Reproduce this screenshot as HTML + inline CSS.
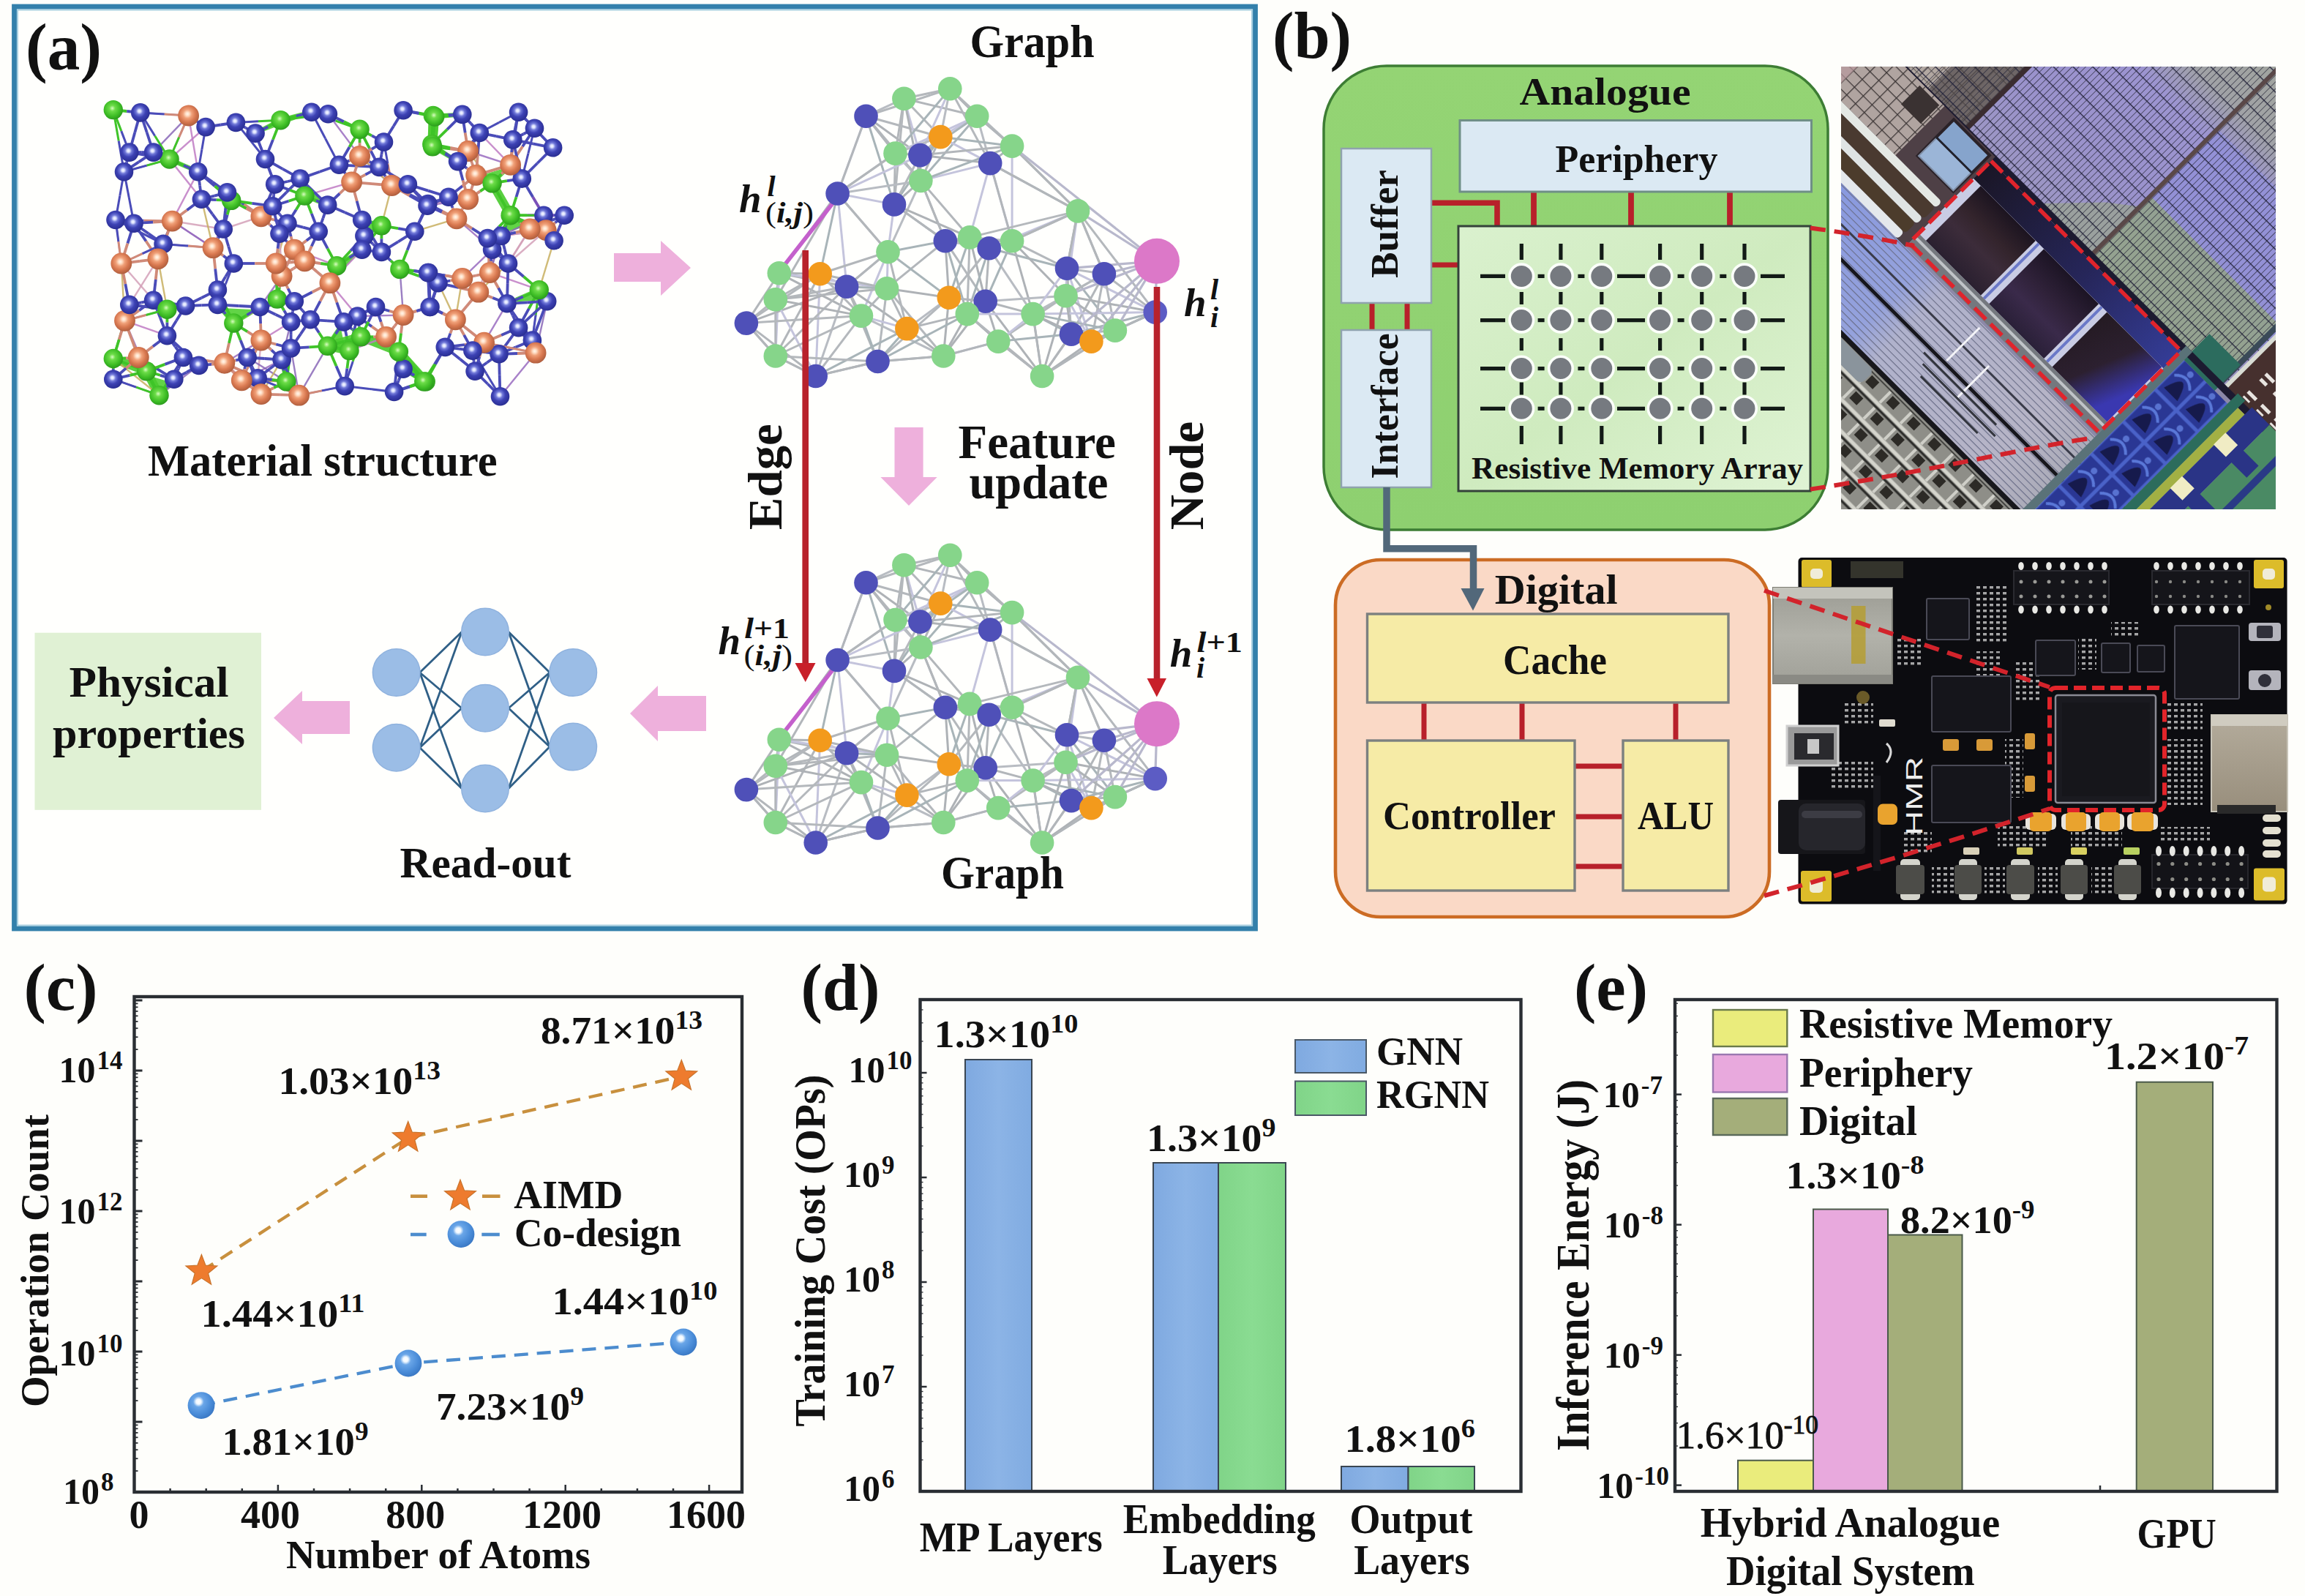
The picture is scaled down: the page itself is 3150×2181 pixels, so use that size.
<!DOCTYPE html>
<html lang="en"><head><meta charset="utf-8"><title>Figure</title>
<style>html,body{margin:0;padding:0;background:#fefefb}svg{display:block}</style>
</head><body>
<svg width="3150" height="2181" viewBox="0 0 3150 2181" font-family='"Liberation Serif", "DejaVu Serif", serif' fill="#111">
<defs>
<radialGradient id="gB" cx="45%" cy="42%" r="60%"><stop offset="0" stop-color="#f4f6ff"/><stop offset="0.12" stop-color="#dfe4ff"/><stop offset="0.3" stop-color="#7078d8"/><stop offset="0.55" stop-color="#3d42b4"/><stop offset="1" stop-color="#282c90"/></radialGradient>
<radialGradient id="gG" cx="45%" cy="42%" r="60%"><stop offset="0" stop-color="#d8fcc0"/><stop offset="0.25" stop-color="#6cdc48"/><stop offset="0.7" stop-color="#3cbc24"/><stop offset="1" stop-color="#2a981c"/></radialGradient>
<radialGradient id="gO" cx="45%" cy="42%" r="60%"><stop offset="0" stop-color="#fff6ec"/><stop offset="0.14" stop-color="#ffe0c8"/><stop offset="0.35" stop-color="#f0a078"/><stop offset="0.65" stop-color="#d87850"/><stop offset="1" stop-color="#ac5c3c"/></radialGradient>
<radialGradient id="gBall" cx="40%" cy="36%" r="66%"><stop offset="0" stop-color="#ffffff"/><stop offset="0.14" stop-color="#f0f8ff"/><stop offset="0.3" stop-color="#6aa6e8"/><stop offset="0.7" stop-color="#4a8cd8"/><stop offset="1" stop-color="#3a78c4"/></radialGradient>
<radialGradient id="gMem" cx="50%" cy="50%" r="50%"><stop offset="0" stop-color="#6a7078"/><stop offset="0.72" stop-color="#7a8088"/><stop offset="0.8" stop-color="#c8d4c4"/><stop offset="1" stop-color="#e4f2d8" stop-opacity="0.6"/></radialGradient>
<linearGradient id="gArr" x1="0" y1="0" x2="1" y2="1"><stop offset="0" stop-color="#daf1ce"/><stop offset="0.5" stop-color="#cfebbf"/><stop offset="1" stop-color="#dff3d4"/></linearGradient>
<linearGradient id="gAna" x1="0" y1="0" x2="0" y2="1"><stop offset="0" stop-color="#94d474"/><stop offset="1" stop-color="#8ed070"/></linearGradient>
<linearGradient id="gBlue" x1="0" y1="0" x2="1" y2="0"><stop offset="0" stop-color="#7fa9e0"/><stop offset="0.5" stop-color="#8cb4e6"/><stop offset="1" stop-color="#80abe1"/></linearGradient>
<linearGradient id="gGreen" x1="0" y1="0" x2="1" y2="0"><stop offset="0" stop-color="#80d488"/><stop offset="0.5" stop-color="#8adc92"/><stop offset="1" stop-color="#80d488"/></linearGradient>
</defs>
<rect x="0.0" y="0.0" width="3150.0" height="2181.0" fill="#fefefb"/>
<rect x="19.5" y="9" width="1696" height="1260" fill="#fffffd" stroke="#3380ab" stroke-width="6.8"/>
<rect x="24" y="13.5" width="1687" height="1251" fill="none" stroke="#6fb0cf" stroke-width="2" opacity="0.6"/>
<text x="35.0" y="95.4" font-size="92" font-weight="bold" textLength="104.0" lengthAdjust="spacingAndGlyphs">(a)</text>
<text x="1739.0" y="78.5" font-size="92" font-weight="bold" textLength="108.0" lengthAdjust="spacingAndGlyphs">(b)</text>
<text x="32.5" y="1380.0" font-size="92" font-weight="bold" textLength="101.0" lengthAdjust="spacingAndGlyphs">(c)</text>
<text x="1094.5" y="1380.0" font-size="92" font-weight="bold" textLength="108.0" lengthAdjust="spacingAndGlyphs">(d)</text>
<text x="2151.0" y="1380.0" font-size="92" font-weight="bold" textLength="101.0" lengthAdjust="spacingAndGlyphs">(e)</text>
<g id="mol">
<polygon points="383.5,164.2 359.4,176.7 413.1,156.5" fill="#52d034" stroke="#52d034" stroke-width="6" stroke-linejoin="round" opacity="0.9"/>
<polygon points="591.9,158.0 593.5,159.1 590.8,185.4" fill="#52d034" stroke="#52d034" stroke-width="6" stroke-linejoin="round" opacity="0.9"/>
<polygon points="231.6,217.5 216.2,210.9 259.0,229.5" fill="#52d034" stroke="#52d034" stroke-width="6" stroke-linejoin="round" opacity="0.9"/>
<polygon points="590.3,197.1 590.9,199.3 593.1,170.8" fill="#52d034" stroke="#52d034" stroke-width="6" stroke-linejoin="round" opacity="0.9"/>
<polygon points="416.4,267.6 412.0,251.2 438.3,276.4" fill="#52d034" stroke="#52d034" stroke-width="6" stroke-linejoin="round" opacity="0.9"/>
<polygon points="521.4,308.3 504.9,318.2 502.7,302.9" fill="#52d034" stroke="#52d034" stroke-width="6" stroke-linejoin="round" opacity="0.9"/>
<polygon points="460.3,363.2 453.7,379.6 484.4,347.8" fill="#52d034" stroke="#52d034" stroke-width="6" stroke-linejoin="round" opacity="0.9"/>
<polygon points="319.3,441.5 303.9,423.9 344.5,426.1" fill="#52d034" stroke="#52d034" stroke-width="6" stroke-linejoin="round" opacity="0.9"/>
<polygon points="447.7,472.8 468.6,477.2 463.1,449.8" fill="#52d034" stroke="#52d034" stroke-width="6" stroke-linejoin="round" opacity="0.9"/>
<polygon points="477.5,479.1 488.5,465.9 456.7,474.7" fill="#52d034" stroke="#52d034" stroke-width="6" stroke-linejoin="round" opacity="0.9"/>
<polygon points="544.9,480.6 549.2,497.1 532.8,466.4" fill="#52d034" stroke="#52d034" stroke-width="6" stroke-linejoin="round" opacity="0.9"/>
<polygon points="200.3,507.3 192.6,494.1 212.3,530.3" fill="#52d034" stroke="#52d034" stroke-width="6" stroke-linejoin="round" opacity="0.9"/>
<polygon points="217.5,540.2 231.7,524.8 205.4,517.1" fill="#52d034" stroke="#52d034" stroke-width="6" stroke-linejoin="round" opacity="0.9"/>
<polygon points="391.4,521.4 403.4,534.5 387.0,500.5" fill="#52d034" stroke="#52d034" stroke-width="6" stroke-linejoin="round" opacity="0.9"/>
<polygon points="579.3,521.4 581.0,521.4 559.6,509.3" fill="#52d034" stroke="#52d034" stroke-width="6" stroke-linejoin="round" opacity="0.9"/>
<polygon points="594.2,159.5 592.6,158.4 620.6,157.3" fill="#52d034" stroke="#52d034" stroke-width="6" stroke-linejoin="round" opacity="0.9"/>
<polygon points="591.1,200.3 590.5,198.1 615.2,214.5" fill="#52d034" stroke="#52d034" stroke-width="6" stroke-linejoin="round" opacity="0.9"/>
<polygon points="672.6,250.4 657.2,242.7 690.1,232.8" fill="#52d034" stroke="#52d034" stroke-width="6" stroke-linejoin="round" opacity="0.9"/>
<polygon points="697.6,294.2 688.8,314.0 716.3,307.4" fill="#52d034" stroke="#52d034" stroke-width="6" stroke-linejoin="round" opacity="0.9"/>
<polygon points="736.8,396.1 744.5,407.0 706.1,409.2" fill="#52d034" stroke="#52d034" stroke-width="6" stroke-linejoin="round" opacity="0.9"/>
<polygon points="581.7,521.4 580.0,521.4 560.3,509.3" fill="#52d034" stroke="#52d034" stroke-width="6" stroke-linejoin="round" opacity="0.9"/>
<line x1="591.9" y1="158.0" x2="590.3" y2="197.1" stroke="#4ccc30" stroke-width="12" stroke-linecap="round" opacity="0.92"/>
<line x1="591.9" y1="158.0" x2="594.2" y2="159.5" stroke="#4ccc30" stroke-width="12" stroke-linecap="round" opacity="0.92"/>
<line x1="591.9" y1="158.0" x2="591.1" y2="200.3" stroke="#4ccc30" stroke-width="12" stroke-linecap="round" opacity="0.92"/>
<line x1="590.3" y1="197.1" x2="594.2" y2="159.5" stroke="#4ccc30" stroke-width="12" stroke-linecap="round" opacity="0.92"/>
<line x1="590.3" y1="197.1" x2="591.1" y2="200.3" stroke="#4ccc30" stroke-width="12" stroke-linecap="round" opacity="0.92"/>
<line x1="447.7" y1="472.8" x2="477.5" y2="479.1" stroke="#4ccc30" stroke-width="12" stroke-linecap="round" opacity="0.92"/>
<line x1="447.7" y1="472.8" x2="493.2" y2="460.3" stroke="#4ccc30" stroke-width="12" stroke-linecap="round" opacity="0.92"/>
<line x1="477.5" y1="479.1" x2="493.2" y2="460.3" stroke="#4ccc30" stroke-width="12" stroke-linecap="round" opacity="0.92"/>
<line x1="493.2" y1="460.3" x2="544.9" y2="480.6" stroke="#4ccc30" stroke-width="12" stroke-linecap="round" opacity="0.92"/>
<line x1="154.8" y1="490.0" x2="200.3" y2="507.3" stroke="#4ccc30" stroke-width="12" stroke-linecap="round" opacity="0.92"/>
<line x1="544.9" y1="480.6" x2="579.3" y2="521.4" stroke="#4ccc30" stroke-width="12" stroke-linecap="round" opacity="0.92"/>
<line x1="544.9" y1="480.6" x2="581.7" y2="521.4" stroke="#4ccc30" stroke-width="12" stroke-linecap="round" opacity="0.92"/>
<line x1="200.3" y1="507.3" x2="217.5" y2="540.2" stroke="#4ccc30" stroke-width="12" stroke-linecap="round" opacity="0.92"/>
<line x1="579.3" y1="521.4" x2="581.7" y2="521.4" stroke="#4ccc30" stroke-width="12" stroke-linecap="round" opacity="0.92"/>
<line x1="594.2" y1="159.5" x2="591.1" y2="200.3" stroke="#4ccc30" stroke-width="12" stroke-linecap="round" opacity="0.92"/>
<line x1="672.6" y1="250.4" x2="697.6" y2="294.2" stroke="#4ccc30" stroke-width="12" stroke-linecap="round" opacity="0.92"/>
<line x1="257.6" y1="158.0" x2="191.8" y2="153.9" stroke="#8a68b8" stroke-width="2.4" opacity="0.85"/>
<line x1="257.6" y1="158.0" x2="209.6" y2="208.1" stroke="#8a68b8" stroke-width="2.4" opacity="0.85"/>
<line x1="257.6" y1="158.0" x2="270.7" y2="234.7" stroke="#c07cc4" stroke-width="2.4" opacity="0.85"/>
<line x1="231.6" y1="217.5" x2="169.5" y2="234.7" stroke="#8a68b8" stroke-width="2.4" opacity="0.85"/>
<line x1="231.6" y1="217.5" x2="257.6" y2="158.0" stroke="#c07cc4" stroke-width="2.4" opacity="0.85"/>
<line x1="231.6" y1="217.5" x2="281.1" y2="173.6" stroke="#c07cc4" stroke-width="2.4" opacity="0.85"/>
<line x1="231.6" y1="217.5" x2="275.4" y2="272.3" stroke="#c07cc4" stroke-width="2.4" opacity="0.85"/>
<line x1="491.6" y1="213.4" x2="480.6" y2="248.8" stroke="#8a68b8" stroke-width="2.4" opacity="0.85"/>
<line x1="491.6" y1="213.4" x2="524.5" y2="194.0" stroke="#c07cc4" stroke-width="2.4" opacity="0.85"/>
<line x1="491.6" y1="213.4" x2="535.5" y2="253.5" stroke="#c07cc4" stroke-width="2.4" opacity="0.85"/>
<line x1="491.6" y1="213.4" x2="448.4" y2="155.8" stroke="#9a6cc0" stroke-width="2.4" opacity="0.85"/>
<line x1="480.6" y1="248.8" x2="447.7" y2="280.1" stroke="#d4a0b8" stroke-width="2.4" opacity="0.85"/>
<line x1="480.6" y1="248.8" x2="494.7" y2="300.5" stroke="#c8b060" stroke-width="2.4" opacity="0.85"/>
<line x1="480.6" y1="248.8" x2="535.5" y2="253.5" stroke="#c07cc4" stroke-width="2.4" opacity="0.85"/>
<line x1="480.6" y1="248.8" x2="416.4" y2="267.6" stroke="#c07cc4" stroke-width="2.4" opacity="0.85"/>
<line x1="535.5" y1="253.5" x2="584.8" y2="278.6" stroke="#c8b060" stroke-width="2.4" opacity="0.85"/>
<line x1="535.5" y1="253.5" x2="584.0" y2="281.1" stroke="#c8b060" stroke-width="2.4" opacity="0.85"/>
<line x1="535.5" y1="253.5" x2="521.4" y2="308.3" stroke="#c8b060" stroke-width="2.4" opacity="0.85"/>
<line x1="535.5" y1="253.5" x2="491.6" y2="213.4" stroke="#c8b060" stroke-width="2.4" opacity="0.85"/>
<line x1="235.3" y1="302.1" x2="215.9" y2="353.8" stroke="#c07cc4" stroke-width="2.4" opacity="0.85"/>
<line x1="235.3" y1="302.1" x2="291.1" y2="338.7" stroke="#8a68b8" stroke-width="2.4" opacity="0.85"/>
<line x1="235.3" y1="302.1" x2="305.2" y2="313.0" stroke="#d4a0b8" stroke-width="2.4" opacity="0.85"/>
<line x1="235.3" y1="302.1" x2="270.7" y2="234.7" stroke="#c07cc4" stroke-width="2.4" opacity="0.85"/>
<line x1="356.9" y1="295.8" x2="316.2" y2="273.9" stroke="#d4a0b8" stroke-width="2.4" opacity="0.85"/>
<line x1="356.9" y1="295.8" x2="375.7" y2="251.9" stroke="#8a68b8" stroke-width="2.4" opacity="0.85"/>
<line x1="356.9" y1="295.8" x2="305.2" y2="313.0" stroke="#d4a0b8" stroke-width="2.4" opacity="0.85"/>
<line x1="356.9" y1="295.8" x2="310.5" y2="262.9" stroke="#9a6cc0" stroke-width="2.4" opacity="0.85"/>
<line x1="291.1" y1="338.7" x2="235.3" y2="302.1" stroke="#9a6cc0" stroke-width="2.4" opacity="0.85"/>
<line x1="291.1" y1="338.7" x2="223.1" y2="333.4" stroke="#9a6cc0" stroke-width="2.4" opacity="0.85"/>
<line x1="291.1" y1="338.7" x2="275.4" y2="272.3" stroke="#c8b060" stroke-width="2.4" opacity="0.85"/>
<line x1="291.1" y1="338.7" x2="316.2" y2="273.9" stroke="#9a6cc0" stroke-width="2.4" opacity="0.85"/>
<line x1="215.9" y1="353.8" x2="209.6" y2="410.2" stroke="#9a6cc0" stroke-width="2.4" opacity="0.85"/>
<line x1="215.9" y1="353.8" x2="183.0" y2="305.2" stroke="#8a68b8" stroke-width="2.4" opacity="0.85"/>
<line x1="215.9" y1="353.8" x2="228.4" y2="422.7" stroke="#c8b060" stroke-width="2.4" opacity="0.85"/>
<line x1="215.9" y1="353.8" x2="176.8" y2="416.4" stroke="#d4a0b8" stroke-width="2.4" opacity="0.85"/>
<line x1="165.8" y1="360.0" x2="158.0" y2="300.5" stroke="#c07cc4" stroke-width="2.4" opacity="0.85"/>
<line x1="165.8" y1="360.0" x2="223.1" y2="333.4" stroke="#c07cc4" stroke-width="2.4" opacity="0.85"/>
<line x1="165.8" y1="360.0" x2="209.6" y2="410.2" stroke="#d4a0b8" stroke-width="2.4" opacity="0.85"/>
<line x1="165.8" y1="360.0" x2="170.5" y2="438.3" stroke="#c8b060" stroke-width="2.4" opacity="0.85"/>
<line x1="377.3" y1="360.0" x2="382.0" y2="319.3" stroke="#8a68b8" stroke-width="2.4" opacity="0.85"/>
<line x1="377.3" y1="360.0" x2="378.8" y2="408.6" stroke="#d4a0b8" stroke-width="2.4" opacity="0.85"/>
<line x1="377.3" y1="360.0" x2="392.9" y2="305.2" stroke="#c8b060" stroke-width="2.4" opacity="0.85"/>
<line x1="377.3" y1="360.0" x2="402.3" y2="411.7" stroke="#d4a0b8" stroke-width="2.4" opacity="0.85"/>
<line x1="402.3" y1="341.2" x2="392.9" y2="305.2" stroke="#d4a0b8" stroke-width="2.4" opacity="0.85"/>
<line x1="402.3" y1="341.2" x2="385.1" y2="377.3" stroke="#c07cc4" stroke-width="2.4" opacity="0.85"/>
<line x1="402.3" y1="341.2" x2="435.2" y2="316.2" stroke="#9a6cc0" stroke-width="2.4" opacity="0.85"/>
<line x1="402.3" y1="341.2" x2="460.3" y2="363.2" stroke="#c07cc4" stroke-width="2.4" opacity="0.85"/>
<line x1="385.1" y1="377.3" x2="402.3" y2="411.7" stroke="#9a6cc0" stroke-width="2.4" opacity="0.85"/>
<line x1="385.1" y1="377.3" x2="402.3" y2="341.2" stroke="#c8b060" stroke-width="2.4" opacity="0.85"/>
<line x1="385.1" y1="377.3" x2="355.3" y2="419.5" stroke="#9a6cc0" stroke-width="2.4" opacity="0.85"/>
<line x1="385.1" y1="377.3" x2="382.0" y2="319.3" stroke="#d4a0b8" stroke-width="2.4" opacity="0.85"/>
<line x1="416.4" y1="356.9" x2="460.3" y2="363.2" stroke="#9a6cc0" stroke-width="2.4" opacity="0.85"/>
<line x1="416.4" y1="356.9" x2="435.2" y2="316.2" stroke="#c8b060" stroke-width="2.4" opacity="0.85"/>
<line x1="416.4" y1="356.9" x2="450.9" y2="386.7" stroke="#8a68b8" stroke-width="2.4" opacity="0.85"/>
<line x1="416.4" y1="356.9" x2="382.0" y2="319.3" stroke="#8a68b8" stroke-width="2.4" opacity="0.85"/>
<line x1="450.9" y1="386.7" x2="469.7" y2="439.9" stroke="#c8b060" stroke-width="2.4" opacity="0.85"/>
<line x1="450.9" y1="386.7" x2="424.2" y2="436.8" stroke="#d4a0b8" stroke-width="2.4" opacity="0.85"/>
<line x1="450.9" y1="386.7" x2="488.5" y2="432.1" stroke="#c07cc4" stroke-width="2.4" opacity="0.85"/>
<line x1="450.9" y1="386.7" x2="494.7" y2="341.2" stroke="#c07cc4" stroke-width="2.4" opacity="0.85"/>
<line x1="170.5" y1="438.3" x2="154.8" y2="490.0" stroke="#9a6cc0" stroke-width="2.4" opacity="0.85"/>
<line x1="170.5" y1="438.3" x2="228.4" y2="422.7" stroke="#9a6cc0" stroke-width="2.4" opacity="0.85"/>
<line x1="170.5" y1="438.3" x2="228.4" y2="458.7" stroke="#c07cc4" stroke-width="2.4" opacity="0.85"/>
<line x1="170.5" y1="438.3" x2="200.3" y2="507.3" stroke="#9a6cc0" stroke-width="2.4" opacity="0.85"/>
<line x1="551.1" y1="430.5" x2="513.5" y2="419.5" stroke="#c8b060" stroke-width="2.4" opacity="0.85"/>
<line x1="551.1" y1="430.5" x2="544.9" y2="480.6" stroke="#d4a0b8" stroke-width="2.4" opacity="0.85"/>
<line x1="551.1" y1="430.5" x2="488.5" y2="432.1" stroke="#9a6cc0" stroke-width="2.4" opacity="0.85"/>
<line x1="551.1" y1="430.5" x2="546.4" y2="367.9" stroke="#8a68b8" stroke-width="2.4" opacity="0.85"/>
<line x1="319.3" y1="441.5" x2="297.4" y2="396.1" stroke="#c07cc4" stroke-width="2.4" opacity="0.85"/>
<line x1="319.3" y1="441.5" x2="338.1" y2="488.5" stroke="#8a68b8" stroke-width="2.4" opacity="0.85"/>
<line x1="319.3" y1="441.5" x2="306.8" y2="496.3" stroke="#9a6cc0" stroke-width="2.4" opacity="0.85"/>
<line x1="319.3" y1="441.5" x2="378.8" y2="408.6" stroke="#c8b060" stroke-width="2.4" opacity="0.85"/>
<line x1="356.9" y1="465.0" x2="319.3" y2="441.5" stroke="#9a6cc0" stroke-width="2.4" opacity="0.85"/>
<line x1="356.9" y1="465.0" x2="355.3" y2="419.5" stroke="#9a6cc0" stroke-width="2.4" opacity="0.85"/>
<line x1="356.9" y1="465.0" x2="397.6" y2="439.9" stroke="#c07cc4" stroke-width="2.4" opacity="0.85"/>
<line x1="356.9" y1="465.0" x2="352.2" y2="516.7" stroke="#d4a0b8" stroke-width="2.4" opacity="0.85"/>
<line x1="527.6" y1="460.3" x2="513.5" y2="419.5" stroke="#8a68b8" stroke-width="2.4" opacity="0.85"/>
<line x1="527.6" y1="460.3" x2="488.5" y2="432.1" stroke="#c8b060" stroke-width="2.4" opacity="0.85"/>
<line x1="527.6" y1="460.3" x2="551.1" y2="504.1" stroke="#9a6cc0" stroke-width="2.4" opacity="0.85"/>
<line x1="527.6" y1="460.3" x2="477.5" y2="479.1" stroke="#c07cc4" stroke-width="2.4" opacity="0.85"/>
<line x1="189.3" y1="488.5" x2="228.4" y2="458.7" stroke="#d4a0b8" stroke-width="2.4" opacity="0.85"/>
<line x1="189.3" y1="488.5" x2="170.5" y2="438.3" stroke="#c8b060" stroke-width="2.4" opacity="0.85"/>
<line x1="189.3" y1="488.5" x2="237.8" y2="518.2" stroke="#8a68b8" stroke-width="2.4" opacity="0.85"/>
<line x1="189.3" y1="488.5" x2="217.5" y2="540.2" stroke="#8a68b8" stroke-width="2.4" opacity="0.85"/>
<line x1="306.8" y1="496.3" x2="352.2" y2="516.7" stroke="#8a68b8" stroke-width="2.4" opacity="0.85"/>
<line x1="306.8" y1="496.3" x2="319.3" y2="441.5" stroke="#9a6cc0" stroke-width="2.4" opacity="0.85"/>
<line x1="306.8" y1="496.3" x2="250.4" y2="488.5" stroke="#8a68b8" stroke-width="2.4" opacity="0.85"/>
<line x1="306.8" y1="496.3" x2="356.9" y2="465.0" stroke="#9a6cc0" stroke-width="2.4" opacity="0.85"/>
<line x1="385.1" y1="491.6" x2="352.2" y2="516.7" stroke="#c8b060" stroke-width="2.4" opacity="0.85"/>
<line x1="385.1" y1="491.6" x2="338.1" y2="488.5" stroke="#9a6cc0" stroke-width="2.4" opacity="0.85"/>
<line x1="385.1" y1="491.6" x2="397.6" y2="439.9" stroke="#8a68b8" stroke-width="2.4" opacity="0.85"/>
<line x1="385.1" y1="491.6" x2="408.6" y2="540.2" stroke="#c07cc4" stroke-width="2.4" opacity="0.85"/>
<line x1="217.5" y1="540.2" x2="250.4" y2="488.5" stroke="#8a68b8" stroke-width="2.4" opacity="0.85"/>
<line x1="217.5" y1="540.2" x2="154.8" y2="518.2" stroke="#8a68b8" stroke-width="2.4" opacity="0.85"/>
<line x1="217.5" y1="540.2" x2="271.7" y2="499.4" stroke="#8a68b8" stroke-width="2.4" opacity="0.85"/>
<line x1="217.5" y1="540.2" x2="154.8" y2="490.0" stroke="#c8b060" stroke-width="2.4" opacity="0.85"/>
<line x1="330.3" y1="519.8" x2="306.8" y2="496.3" stroke="#c07cc4" stroke-width="2.4" opacity="0.85"/>
<line x1="330.3" y1="519.8" x2="356.9" y2="465.0" stroke="#8a68b8" stroke-width="2.4" opacity="0.85"/>
<line x1="330.3" y1="519.8" x2="391.4" y2="521.4" stroke="#c07cc4" stroke-width="2.4" opacity="0.85"/>
<line x1="330.3" y1="519.8" x2="385.1" y2="491.6" stroke="#9a6cc0" stroke-width="2.4" opacity="0.85"/>
<line x1="391.4" y1="521.4" x2="352.2" y2="516.7" stroke="#c07cc4" stroke-width="2.4" opacity="0.85"/>
<line x1="391.4" y1="521.4" x2="397.6" y2="475.9" stroke="#8a68b8" stroke-width="2.4" opacity="0.85"/>
<line x1="391.4" y1="521.4" x2="330.3" y2="519.8" stroke="#c8b060" stroke-width="2.4" opacity="0.85"/>
<line x1="391.4" y1="521.4" x2="338.1" y2="488.5" stroke="#8a68b8" stroke-width="2.4" opacity="0.85"/>
<line x1="356.9" y1="538.6" x2="408.6" y2="540.2" stroke="#c07cc4" stroke-width="2.4" opacity="0.85"/>
<line x1="356.9" y1="538.6" x2="338.1" y2="488.5" stroke="#c07cc4" stroke-width="2.4" opacity="0.85"/>
<line x1="356.9" y1="538.6" x2="385.1" y2="491.6" stroke="#c8b060" stroke-width="2.4" opacity="0.85"/>
<line x1="356.9" y1="538.6" x2="306.8" y2="496.3" stroke="#d4a0b8" stroke-width="2.4" opacity="0.85"/>
<line x1="408.6" y1="540.2" x2="352.2" y2="516.7" stroke="#8a68b8" stroke-width="2.4" opacity="0.85"/>
<line x1="408.6" y1="540.2" x2="471.2" y2="527.6" stroke="#8a68b8" stroke-width="2.4" opacity="0.85"/>
<line x1="408.6" y1="540.2" x2="397.6" y2="475.9" stroke="#8a68b8" stroke-width="2.4" opacity="0.85"/>
<line x1="408.6" y1="540.2" x2="447.7" y2="472.8" stroke="#8a68b8" stroke-width="2.4" opacity="0.85"/>
<line x1="639.7" y1="206.5" x2="591.1" y2="200.3" stroke="#9a6cc0" stroke-width="2.4" opacity="0.85"/>
<line x1="639.7" y1="206.5" x2="590.3" y2="197.1" stroke="#c8b060" stroke-width="2.4" opacity="0.85"/>
<line x1="639.7" y1="206.5" x2="631.8" y2="156.4" stroke="#9a6cc0" stroke-width="2.4" opacity="0.85"/>
<line x1="639.7" y1="206.5" x2="672.6" y2="250.4" stroke="#c8b060" stroke-width="2.4" opacity="0.85"/>
<line x1="697.6" y1="225.3" x2="650.6" y2="239.4" stroke="#c8b060" stroke-width="2.4" opacity="0.85"/>
<line x1="697.6" y1="225.3" x2="730.5" y2="175.2" stroke="#d4a0b8" stroke-width="2.4" opacity="0.85"/>
<line x1="697.6" y1="225.3" x2="655.3" y2="181.5" stroke="#c07cc4" stroke-width="2.4" opacity="0.85"/>
<line x1="697.6" y1="225.3" x2="639.7" y2="206.5" stroke="#9a6cc0" stroke-width="2.4" opacity="0.85"/>
<line x1="650.6" y1="239.4" x2="639.7" y2="272.3" stroke="#9a6cc0" stroke-width="2.4" opacity="0.85"/>
<line x1="650.6" y1="239.4" x2="613.0" y2="269.2" stroke="#d4a0b8" stroke-width="2.4" opacity="0.85"/>
<line x1="650.6" y1="239.4" x2="697.6" y2="225.3" stroke="#c07cc4" stroke-width="2.4" opacity="0.85"/>
<line x1="650.6" y1="239.4" x2="655.3" y2="181.5" stroke="#9a6cc0" stroke-width="2.4" opacity="0.85"/>
<line x1="639.7" y1="272.3" x2="672.6" y2="250.4" stroke="#d4a0b8" stroke-width="2.4" opacity="0.85"/>
<line x1="639.7" y1="272.3" x2="625.6" y2="220.6" stroke="#9a6cc0" stroke-width="2.4" opacity="0.85"/>
<line x1="639.7" y1="272.3" x2="584.8" y2="278.6" stroke="#d4a0b8" stroke-width="2.4" opacity="0.85"/>
<line x1="639.7" y1="272.3" x2="584.0" y2="281.1" stroke="#9a6cc0" stroke-width="2.4" opacity="0.85"/>
<line x1="624.0" y1="298.9" x2="584.8" y2="278.6" stroke="#c07cc4" stroke-width="2.4" opacity="0.85"/>
<line x1="624.0" y1="298.9" x2="666.3" y2="325.6" stroke="#c8b060" stroke-width="2.4" opacity="0.85"/>
<line x1="624.0" y1="298.9" x2="566.8" y2="316.2" stroke="#c8b060" stroke-width="2.4" opacity="0.85"/>
<line x1="624.0" y1="298.9" x2="672.6" y2="341.2" stroke="#9a6cc0" stroke-width="2.4" opacity="0.85"/>
<line x1="743.0" y1="294.2" x2="757.1" y2="328.7" stroke="#9a6cc0" stroke-width="2.4" opacity="0.85"/>
<line x1="743.0" y1="294.2" x2="697.6" y2="294.2" stroke="#9a6cc0" stroke-width="2.4" opacity="0.85"/>
<line x1="743.0" y1="294.2" x2="713.3" y2="244.1" stroke="#c8b060" stroke-width="2.4" opacity="0.85"/>
<line x1="743.0" y1="294.2" x2="685.1" y2="322.4" stroke="#8a68b8" stroke-width="2.4" opacity="0.85"/>
<line x1="724.2" y1="313.0" x2="757.1" y2="328.7" stroke="#c8b060" stroke-width="2.4" opacity="0.85"/>
<line x1="724.2" y1="313.0" x2="685.1" y2="322.4" stroke="#9a6cc0" stroke-width="2.4" opacity="0.85"/>
<line x1="724.2" y1="313.0" x2="771.2" y2="294.2" stroke="#d4a0b8" stroke-width="2.4" opacity="0.85"/>
<line x1="724.2" y1="313.0" x2="694.5" y2="360.0" stroke="#d4a0b8" stroke-width="2.4" opacity="0.85"/>
<line x1="746.2" y1="314.6" x2="771.2" y2="294.2" stroke="#c07cc4" stroke-width="2.4" opacity="0.85"/>
<line x1="746.2" y1="314.6" x2="697.6" y2="294.2" stroke="#d4a0b8" stroke-width="2.4" opacity="0.85"/>
<line x1="746.2" y1="314.6" x2="685.1" y2="322.4" stroke="#c07cc4" stroke-width="2.4" opacity="0.85"/>
<line x1="746.2" y1="314.6" x2="694.5" y2="360.0" stroke="#d4a0b8" stroke-width="2.4" opacity="0.85"/>
<line x1="685.1" y1="322.4" x2="694.5" y2="360.0" stroke="#d4a0b8" stroke-width="2.4" opacity="0.85"/>
<line x1="685.1" y1="322.4" x2="724.2" y2="313.0" stroke="#8a68b8" stroke-width="2.4" opacity="0.85"/>
<line x1="685.1" y1="322.4" x2="669.4" y2="372.6" stroke="#8a68b8" stroke-width="2.4" opacity="0.85"/>
<line x1="685.1" y1="322.4" x2="746.2" y2="314.6" stroke="#d4a0b8" stroke-width="2.4" opacity="0.85"/>
<line x1="694.5" y1="360.0" x2="666.3" y2="325.6" stroke="#9a6cc0" stroke-width="2.4" opacity="0.85"/>
<line x1="694.5" y1="360.0" x2="692.9" y2="414.8" stroke="#c07cc4" stroke-width="2.4" opacity="0.85"/>
<line x1="694.5" y1="360.0" x2="736.8" y2="396.1" stroke="#c07cc4" stroke-width="2.4" opacity="0.85"/>
<line x1="694.5" y1="360.0" x2="724.2" y2="313.0" stroke="#d4a0b8" stroke-width="2.4" opacity="0.85"/>
<line x1="631.8" y1="380.4" x2="585.6" y2="372.6" stroke="#9a6cc0" stroke-width="2.4" opacity="0.85"/>
<line x1="631.8" y1="380.4" x2="584.8" y2="372.6" stroke="#d4a0b8" stroke-width="2.4" opacity="0.85"/>
<line x1="631.8" y1="380.4" x2="672.6" y2="341.2" stroke="#9a6cc0" stroke-width="2.4" opacity="0.85"/>
<line x1="631.8" y1="380.4" x2="622.4" y2="436.8" stroke="#c8b060" stroke-width="2.4" opacity="0.85"/>
<line x1="669.4" y1="372.6" x2="631.8" y2="380.4" stroke="#d4a0b8" stroke-width="2.4" opacity="0.85"/>
<line x1="669.4" y1="372.6" x2="666.3" y2="325.6" stroke="#c8b060" stroke-width="2.4" opacity="0.85"/>
<line x1="669.4" y1="372.6" x2="692.9" y2="414.8" stroke="#9a6cc0" stroke-width="2.4" opacity="0.85"/>
<line x1="669.4" y1="372.6" x2="685.1" y2="322.4" stroke="#8a68b8" stroke-width="2.4" opacity="0.85"/>
<line x1="653.8" y1="399.2" x2="622.4" y2="436.8" stroke="#8a68b8" stroke-width="2.4" opacity="0.85"/>
<line x1="653.8" y1="399.2" x2="598.9" y2="386.7" stroke="#8a68b8" stroke-width="2.4" opacity="0.85"/>
<line x1="653.8" y1="399.2" x2="694.5" y2="360.0" stroke="#c8b060" stroke-width="2.4" opacity="0.85"/>
<line x1="653.8" y1="399.2" x2="672.6" y2="341.2" stroke="#d4a0b8" stroke-width="2.4" opacity="0.85"/>
<line x1="736.8" y1="396.1" x2="708.6" y2="447.7" stroke="#c07cc4" stroke-width="2.4" opacity="0.85"/>
<line x1="736.8" y1="396.1" x2="727.4" y2="465.0" stroke="#9a6cc0" stroke-width="2.4" opacity="0.85"/>
<line x1="736.8" y1="396.1" x2="757.1" y2="328.7" stroke="#c8b060" stroke-width="2.4" opacity="0.85"/>
<line x1="736.8" y1="396.1" x2="669.4" y2="372.6" stroke="#c07cc4" stroke-width="2.4" opacity="0.85"/>
<line x1="692.9" y1="414.8" x2="669.4" y2="372.6" stroke="#c07cc4" stroke-width="2.4" opacity="0.85"/>
<line x1="692.9" y1="414.8" x2="694.5" y2="360.0" stroke="#d4a0b8" stroke-width="2.4" opacity="0.85"/>
<line x1="692.9" y1="414.8" x2="747.7" y2="411.7" stroke="#c07cc4" stroke-width="2.4" opacity="0.85"/>
<line x1="692.9" y1="414.8" x2="727.4" y2="465.0" stroke="#8a68b8" stroke-width="2.4" opacity="0.85"/>
<line x1="622.4" y1="436.8" x2="645.9" y2="479.1" stroke="#c07cc4" stroke-width="2.4" opacity="0.85"/>
<line x1="622.4" y1="436.8" x2="653.8" y2="399.2" stroke="#d4a0b8" stroke-width="2.4" opacity="0.85"/>
<line x1="622.4" y1="436.8" x2="661.6" y2="468.1" stroke="#c07cc4" stroke-width="2.4" opacity="0.85"/>
<line x1="622.4" y1="436.8" x2="598.9" y2="386.7" stroke="#c8b060" stroke-width="2.4" opacity="0.85"/>
<line x1="708.6" y1="447.7" x2="682.0" y2="483.8" stroke="#8a68b8" stroke-width="2.4" opacity="0.85"/>
<line x1="708.6" y1="447.7" x2="661.6" y2="468.1" stroke="#c8b060" stroke-width="2.4" opacity="0.85"/>
<line x1="708.6" y1="447.7" x2="747.7" y2="411.7" stroke="#d4a0b8" stroke-width="2.4" opacity="0.85"/>
<line x1="708.6" y1="447.7" x2="736.8" y2="396.1" stroke="#8a68b8" stroke-width="2.4" opacity="0.85"/>
<line x1="661.6" y1="468.1" x2="622.4" y2="436.8" stroke="#8a68b8" stroke-width="2.4" opacity="0.85"/>
<line x1="661.6" y1="468.1" x2="708.6" y2="447.7" stroke="#9a6cc0" stroke-width="2.4" opacity="0.85"/>
<line x1="661.6" y1="468.1" x2="608.3" y2="474.4" stroke="#c07cc4" stroke-width="2.4" opacity="0.85"/>
<line x1="661.6" y1="468.1" x2="692.9" y2="414.8" stroke="#9a6cc0" stroke-width="2.4" opacity="0.85"/>
<line x1="732.1" y1="482.2" x2="661.6" y2="468.1" stroke="#d4a0b8" stroke-width="2.4" opacity="0.85"/>
<line x1="732.1" y1="482.2" x2="747.7" y2="411.7" stroke="#8a68b8" stroke-width="2.4" opacity="0.85"/>
<line x1="732.1" y1="482.2" x2="683.5" y2="541.7" stroke="#9a6cc0" stroke-width="2.4" opacity="0.85"/>
<line x1="732.1" y1="482.2" x2="692.9" y2="414.8" stroke="#d4a0b8" stroke-width="2.4" opacity="0.85"/>
<line x1="154.8" y1="150.1" x2="173.3" y2="152.0" stroke="#3fc428" stroke-width="3.8"/>
<line x1="173.3" y1="152.0" x2="191.8" y2="153.9" stroke="#4a4cb8" stroke-width="3.8"/>
<line x1="154.8" y1="150.1" x2="165.8" y2="179.1" stroke="#3fc428" stroke-width="3.0"/>
<line x1="165.8" y1="179.1" x2="176.8" y2="208.1" stroke="#4a4cb8" stroke-width="3.0"/>
<line x1="154.8" y1="150.1" x2="162.2" y2="192.4" stroke="#3fc428" stroke-width="3.0"/>
<line x1="162.2" y1="192.4" x2="169.5" y2="234.7" stroke="#4a4cb8" stroke-width="3.0"/>
<line x1="191.8" y1="153.9" x2="224.7" y2="155.9" stroke="#4a4cb8" stroke-width="3.0"/>
<line x1="224.7" y1="155.9" x2="257.6" y2="158.0" stroke="#d08a78" stroke-width="3.0"/>
<line x1="191.8" y1="153.9" x2="184.3" y2="181.0" stroke="#4a4cb8" stroke-width="3.8"/>
<line x1="184.3" y1="181.0" x2="176.8" y2="208.1" stroke="#4a4cb8" stroke-width="3.8"/>
<line x1="191.8" y1="153.9" x2="200.7" y2="181.0" stroke="#4a4cb8" stroke-width="3.8"/>
<line x1="200.7" y1="181.0" x2="209.6" y2="208.1" stroke="#4a4cb8" stroke-width="3.8"/>
<line x1="191.8" y1="153.9" x2="211.7" y2="185.7" stroke="#4a4cb8" stroke-width="3.0"/>
<line x1="211.7" y1="185.7" x2="231.6" y2="217.5" stroke="#3fc428" stroke-width="3.0"/>
<line x1="257.6" y1="158.0" x2="269.3" y2="165.8" stroke="#d08a78" stroke-width="3.8"/>
<line x1="269.3" y1="165.8" x2="281.1" y2="173.6" stroke="#4a4cb8" stroke-width="3.8"/>
<line x1="257.6" y1="158.0" x2="244.6" y2="187.7" stroke="#d08a78" stroke-width="3.0"/>
<line x1="244.6" y1="187.7" x2="231.6" y2="217.5" stroke="#3fc428" stroke-width="3.0"/>
<line x1="281.1" y1="173.6" x2="301.8" y2="170.5" stroke="#4a4cb8" stroke-width="3.8"/>
<line x1="301.8" y1="170.5" x2="322.4" y2="167.4" stroke="#4a4cb8" stroke-width="3.8"/>
<line x1="281.1" y1="173.6" x2="275.9" y2="204.2" stroke="#4a4cb8" stroke-width="3.0"/>
<line x1="275.9" y1="204.2" x2="270.7" y2="234.7" stroke="#4a4cb8" stroke-width="3.0"/>
<line x1="322.4" y1="167.4" x2="335.7" y2="174.7" stroke="#4a4cb8" stroke-width="3.8"/>
<line x1="335.7" y1="174.7" x2="349.1" y2="182.1" stroke="#4a4cb8" stroke-width="3.8"/>
<line x1="322.4" y1="167.4" x2="353.0" y2="165.8" stroke="#4a4cb8" stroke-width="3.0"/>
<line x1="353.0" y1="165.8" x2="383.5" y2="164.2" stroke="#3fc428" stroke-width="3.0"/>
<line x1="322.4" y1="167.4" x2="342.5" y2="192.4" stroke="#4a4cb8" stroke-width="3.0"/>
<line x1="342.5" y1="192.4" x2="362.5" y2="217.5" stroke="#4a4cb8" stroke-width="3.0"/>
<line x1="349.1" y1="182.1" x2="366.3" y2="173.2" stroke="#4a4cb8" stroke-width="3.8"/>
<line x1="366.3" y1="173.2" x2="383.5" y2="164.2" stroke="#3fc428" stroke-width="3.8"/>
<line x1="349.1" y1="182.1" x2="355.8" y2="199.8" stroke="#4a4cb8" stroke-width="3.8"/>
<line x1="355.8" y1="199.8" x2="362.5" y2="217.5" stroke="#4a4cb8" stroke-width="3.8"/>
<line x1="349.1" y1="182.1" x2="362.4" y2="217.0" stroke="#4a4cb8" stroke-width="3.0"/>
<line x1="362.4" y1="217.0" x2="375.7" y2="251.9" stroke="#4a4cb8" stroke-width="3.0"/>
<line x1="383.5" y1="164.2" x2="404.7" y2="158.7" stroke="#3fc428" stroke-width="3.8"/>
<line x1="404.7" y1="158.7" x2="425.8" y2="153.3" stroke="#4a4cb8" stroke-width="3.8"/>
<line x1="383.5" y1="164.2" x2="415.9" y2="160.0" stroke="#3fc428" stroke-width="3.0"/>
<line x1="415.9" y1="160.0" x2="448.4" y2="155.8" stroke="#4a4cb8" stroke-width="3.0"/>
<line x1="383.5" y1="164.2" x2="373.0" y2="190.9" stroke="#3fc428" stroke-width="3.8"/>
<line x1="373.0" y1="190.9" x2="362.5" y2="217.5" stroke="#4a4cb8" stroke-width="3.8"/>
<line x1="425.8" y1="153.3" x2="437.1" y2="154.5" stroke="#4a4cb8" stroke-width="3.8"/>
<line x1="437.1" y1="154.5" x2="448.4" y2="155.8" stroke="#4a4cb8" stroke-width="3.8"/>
<line x1="425.8" y1="153.3" x2="458.7" y2="165.0" stroke="#4a4cb8" stroke-width="3.0"/>
<line x1="458.7" y1="165.0" x2="491.6" y2="176.8" stroke="#3fc428" stroke-width="3.0"/>
<line x1="425.8" y1="153.3" x2="444.6" y2="189.3" stroke="#4a4cb8" stroke-width="3.0"/>
<line x1="444.6" y1="189.3" x2="463.4" y2="225.3" stroke="#4a4cb8" stroke-width="3.0"/>
<line x1="448.4" y1="155.8" x2="470.0" y2="166.3" stroke="#4a4cb8" stroke-width="3.8"/>
<line x1="470.0" y1="166.3" x2="491.6" y2="176.8" stroke="#3fc428" stroke-width="3.8"/>
<line x1="491.6" y1="176.8" x2="477.5" y2="201.0" stroke="#3fc428" stroke-width="3.8"/>
<line x1="477.5" y1="201.0" x2="463.4" y2="225.3" stroke="#4a4cb8" stroke-width="3.8"/>
<line x1="491.6" y1="176.8" x2="491.6" y2="195.1" stroke="#3fc428" stroke-width="3.8"/>
<line x1="491.6" y1="195.1" x2="491.6" y2="213.4" stroke="#d08a78" stroke-width="3.8"/>
<line x1="491.6" y1="176.8" x2="508.1" y2="185.4" stroke="#3fc428" stroke-width="3.8"/>
<line x1="508.1" y1="185.4" x2="524.5" y2="194.0" stroke="#4a4cb8" stroke-width="3.8"/>
<line x1="491.6" y1="176.8" x2="504.9" y2="202.6" stroke="#3fc428" stroke-width="3.8"/>
<line x1="504.9" y1="202.6" x2="518.2" y2="228.4" stroke="#4a4cb8" stroke-width="3.8"/>
<line x1="551.1" y1="150.8" x2="571.5" y2="154.4" stroke="#4a4cb8" stroke-width="3.8"/>
<line x1="571.5" y1="154.4" x2="591.9" y2="158.0" stroke="#3fc428" stroke-width="3.8"/>
<line x1="551.1" y1="150.8" x2="537.8" y2="172.4" stroke="#4a4cb8" stroke-width="3.8"/>
<line x1="537.8" y1="172.4" x2="524.5" y2="194.0" stroke="#4a4cb8" stroke-width="3.8"/>
<line x1="551.1" y1="150.8" x2="572.7" y2="155.1" stroke="#4a4cb8" stroke-width="3.8"/>
<line x1="572.7" y1="155.1" x2="594.2" y2="159.5" stroke="#3fc428" stroke-width="3.8"/>
<line x1="591.9" y1="158.0" x2="591.1" y2="177.5" stroke="#3fc428" stroke-width="3.8"/>
<line x1="591.1" y1="177.5" x2="590.3" y2="197.1" stroke="#3fc428" stroke-width="3.8"/>
<line x1="591.9" y1="158.0" x2="593.0" y2="158.7" stroke="#3fc428" stroke-width="3.8"/>
<line x1="593.0" y1="158.7" x2="594.2" y2="159.5" stroke="#3fc428" stroke-width="3.8"/>
<line x1="591.9" y1="158.0" x2="611.8" y2="157.2" stroke="#3fc428" stroke-width="3.8"/>
<line x1="611.8" y1="157.2" x2="631.8" y2="156.4" stroke="#4a4cb8" stroke-width="3.8"/>
<line x1="591.9" y1="158.0" x2="591.5" y2="179.1" stroke="#3fc428" stroke-width="3.8"/>
<line x1="591.5" y1="179.1" x2="591.1" y2="200.3" stroke="#3fc428" stroke-width="3.8"/>
<line x1="176.8" y1="208.1" x2="173.2" y2="221.4" stroke="#4a4cb8" stroke-width="3.8"/>
<line x1="173.2" y1="221.4" x2="169.5" y2="234.7" stroke="#4a4cb8" stroke-width="3.8"/>
<line x1="176.8" y1="208.1" x2="193.2" y2="208.1" stroke="#4a4cb8" stroke-width="3.8"/>
<line x1="193.2" y1="208.1" x2="209.6" y2="208.1" stroke="#4a4cb8" stroke-width="3.8"/>
<line x1="176.8" y1="208.1" x2="204.2" y2="212.8" stroke="#4a4cb8" stroke-width="3.8"/>
<line x1="204.2" y1="212.8" x2="231.6" y2="217.5" stroke="#3fc428" stroke-width="3.8"/>
<line x1="169.5" y1="234.7" x2="189.6" y2="221.4" stroke="#4a4cb8" stroke-width="3.8"/>
<line x1="189.6" y1="221.4" x2="209.6" y2="208.1" stroke="#4a4cb8" stroke-width="3.8"/>
<line x1="169.5" y1="234.7" x2="200.6" y2="226.1" stroke="#4a4cb8" stroke-width="3.0"/>
<line x1="200.6" y1="226.1" x2="231.6" y2="217.5" stroke="#3fc428" stroke-width="3.0"/>
<line x1="169.5" y1="234.7" x2="163.8" y2="267.6" stroke="#4a4cb8" stroke-width="3.0"/>
<line x1="163.8" y1="267.6" x2="158.0" y2="300.5" stroke="#4a4cb8" stroke-width="3.0"/>
<line x1="169.5" y1="234.7" x2="176.3" y2="270.0" stroke="#4a4cb8" stroke-width="3.0"/>
<line x1="176.3" y1="270.0" x2="183.0" y2="305.2" stroke="#4a4cb8" stroke-width="3.0"/>
<line x1="209.6" y1="208.1" x2="220.6" y2="212.8" stroke="#4a4cb8" stroke-width="3.8"/>
<line x1="220.6" y1="212.8" x2="231.6" y2="217.5" stroke="#3fc428" stroke-width="3.8"/>
<line x1="209.6" y1="208.1" x2="240.2" y2="221.4" stroke="#4a4cb8" stroke-width="3.0"/>
<line x1="240.2" y1="221.4" x2="270.7" y2="234.7" stroke="#4a4cb8" stroke-width="3.0"/>
<line x1="231.6" y1="217.5" x2="251.2" y2="226.1" stroke="#3fc428" stroke-width="3.8"/>
<line x1="251.2" y1="226.1" x2="270.7" y2="234.7" stroke="#4a4cb8" stroke-width="3.8"/>
<line x1="270.7" y1="234.7" x2="273.1" y2="253.5" stroke="#4a4cb8" stroke-width="3.8"/>
<line x1="273.1" y1="253.5" x2="275.4" y2="272.3" stroke="#4a4cb8" stroke-width="3.8"/>
<line x1="270.7" y1="234.7" x2="290.6" y2="248.8" stroke="#4a4cb8" stroke-width="3.8"/>
<line x1="290.6" y1="248.8" x2="310.5" y2="262.9" stroke="#4a4cb8" stroke-width="3.8"/>
<line x1="270.7" y1="234.7" x2="293.5" y2="254.3" stroke="#4a4cb8" stroke-width="3.8"/>
<line x1="293.5" y1="254.3" x2="316.2" y2="273.9" stroke="#3fc428" stroke-width="3.8"/>
<line x1="362.5" y1="217.5" x2="386.3" y2="230.8" stroke="#4a4cb8" stroke-width="3.8"/>
<line x1="386.3" y1="230.8" x2="410.2" y2="244.1" stroke="#4a4cb8" stroke-width="3.8"/>
<line x1="362.5" y1="217.5" x2="369.1" y2="234.7" stroke="#4a4cb8" stroke-width="3.8"/>
<line x1="369.1" y1="234.7" x2="375.7" y2="251.9" stroke="#4a4cb8" stroke-width="3.8"/>
<line x1="463.4" y1="225.3" x2="477.5" y2="219.4" stroke="#4a4cb8" stroke-width="3.8"/>
<line x1="477.5" y1="219.4" x2="491.6" y2="213.4" stroke="#d08a78" stroke-width="3.8"/>
<line x1="463.4" y1="225.3" x2="436.8" y2="234.7" stroke="#4a4cb8" stroke-width="3.8"/>
<line x1="436.8" y1="234.7" x2="410.2" y2="244.1" stroke="#4a4cb8" stroke-width="3.8"/>
<line x1="463.4" y1="225.3" x2="472.0" y2="237.1" stroke="#4a4cb8" stroke-width="3.8"/>
<line x1="472.0" y1="237.1" x2="480.6" y2="248.8" stroke="#d08a78" stroke-width="3.8"/>
<line x1="463.4" y1="225.3" x2="490.8" y2="226.9" stroke="#4a4cb8" stroke-width="3.8"/>
<line x1="490.8" y1="226.9" x2="518.2" y2="228.4" stroke="#4a4cb8" stroke-width="3.8"/>
<line x1="491.6" y1="213.4" x2="508.1" y2="203.7" stroke="#d08a78" stroke-width="3.8"/>
<line x1="508.1" y1="203.7" x2="524.5" y2="194.0" stroke="#4a4cb8" stroke-width="3.8"/>
<line x1="491.6" y1="213.4" x2="486.1" y2="231.1" stroke="#d08a78" stroke-width="3.8"/>
<line x1="486.1" y1="231.1" x2="480.6" y2="248.8" stroke="#d08a78" stroke-width="3.8"/>
<line x1="491.6" y1="213.4" x2="504.9" y2="220.9" stroke="#d08a78" stroke-width="3.8"/>
<line x1="504.9" y1="220.9" x2="518.2" y2="228.4" stroke="#4a4cb8" stroke-width="3.8"/>
<line x1="524.5" y1="194.0" x2="530.0" y2="223.7" stroke="#4a4cb8" stroke-width="3.0"/>
<line x1="530.0" y1="223.7" x2="535.5" y2="253.5" stroke="#d08a78" stroke-width="3.0"/>
<line x1="524.5" y1="194.0" x2="521.4" y2="211.2" stroke="#4a4cb8" stroke-width="3.8"/>
<line x1="521.4" y1="211.2" x2="518.2" y2="228.4" stroke="#4a4cb8" stroke-width="3.8"/>
<line x1="590.3" y1="197.1" x2="592.3" y2="178.3" stroke="#3fc428" stroke-width="3.8"/>
<line x1="592.3" y1="178.3" x2="594.2" y2="159.5" stroke="#3fc428" stroke-width="3.8"/>
<line x1="590.3" y1="197.1" x2="611.1" y2="176.8" stroke="#3fc428" stroke-width="3.8"/>
<line x1="611.1" y1="176.8" x2="631.8" y2="156.4" stroke="#4a4cb8" stroke-width="3.8"/>
<line x1="590.3" y1="197.1" x2="590.7" y2="198.7" stroke="#3fc428" stroke-width="3.8"/>
<line x1="590.7" y1="198.7" x2="591.1" y2="200.3" stroke="#3fc428" stroke-width="3.8"/>
<line x1="590.3" y1="197.1" x2="615.0" y2="201.8" stroke="#3fc428" stroke-width="3.8"/>
<line x1="615.0" y1="201.8" x2="639.7" y2="206.5" stroke="#d08a78" stroke-width="3.8"/>
<line x1="590.3" y1="197.1" x2="607.9" y2="208.9" stroke="#3fc428" stroke-width="3.8"/>
<line x1="607.9" y1="208.9" x2="625.6" y2="220.6" stroke="#4a4cb8" stroke-width="3.8"/>
<line x1="410.2" y1="244.1" x2="392.9" y2="248.0" stroke="#4a4cb8" stroke-width="3.8"/>
<line x1="392.9" y1="248.0" x2="375.7" y2="251.9" stroke="#4a4cb8" stroke-width="3.8"/>
<line x1="410.2" y1="244.1" x2="413.3" y2="255.9" stroke="#4a4cb8" stroke-width="3.8"/>
<line x1="413.3" y1="255.9" x2="416.4" y2="267.6" stroke="#3fc428" stroke-width="3.8"/>
<line x1="410.2" y1="244.1" x2="391.4" y2="262.9" stroke="#4a4cb8" stroke-width="3.8"/>
<line x1="391.4" y1="262.9" x2="372.6" y2="281.7" stroke="#4a4cb8" stroke-width="3.8"/>
<line x1="410.2" y1="244.1" x2="428.9" y2="262.1" stroke="#4a4cb8" stroke-width="3.8"/>
<line x1="428.9" y1="262.1" x2="447.7" y2="280.1" stroke="#4a4cb8" stroke-width="3.8"/>
<line x1="375.7" y1="251.9" x2="396.1" y2="259.8" stroke="#4a4cb8" stroke-width="3.8"/>
<line x1="396.1" y1="259.8" x2="416.4" y2="267.6" stroke="#3fc428" stroke-width="3.8"/>
<line x1="375.7" y1="251.9" x2="374.1" y2="266.8" stroke="#4a4cb8" stroke-width="3.8"/>
<line x1="374.1" y1="266.8" x2="372.6" y2="281.7" stroke="#4a4cb8" stroke-width="3.8"/>
<line x1="375.7" y1="251.9" x2="366.3" y2="273.9" stroke="#4a4cb8" stroke-width="3.8"/>
<line x1="366.3" y1="273.9" x2="356.9" y2="295.8" stroke="#d08a78" stroke-width="3.8"/>
<line x1="480.6" y1="248.8" x2="508.1" y2="251.2" stroke="#d08a78" stroke-width="3.8"/>
<line x1="508.1" y1="251.2" x2="535.5" y2="253.5" stroke="#d08a78" stroke-width="3.8"/>
<line x1="480.6" y1="248.8" x2="499.4" y2="238.6" stroke="#d08a78" stroke-width="3.8"/>
<line x1="499.4" y1="238.6" x2="518.2" y2="228.4" stroke="#4a4cb8" stroke-width="3.8"/>
<line x1="480.6" y1="248.8" x2="464.2" y2="264.5" stroke="#d08a78" stroke-width="3.8"/>
<line x1="464.2" y1="264.5" x2="447.7" y2="280.1" stroke="#4a4cb8" stroke-width="3.8"/>
<line x1="480.6" y1="248.8" x2="487.7" y2="274.7" stroke="#d08a78" stroke-width="3.8"/>
<line x1="487.7" y1="274.7" x2="494.7" y2="300.5" stroke="#4a4cb8" stroke-width="3.8"/>
<line x1="535.5" y1="253.5" x2="526.8" y2="241.0" stroke="#d08a78" stroke-width="3.8"/>
<line x1="526.8" y1="241.0" x2="518.2" y2="228.4" stroke="#4a4cb8" stroke-width="3.8"/>
<line x1="535.5" y1="253.5" x2="546.4" y2="252.7" stroke="#d08a78" stroke-width="3.8"/>
<line x1="546.4" y1="252.7" x2="557.4" y2="251.9" stroke="#4a4cb8" stroke-width="3.8"/>
<line x1="535.5" y1="253.5" x2="559.7" y2="267.3" stroke="#d08a78" stroke-width="3.8"/>
<line x1="559.7" y1="267.3" x2="584.0" y2="281.1" stroke="#4a4cb8" stroke-width="3.8"/>
<line x1="535.5" y1="253.5" x2="560.2" y2="266.0" stroke="#d08a78" stroke-width="3.8"/>
<line x1="560.2" y1="266.0" x2="584.8" y2="278.6" stroke="#4a4cb8" stroke-width="3.8"/>
<line x1="518.2" y1="228.4" x2="537.8" y2="240.2" stroke="#4a4cb8" stroke-width="3.8"/>
<line x1="537.8" y1="240.2" x2="557.4" y2="251.9" stroke="#4a4cb8" stroke-width="3.8"/>
<line x1="557.4" y1="251.9" x2="570.7" y2="266.5" stroke="#4a4cb8" stroke-width="3.8"/>
<line x1="570.7" y1="266.5" x2="584.0" y2="281.1" stroke="#4a4cb8" stroke-width="3.8"/>
<line x1="557.4" y1="251.9" x2="571.1" y2="265.3" stroke="#4a4cb8" stroke-width="3.8"/>
<line x1="571.1" y1="265.3" x2="584.8" y2="278.6" stroke="#4a4cb8" stroke-width="3.8"/>
<line x1="557.4" y1="251.9" x2="585.2" y2="260.6" stroke="#4a4cb8" stroke-width="3.8"/>
<line x1="585.2" y1="260.6" x2="613.0" y2="269.2" stroke="#4a4cb8" stroke-width="3.8"/>
<line x1="275.4" y1="272.3" x2="293.0" y2="267.6" stroke="#4a4cb8" stroke-width="3.8"/>
<line x1="293.0" y1="267.6" x2="310.5" y2="262.9" stroke="#4a4cb8" stroke-width="3.8"/>
<line x1="275.4" y1="272.3" x2="295.8" y2="273.1" stroke="#4a4cb8" stroke-width="3.8"/>
<line x1="295.8" y1="273.1" x2="316.2" y2="273.9" stroke="#3fc428" stroke-width="3.8"/>
<line x1="275.4" y1="272.3" x2="255.4" y2="287.2" stroke="#4a4cb8" stroke-width="3.8"/>
<line x1="255.4" y1="287.2" x2="235.3" y2="302.1" stroke="#d08a78" stroke-width="3.8"/>
<line x1="275.4" y1="272.3" x2="290.3" y2="292.7" stroke="#4a4cb8" stroke-width="3.8"/>
<line x1="290.3" y1="292.7" x2="305.2" y2="313.0" stroke="#4a4cb8" stroke-width="3.8"/>
<line x1="310.5" y1="262.9" x2="313.3" y2="268.4" stroke="#4a4cb8" stroke-width="3.8"/>
<line x1="313.3" y1="268.4" x2="316.2" y2="273.9" stroke="#3fc428" stroke-width="3.8"/>
<line x1="310.5" y1="262.9" x2="307.9" y2="288.0" stroke="#4a4cb8" stroke-width="3.8"/>
<line x1="307.9" y1="288.0" x2="305.2" y2="313.0" stroke="#4a4cb8" stroke-width="3.8"/>
<line x1="310.5" y1="262.9" x2="333.7" y2="279.4" stroke="#4a4cb8" stroke-width="3.8"/>
<line x1="333.7" y1="279.4" x2="356.9" y2="295.8" stroke="#d08a78" stroke-width="3.8"/>
<line x1="316.2" y1="273.9" x2="344.4" y2="277.8" stroke="#3fc428" stroke-width="3.8"/>
<line x1="344.4" y1="277.8" x2="372.6" y2="281.7" stroke="#4a4cb8" stroke-width="3.8"/>
<line x1="316.2" y1="273.9" x2="310.7" y2="293.5" stroke="#3fc428" stroke-width="3.8"/>
<line x1="310.7" y1="293.5" x2="305.2" y2="313.0" stroke="#4a4cb8" stroke-width="3.8"/>
<line x1="316.2" y1="273.9" x2="336.5" y2="284.8" stroke="#3fc428" stroke-width="3.8"/>
<line x1="336.5" y1="284.8" x2="356.9" y2="295.8" stroke="#d08a78" stroke-width="3.8"/>
<line x1="416.4" y1="267.6" x2="394.5" y2="274.7" stroke="#3fc428" stroke-width="3.8"/>
<line x1="394.5" y1="274.7" x2="372.6" y2="281.7" stroke="#4a4cb8" stroke-width="3.8"/>
<line x1="416.4" y1="267.6" x2="432.1" y2="273.9" stroke="#3fc428" stroke-width="3.8"/>
<line x1="432.1" y1="273.9" x2="447.7" y2="280.1" stroke="#4a4cb8" stroke-width="3.8"/>
<line x1="416.4" y1="267.6" x2="404.7" y2="286.4" stroke="#3fc428" stroke-width="3.8"/>
<line x1="404.7" y1="286.4" x2="392.9" y2="305.2" stroke="#4a4cb8" stroke-width="3.8"/>
<line x1="416.4" y1="267.6" x2="425.8" y2="291.9" stroke="#3fc428" stroke-width="3.8"/>
<line x1="425.8" y1="291.9" x2="435.2" y2="316.2" stroke="#4a4cb8" stroke-width="3.8"/>
<line x1="372.6" y1="281.7" x2="364.7" y2="288.8" stroke="#4a4cb8" stroke-width="3.8"/>
<line x1="364.7" y1="288.8" x2="356.9" y2="295.8" stroke="#d08a78" stroke-width="3.8"/>
<line x1="372.6" y1="281.7" x2="382.7" y2="293.5" stroke="#4a4cb8" stroke-width="3.8"/>
<line x1="382.7" y1="293.5" x2="392.9" y2="305.2" stroke="#4a4cb8" stroke-width="3.8"/>
<line x1="372.6" y1="281.7" x2="377.3" y2="300.5" stroke="#4a4cb8" stroke-width="3.8"/>
<line x1="377.3" y1="300.5" x2="382.0" y2="319.3" stroke="#4a4cb8" stroke-width="3.8"/>
<line x1="447.7" y1="280.1" x2="441.5" y2="298.2" stroke="#4a4cb8" stroke-width="3.8"/>
<line x1="441.5" y1="298.2" x2="435.2" y2="316.2" stroke="#4a4cb8" stroke-width="3.8"/>
<line x1="447.7" y1="280.1" x2="471.2" y2="290.3" stroke="#4a4cb8" stroke-width="3.8"/>
<line x1="471.2" y1="290.3" x2="494.7" y2="300.5" stroke="#4a4cb8" stroke-width="3.8"/>
<line x1="584.0" y1="281.1" x2="575.4" y2="298.6" stroke="#4a4cb8" stroke-width="3.8"/>
<line x1="575.4" y1="298.6" x2="566.8" y2="316.2" stroke="#4a4cb8" stroke-width="3.8"/>
<line x1="584.0" y1="281.1" x2="584.4" y2="279.8" stroke="#4a4cb8" stroke-width="3.8"/>
<line x1="584.4" y1="279.8" x2="584.8" y2="278.6" stroke="#4a4cb8" stroke-width="3.8"/>
<line x1="584.0" y1="281.1" x2="598.5" y2="275.1" stroke="#4a4cb8" stroke-width="3.8"/>
<line x1="598.5" y1="275.1" x2="613.0" y2="269.2" stroke="#4a4cb8" stroke-width="3.8"/>
<line x1="584.0" y1="281.1" x2="604.0" y2="290.0" stroke="#4a4cb8" stroke-width="3.8"/>
<line x1="604.0" y1="290.0" x2="624.0" y2="298.9" stroke="#d08a78" stroke-width="3.8"/>
<line x1="158.0" y1="300.5" x2="170.5" y2="302.9" stroke="#4a4cb8" stroke-width="3.8"/>
<line x1="170.5" y1="302.9" x2="183.0" y2="305.2" stroke="#4a4cb8" stroke-width="3.8"/>
<line x1="158.0" y1="300.5" x2="196.6" y2="301.3" stroke="#4a4cb8" stroke-width="3.0"/>
<line x1="196.6" y1="301.3" x2="235.3" y2="302.1" stroke="#d08a78" stroke-width="3.0"/>
<line x1="158.0" y1="300.5" x2="190.5" y2="316.9" stroke="#4a4cb8" stroke-width="3.0"/>
<line x1="190.5" y1="316.9" x2="223.1" y2="333.4" stroke="#4a4cb8" stroke-width="3.0"/>
<line x1="158.0" y1="300.5" x2="161.9" y2="330.3" stroke="#4a4cb8" stroke-width="3.0"/>
<line x1="161.9" y1="330.3" x2="165.8" y2="360.0" stroke="#d08a78" stroke-width="3.0"/>
<line x1="183.0" y1="305.2" x2="209.2" y2="303.6" stroke="#4a4cb8" stroke-width="3.8"/>
<line x1="209.2" y1="303.6" x2="235.3" y2="302.1" stroke="#d08a78" stroke-width="3.8"/>
<line x1="183.0" y1="305.2" x2="203.1" y2="319.3" stroke="#4a4cb8" stroke-width="3.8"/>
<line x1="203.1" y1="319.3" x2="223.1" y2="333.4" stroke="#4a4cb8" stroke-width="3.8"/>
<line x1="183.0" y1="305.2" x2="199.5" y2="329.5" stroke="#4a4cb8" stroke-width="3.8"/>
<line x1="199.5" y1="329.5" x2="215.9" y2="353.8" stroke="#d08a78" stroke-width="3.8"/>
<line x1="183.0" y1="305.2" x2="174.4" y2="332.6" stroke="#4a4cb8" stroke-width="3.8"/>
<line x1="174.4" y1="332.6" x2="165.8" y2="360.0" stroke="#d08a78" stroke-width="3.8"/>
<line x1="235.3" y1="302.1" x2="229.2" y2="317.7" stroke="#d08a78" stroke-width="3.8"/>
<line x1="229.2" y1="317.7" x2="223.1" y2="333.4" stroke="#4a4cb8" stroke-width="3.8"/>
<line x1="235.3" y1="302.1" x2="225.6" y2="327.9" stroke="#d08a78" stroke-width="3.8"/>
<line x1="225.6" y1="327.9" x2="215.9" y2="353.8" stroke="#d08a78" stroke-width="3.8"/>
<line x1="305.2" y1="313.0" x2="298.2" y2="325.9" stroke="#4a4cb8" stroke-width="3.8"/>
<line x1="298.2" y1="325.9" x2="291.1" y2="338.7" stroke="#d08a78" stroke-width="3.8"/>
<line x1="305.2" y1="313.0" x2="312.2" y2="336.5" stroke="#4a4cb8" stroke-width="3.8"/>
<line x1="312.2" y1="336.5" x2="319.3" y2="360.0" stroke="#4a4cb8" stroke-width="3.8"/>
<line x1="356.9" y1="295.8" x2="374.9" y2="300.5" stroke="#d08a78" stroke-width="3.8"/>
<line x1="374.9" y1="300.5" x2="392.9" y2="305.2" stroke="#4a4cb8" stroke-width="3.8"/>
<line x1="356.9" y1="295.8" x2="369.4" y2="307.6" stroke="#d08a78" stroke-width="3.8"/>
<line x1="369.4" y1="307.6" x2="382.0" y2="319.3" stroke="#4a4cb8" stroke-width="3.8"/>
<line x1="392.9" y1="305.2" x2="414.1" y2="310.7" stroke="#4a4cb8" stroke-width="3.8"/>
<line x1="414.1" y1="310.7" x2="435.2" y2="316.2" stroke="#4a4cb8" stroke-width="3.8"/>
<line x1="392.9" y1="305.2" x2="387.4" y2="312.2" stroke="#4a4cb8" stroke-width="3.8"/>
<line x1="387.4" y1="312.2" x2="382.0" y2="319.3" stroke="#4a4cb8" stroke-width="3.8"/>
<line x1="392.9" y1="305.2" x2="397.6" y2="323.2" stroke="#4a4cb8" stroke-width="3.8"/>
<line x1="397.6" y1="323.2" x2="402.3" y2="341.2" stroke="#d08a78" stroke-width="3.8"/>
<line x1="435.2" y1="316.2" x2="418.8" y2="328.7" stroke="#4a4cb8" stroke-width="3.8"/>
<line x1="418.8" y1="328.7" x2="402.3" y2="341.2" stroke="#d08a78" stroke-width="3.8"/>
<line x1="435.2" y1="316.2" x2="425.8" y2="336.5" stroke="#4a4cb8" stroke-width="3.8"/>
<line x1="425.8" y1="336.5" x2="416.4" y2="356.9" stroke="#d08a78" stroke-width="3.8"/>
<line x1="435.2" y1="316.2" x2="447.7" y2="339.7" stroke="#4a4cb8" stroke-width="3.8"/>
<line x1="447.7" y1="339.7" x2="460.3" y2="363.2" stroke="#3fc428" stroke-width="3.8"/>
<line x1="494.7" y1="300.5" x2="496.3" y2="311.5" stroke="#4a4cb8" stroke-width="3.8"/>
<line x1="496.3" y1="311.5" x2="497.9" y2="322.4" stroke="#4a4cb8" stroke-width="3.8"/>
<line x1="494.7" y1="300.5" x2="508.1" y2="304.4" stroke="#4a4cb8" stroke-width="3.8"/>
<line x1="508.1" y1="304.4" x2="521.4" y2="308.3" stroke="#3fc428" stroke-width="3.8"/>
<line x1="494.7" y1="300.5" x2="508.1" y2="322.4" stroke="#4a4cb8" stroke-width="3.8"/>
<line x1="508.1" y1="322.4" x2="521.4" y2="344.4" stroke="#4a4cb8" stroke-width="3.8"/>
<line x1="494.7" y1="300.5" x2="494.7" y2="320.9" stroke="#4a4cb8" stroke-width="3.8"/>
<line x1="494.7" y1="320.9" x2="494.7" y2="341.2" stroke="#4a4cb8" stroke-width="3.8"/>
<line x1="497.9" y1="322.4" x2="509.6" y2="315.4" stroke="#4a4cb8" stroke-width="3.8"/>
<line x1="509.6" y1="315.4" x2="521.4" y2="308.3" stroke="#3fc428" stroke-width="3.8"/>
<line x1="497.9" y1="322.4" x2="479.1" y2="342.8" stroke="#4a4cb8" stroke-width="3.8"/>
<line x1="479.1" y1="342.8" x2="460.3" y2="363.2" stroke="#3fc428" stroke-width="3.8"/>
<line x1="497.9" y1="322.4" x2="509.6" y2="333.4" stroke="#4a4cb8" stroke-width="3.8"/>
<line x1="509.6" y1="333.4" x2="521.4" y2="344.4" stroke="#4a4cb8" stroke-width="3.8"/>
<line x1="497.9" y1="322.4" x2="496.3" y2="331.8" stroke="#4a4cb8" stroke-width="3.8"/>
<line x1="496.3" y1="331.8" x2="494.7" y2="341.2" stroke="#4a4cb8" stroke-width="3.8"/>
<line x1="566.8" y1="316.2" x2="544.1" y2="312.2" stroke="#4a4cb8" stroke-width="3.8"/>
<line x1="544.1" y1="312.2" x2="521.4" y2="308.3" stroke="#3fc428" stroke-width="3.8"/>
<line x1="566.8" y1="316.2" x2="544.1" y2="330.3" stroke="#4a4cb8" stroke-width="3.8"/>
<line x1="544.1" y1="330.3" x2="521.4" y2="344.4" stroke="#4a4cb8" stroke-width="3.8"/>
<line x1="566.8" y1="316.2" x2="556.6" y2="342.0" stroke="#4a4cb8" stroke-width="3.8"/>
<line x1="556.6" y1="342.0" x2="546.4" y2="367.9" stroke="#3fc428" stroke-width="3.8"/>
<line x1="566.8" y1="316.2" x2="575.8" y2="297.4" stroke="#4a4cb8" stroke-width="3.8"/>
<line x1="575.8" y1="297.4" x2="584.8" y2="278.6" stroke="#4a4cb8" stroke-width="3.8"/>
<line x1="382.0" y1="319.3" x2="379.6" y2="339.7" stroke="#4a4cb8" stroke-width="3.8"/>
<line x1="379.6" y1="339.7" x2="377.3" y2="360.0" stroke="#d08a78" stroke-width="3.8"/>
<line x1="382.0" y1="319.3" x2="392.1" y2="330.3" stroke="#4a4cb8" stroke-width="3.8"/>
<line x1="392.1" y1="330.3" x2="402.3" y2="341.2" stroke="#d08a78" stroke-width="3.8"/>
<line x1="521.4" y1="308.3" x2="521.4" y2="326.3" stroke="#3fc428" stroke-width="3.8"/>
<line x1="521.4" y1="326.3" x2="521.4" y2="344.4" stroke="#4a4cb8" stroke-width="3.8"/>
<line x1="521.4" y1="308.3" x2="508.1" y2="324.8" stroke="#3fc428" stroke-width="3.8"/>
<line x1="508.1" y1="324.8" x2="494.7" y2="341.2" stroke="#4a4cb8" stroke-width="3.8"/>
<line x1="223.1" y1="333.4" x2="257.1" y2="336.1" stroke="#4a4cb8" stroke-width="3.0"/>
<line x1="257.1" y1="336.1" x2="291.1" y2="338.7" stroke="#d08a78" stroke-width="3.0"/>
<line x1="223.1" y1="333.4" x2="219.5" y2="343.6" stroke="#4a4cb8" stroke-width="3.8"/>
<line x1="219.5" y1="343.6" x2="215.9" y2="353.8" stroke="#d08a78" stroke-width="3.8"/>
<line x1="223.1" y1="333.4" x2="194.5" y2="346.7" stroke="#4a4cb8" stroke-width="3.0"/>
<line x1="194.5" y1="346.7" x2="165.8" y2="360.0" stroke="#d08a78" stroke-width="3.0"/>
<line x1="291.1" y1="338.7" x2="305.2" y2="349.4" stroke="#d08a78" stroke-width="3.8"/>
<line x1="305.2" y1="349.4" x2="319.3" y2="360.0" stroke="#4a4cb8" stroke-width="3.8"/>
<line x1="291.1" y1="338.7" x2="294.2" y2="367.4" stroke="#d08a78" stroke-width="3.8"/>
<line x1="294.2" y1="367.4" x2="297.4" y2="396.1" stroke="#4a4cb8" stroke-width="3.8"/>
<line x1="215.9" y1="353.8" x2="190.9" y2="356.9" stroke="#d08a78" stroke-width="3.8"/>
<line x1="190.9" y1="356.9" x2="165.8" y2="360.0" stroke="#d08a78" stroke-width="3.8"/>
<line x1="215.9" y1="353.8" x2="212.8" y2="382.0" stroke="#d08a78" stroke-width="3.8"/>
<line x1="212.8" y1="382.0" x2="209.6" y2="410.2" stroke="#4a4cb8" stroke-width="3.8"/>
<line x1="165.8" y1="360.0" x2="171.3" y2="388.2" stroke="#d08a78" stroke-width="3.8"/>
<line x1="171.3" y1="388.2" x2="176.8" y2="416.4" stroke="#4a4cb8" stroke-width="3.8"/>
<line x1="319.3" y1="360.0" x2="348.3" y2="360.0" stroke="#4a4cb8" stroke-width="3.8"/>
<line x1="348.3" y1="360.0" x2="377.3" y2="360.0" stroke="#d08a78" stroke-width="3.8"/>
<line x1="319.3" y1="360.0" x2="308.3" y2="378.0" stroke="#4a4cb8" stroke-width="3.8"/>
<line x1="308.3" y1="378.0" x2="297.4" y2="396.1" stroke="#4a4cb8" stroke-width="3.8"/>
<line x1="319.3" y1="360.0" x2="308.3" y2="388.2" stroke="#4a4cb8" stroke-width="3.0"/>
<line x1="308.3" y1="388.2" x2="297.4" y2="416.4" stroke="#4a4cb8" stroke-width="3.0"/>
<line x1="377.3" y1="360.0" x2="389.8" y2="350.6" stroke="#d08a78" stroke-width="3.8"/>
<line x1="389.8" y1="350.6" x2="402.3" y2="341.2" stroke="#d08a78" stroke-width="3.8"/>
<line x1="377.3" y1="360.0" x2="381.2" y2="368.6" stroke="#d08a78" stroke-width="3.8"/>
<line x1="381.2" y1="368.6" x2="385.1" y2="377.3" stroke="#d08a78" stroke-width="3.8"/>
<line x1="377.3" y1="360.0" x2="396.8" y2="358.5" stroke="#d08a78" stroke-width="3.8"/>
<line x1="396.8" y1="358.5" x2="416.4" y2="356.9" stroke="#d08a78" stroke-width="3.8"/>
<line x1="377.3" y1="360.0" x2="378.0" y2="384.3" stroke="#d08a78" stroke-width="3.8"/>
<line x1="378.0" y1="384.3" x2="378.8" y2="408.6" stroke="#3fc428" stroke-width="3.8"/>
<line x1="402.3" y1="341.2" x2="393.7" y2="359.2" stroke="#d08a78" stroke-width="3.8"/>
<line x1="393.7" y1="359.2" x2="385.1" y2="377.3" stroke="#d08a78" stroke-width="3.8"/>
<line x1="402.3" y1="341.2" x2="409.4" y2="349.1" stroke="#d08a78" stroke-width="3.8"/>
<line x1="409.4" y1="349.1" x2="416.4" y2="356.9" stroke="#d08a78" stroke-width="3.8"/>
<line x1="385.1" y1="377.3" x2="400.8" y2="367.1" stroke="#d08a78" stroke-width="3.8"/>
<line x1="400.8" y1="367.1" x2="416.4" y2="356.9" stroke="#d08a78" stroke-width="3.8"/>
<line x1="385.1" y1="377.3" x2="382.0" y2="392.9" stroke="#d08a78" stroke-width="3.8"/>
<line x1="382.0" y1="392.9" x2="378.8" y2="408.6" stroke="#3fc428" stroke-width="3.8"/>
<line x1="385.1" y1="377.3" x2="393.7" y2="394.5" stroke="#d08a78" stroke-width="3.8"/>
<line x1="393.7" y1="394.5" x2="402.3" y2="411.7" stroke="#4a4cb8" stroke-width="3.8"/>
<line x1="416.4" y1="356.9" x2="438.3" y2="360.0" stroke="#d08a78" stroke-width="3.8"/>
<line x1="438.3" y1="360.0" x2="460.3" y2="363.2" stroke="#3fc428" stroke-width="3.8"/>
<line x1="416.4" y1="356.9" x2="433.6" y2="371.8" stroke="#d08a78" stroke-width="3.8"/>
<line x1="433.6" y1="371.8" x2="450.9" y2="386.7" stroke="#d08a78" stroke-width="3.8"/>
<line x1="460.3" y1="363.2" x2="455.6" y2="374.9" stroke="#3fc428" stroke-width="3.8"/>
<line x1="455.6" y1="374.9" x2="450.9" y2="386.7" stroke="#d08a78" stroke-width="3.8"/>
<line x1="460.3" y1="363.2" x2="477.5" y2="352.2" stroke="#3fc428" stroke-width="3.8"/>
<line x1="477.5" y1="352.2" x2="494.7" y2="341.2" stroke="#4a4cb8" stroke-width="3.8"/>
<line x1="450.9" y1="386.7" x2="426.6" y2="399.2" stroke="#d08a78" stroke-width="3.8"/>
<line x1="426.6" y1="399.2" x2="402.3" y2="411.7" stroke="#4a4cb8" stroke-width="3.8"/>
<line x1="450.9" y1="386.7" x2="437.6" y2="411.7" stroke="#d08a78" stroke-width="3.8"/>
<line x1="437.6" y1="411.7" x2="424.2" y2="436.8" stroke="#4a4cb8" stroke-width="3.8"/>
<line x1="450.9" y1="386.7" x2="460.3" y2="413.3" stroke="#d08a78" stroke-width="3.8"/>
<line x1="460.3" y1="413.3" x2="469.7" y2="439.9" stroke="#4a4cb8" stroke-width="3.8"/>
<line x1="521.4" y1="344.4" x2="508.1" y2="342.8" stroke="#4a4cb8" stroke-width="3.8"/>
<line x1="508.1" y1="342.8" x2="494.7" y2="341.2" stroke="#4a4cb8" stroke-width="3.8"/>
<line x1="521.4" y1="344.4" x2="533.9" y2="356.1" stroke="#4a4cb8" stroke-width="3.8"/>
<line x1="533.9" y1="356.1" x2="546.4" y2="367.9" stroke="#3fc428" stroke-width="3.8"/>
<line x1="546.4" y1="367.9" x2="566.0" y2="370.2" stroke="#3fc428" stroke-width="3.8"/>
<line x1="566.0" y1="370.2" x2="585.6" y2="372.6" stroke="#4a4cb8" stroke-width="3.8"/>
<line x1="546.4" y1="367.9" x2="565.6" y2="370.2" stroke="#3fc428" stroke-width="3.8"/>
<line x1="565.6" y1="370.2" x2="584.8" y2="372.6" stroke="#4a4cb8" stroke-width="3.8"/>
<line x1="546.4" y1="367.9" x2="572.7" y2="377.3" stroke="#3fc428" stroke-width="3.8"/>
<line x1="572.7" y1="377.3" x2="598.9" y2="386.7" stroke="#4a4cb8" stroke-width="3.8"/>
<line x1="585.6" y1="372.6" x2="586.4" y2="396.1" stroke="#4a4cb8" stroke-width="3.8"/>
<line x1="586.4" y1="396.1" x2="587.2" y2="419.5" stroke="#4a4cb8" stroke-width="3.8"/>
<line x1="585.6" y1="372.6" x2="585.2" y2="372.6" stroke="#4a4cb8" stroke-width="3.8"/>
<line x1="585.2" y1="372.6" x2="584.8" y2="372.6" stroke="#4a4cb8" stroke-width="3.8"/>
<line x1="585.6" y1="372.6" x2="592.3" y2="379.6" stroke="#4a4cb8" stroke-width="3.8"/>
<line x1="592.3" y1="379.6" x2="598.9" y2="386.7" stroke="#4a4cb8" stroke-width="3.8"/>
<line x1="585.6" y1="372.6" x2="608.7" y2="376.5" stroke="#4a4cb8" stroke-width="3.8"/>
<line x1="608.7" y1="376.5" x2="631.8" y2="380.4" stroke="#d08a78" stroke-width="3.8"/>
<line x1="585.6" y1="372.6" x2="586.8" y2="396.1" stroke="#4a4cb8" stroke-width="3.8"/>
<line x1="586.8" y1="396.1" x2="588.0" y2="419.5" stroke="#4a4cb8" stroke-width="3.8"/>
<line x1="176.8" y1="416.4" x2="193.2" y2="413.3" stroke="#4a4cb8" stroke-width="3.8"/>
<line x1="193.2" y1="413.3" x2="209.6" y2="410.2" stroke="#4a4cb8" stroke-width="3.8"/>
<line x1="176.8" y1="416.4" x2="202.6" y2="419.5" stroke="#4a4cb8" stroke-width="3.8"/>
<line x1="202.6" y1="419.5" x2="228.4" y2="422.7" stroke="#3fc428" stroke-width="3.8"/>
<line x1="176.8" y1="416.4" x2="173.6" y2="427.4" stroke="#4a4cb8" stroke-width="3.8"/>
<line x1="173.6" y1="427.4" x2="170.5" y2="438.3" stroke="#d08a78" stroke-width="3.8"/>
<line x1="176.8" y1="416.4" x2="165.8" y2="453.2" stroke="#4a4cb8" stroke-width="3.0"/>
<line x1="165.8" y1="453.2" x2="154.8" y2="490.0" stroke="#3fc428" stroke-width="3.0"/>
<line x1="209.6" y1="410.2" x2="219.0" y2="416.4" stroke="#4a4cb8" stroke-width="3.8"/>
<line x1="219.0" y1="416.4" x2="228.4" y2="422.7" stroke="#3fc428" stroke-width="3.8"/>
<line x1="209.6" y1="410.2" x2="231.6" y2="414.1" stroke="#4a4cb8" stroke-width="3.8"/>
<line x1="231.6" y1="414.1" x2="253.5" y2="418.0" stroke="#4a4cb8" stroke-width="3.8"/>
<line x1="209.6" y1="410.2" x2="190.1" y2="424.2" stroke="#4a4cb8" stroke-width="3.8"/>
<line x1="190.1" y1="424.2" x2="170.5" y2="438.3" stroke="#d08a78" stroke-width="3.8"/>
<line x1="209.6" y1="410.2" x2="219.0" y2="434.4" stroke="#4a4cb8" stroke-width="3.8"/>
<line x1="219.0" y1="434.4" x2="228.4" y2="458.7" stroke="#4a4cb8" stroke-width="3.8"/>
<line x1="228.4" y1="422.7" x2="241.0" y2="420.3" stroke="#3fc428" stroke-width="3.8"/>
<line x1="241.0" y1="420.3" x2="253.5" y2="418.0" stroke="#4a4cb8" stroke-width="3.8"/>
<line x1="228.4" y1="422.7" x2="199.5" y2="430.5" stroke="#3fc428" stroke-width="3.0"/>
<line x1="199.5" y1="430.5" x2="170.5" y2="438.3" stroke="#d08a78" stroke-width="3.0"/>
<line x1="228.4" y1="422.7" x2="228.4" y2="440.7" stroke="#3fc428" stroke-width="3.8"/>
<line x1="228.4" y1="440.7" x2="228.4" y2="458.7" stroke="#4a4cb8" stroke-width="3.8"/>
<line x1="253.5" y1="418.0" x2="275.4" y2="407.0" stroke="#4a4cb8" stroke-width="3.8"/>
<line x1="275.4" y1="407.0" x2="297.4" y2="396.1" stroke="#4a4cb8" stroke-width="3.8"/>
<line x1="253.5" y1="418.0" x2="275.4" y2="417.2" stroke="#4a4cb8" stroke-width="3.8"/>
<line x1="275.4" y1="417.2" x2="297.4" y2="416.4" stroke="#4a4cb8" stroke-width="3.8"/>
<line x1="253.5" y1="418.0" x2="241.0" y2="438.3" stroke="#4a4cb8" stroke-width="3.8"/>
<line x1="241.0" y1="438.3" x2="228.4" y2="458.7" stroke="#4a4cb8" stroke-width="3.8"/>
<line x1="297.4" y1="396.1" x2="297.4" y2="406.2" stroke="#4a4cb8" stroke-width="3.8"/>
<line x1="297.4" y1="406.2" x2="297.4" y2="416.4" stroke="#4a4cb8" stroke-width="3.8"/>
<line x1="297.4" y1="396.1" x2="308.3" y2="418.8" stroke="#4a4cb8" stroke-width="3.8"/>
<line x1="308.3" y1="418.8" x2="319.3" y2="441.5" stroke="#3fc428" stroke-width="3.8"/>
<line x1="297.4" y1="416.4" x2="326.3" y2="418.0" stroke="#4a4cb8" stroke-width="3.8"/>
<line x1="326.3" y1="418.0" x2="355.3" y2="419.5" stroke="#4a4cb8" stroke-width="3.8"/>
<line x1="297.4" y1="416.4" x2="308.3" y2="428.9" stroke="#4a4cb8" stroke-width="3.8"/>
<line x1="308.3" y1="428.9" x2="319.3" y2="441.5" stroke="#3fc428" stroke-width="3.8"/>
<line x1="355.3" y1="419.5" x2="367.1" y2="414.1" stroke="#4a4cb8" stroke-width="3.8"/>
<line x1="367.1" y1="414.1" x2="378.8" y2="408.6" stroke="#3fc428" stroke-width="3.8"/>
<line x1="355.3" y1="419.5" x2="378.8" y2="415.6" stroke="#4a4cb8" stroke-width="3.8"/>
<line x1="378.8" y1="415.6" x2="402.3" y2="411.7" stroke="#4a4cb8" stroke-width="3.8"/>
<line x1="355.3" y1="419.5" x2="376.5" y2="429.7" stroke="#4a4cb8" stroke-width="3.8"/>
<line x1="376.5" y1="429.7" x2="397.6" y2="439.9" stroke="#4a4cb8" stroke-width="3.8"/>
<line x1="355.3" y1="419.5" x2="337.3" y2="430.5" stroke="#4a4cb8" stroke-width="3.8"/>
<line x1="337.3" y1="430.5" x2="319.3" y2="441.5" stroke="#3fc428" stroke-width="3.8"/>
<line x1="355.3" y1="419.5" x2="356.1" y2="442.3" stroke="#4a4cb8" stroke-width="3.8"/>
<line x1="356.1" y1="442.3" x2="356.9" y2="465.0" stroke="#d08a78" stroke-width="3.8"/>
<line x1="378.8" y1="408.6" x2="390.6" y2="410.2" stroke="#3fc428" stroke-width="3.8"/>
<line x1="390.6" y1="410.2" x2="402.3" y2="411.7" stroke="#4a4cb8" stroke-width="3.8"/>
<line x1="378.8" y1="408.6" x2="388.2" y2="424.2" stroke="#3fc428" stroke-width="3.8"/>
<line x1="388.2" y1="424.2" x2="397.6" y2="439.9" stroke="#4a4cb8" stroke-width="3.8"/>
<line x1="402.3" y1="411.7" x2="400.0" y2="425.8" stroke="#4a4cb8" stroke-width="3.8"/>
<line x1="400.0" y1="425.8" x2="397.6" y2="439.9" stroke="#4a4cb8" stroke-width="3.8"/>
<line x1="402.3" y1="411.7" x2="413.3" y2="424.2" stroke="#4a4cb8" stroke-width="3.8"/>
<line x1="413.3" y1="424.2" x2="424.2" y2="436.8" stroke="#4a4cb8" stroke-width="3.8"/>
<line x1="170.5" y1="438.3" x2="162.7" y2="464.2" stroke="#d08a78" stroke-width="3.8"/>
<line x1="162.7" y1="464.2" x2="154.8" y2="490.0" stroke="#3fc428" stroke-width="3.8"/>
<line x1="170.5" y1="438.3" x2="179.9" y2="463.4" stroke="#d08a78" stroke-width="3.8"/>
<line x1="179.9" y1="463.4" x2="189.3" y2="488.5" stroke="#d08a78" stroke-width="3.8"/>
<line x1="397.6" y1="439.9" x2="410.9" y2="438.3" stroke="#4a4cb8" stroke-width="3.8"/>
<line x1="410.9" y1="438.3" x2="424.2" y2="436.8" stroke="#4a4cb8" stroke-width="3.8"/>
<line x1="397.6" y1="439.9" x2="397.6" y2="457.9" stroke="#4a4cb8" stroke-width="3.8"/>
<line x1="397.6" y1="457.9" x2="397.6" y2="475.9" stroke="#4a4cb8" stroke-width="3.8"/>
<line x1="424.2" y1="436.8" x2="447.0" y2="438.3" stroke="#4a4cb8" stroke-width="3.8"/>
<line x1="447.0" y1="438.3" x2="469.7" y2="439.9" stroke="#4a4cb8" stroke-width="3.8"/>
<line x1="424.2" y1="436.8" x2="410.9" y2="456.4" stroke="#4a4cb8" stroke-width="3.8"/>
<line x1="410.9" y1="456.4" x2="397.6" y2="475.9" stroke="#4a4cb8" stroke-width="3.8"/>
<line x1="424.2" y1="436.8" x2="436.0" y2="454.8" stroke="#4a4cb8" stroke-width="3.8"/>
<line x1="436.0" y1="454.8" x2="447.7" y2="472.8" stroke="#3fc428" stroke-width="3.8"/>
<line x1="469.7" y1="439.9" x2="479.1" y2="436.0" stroke="#4a4cb8" stroke-width="3.8"/>
<line x1="479.1" y1="436.0" x2="488.5" y2="432.1" stroke="#4a4cb8" stroke-width="3.8"/>
<line x1="469.7" y1="439.9" x2="491.6" y2="429.7" stroke="#4a4cb8" stroke-width="3.8"/>
<line x1="491.6" y1="429.7" x2="513.5" y2="419.5" stroke="#4a4cb8" stroke-width="3.8"/>
<line x1="469.7" y1="439.9" x2="458.7" y2="456.4" stroke="#4a4cb8" stroke-width="3.8"/>
<line x1="458.7" y1="456.4" x2="447.7" y2="472.8" stroke="#3fc428" stroke-width="3.8"/>
<line x1="469.7" y1="439.9" x2="473.6" y2="459.5" stroke="#4a4cb8" stroke-width="3.8"/>
<line x1="473.6" y1="459.5" x2="477.5" y2="479.1" stroke="#3fc428" stroke-width="3.8"/>
<line x1="469.7" y1="439.9" x2="481.4" y2="450.1" stroke="#4a4cb8" stroke-width="3.8"/>
<line x1="481.4" y1="450.1" x2="493.2" y2="460.3" stroke="#3fc428" stroke-width="3.8"/>
<line x1="488.5" y1="432.1" x2="501.0" y2="425.8" stroke="#4a4cb8" stroke-width="3.8"/>
<line x1="501.0" y1="425.8" x2="513.5" y2="419.5" stroke="#4a4cb8" stroke-width="3.8"/>
<line x1="488.5" y1="432.1" x2="483.0" y2="455.6" stroke="#4a4cb8" stroke-width="3.8"/>
<line x1="483.0" y1="455.6" x2="477.5" y2="479.1" stroke="#3fc428" stroke-width="3.8"/>
<line x1="488.5" y1="432.1" x2="490.8" y2="446.2" stroke="#4a4cb8" stroke-width="3.8"/>
<line x1="490.8" y1="446.2" x2="493.2" y2="460.3" stroke="#3fc428" stroke-width="3.8"/>
<line x1="488.5" y1="432.1" x2="508.1" y2="446.2" stroke="#4a4cb8" stroke-width="3.8"/>
<line x1="508.1" y1="446.2" x2="527.6" y2="460.3" stroke="#d08a78" stroke-width="3.8"/>
<line x1="513.5" y1="419.5" x2="532.3" y2="425.0" stroke="#4a4cb8" stroke-width="3.8"/>
<line x1="532.3" y1="425.0" x2="551.1" y2="430.5" stroke="#d08a78" stroke-width="3.8"/>
<line x1="513.5" y1="419.5" x2="503.4" y2="439.9" stroke="#4a4cb8" stroke-width="3.8"/>
<line x1="503.4" y1="439.9" x2="493.2" y2="460.3" stroke="#3fc428" stroke-width="3.8"/>
<line x1="513.5" y1="419.5" x2="520.6" y2="439.9" stroke="#4a4cb8" stroke-width="3.8"/>
<line x1="520.6" y1="439.9" x2="527.6" y2="460.3" stroke="#d08a78" stroke-width="3.8"/>
<line x1="551.1" y1="430.5" x2="569.1" y2="425.0" stroke="#d08a78" stroke-width="3.8"/>
<line x1="569.1" y1="425.0" x2="587.2" y2="419.5" stroke="#4a4cb8" stroke-width="3.8"/>
<line x1="551.1" y1="430.5" x2="539.4" y2="445.4" stroke="#d08a78" stroke-width="3.8"/>
<line x1="539.4" y1="445.4" x2="527.6" y2="460.3" stroke="#d08a78" stroke-width="3.8"/>
<line x1="551.1" y1="430.5" x2="548.0" y2="455.6" stroke="#d08a78" stroke-width="3.8"/>
<line x1="548.0" y1="455.6" x2="544.9" y2="480.6" stroke="#3fc428" stroke-width="3.8"/>
<line x1="551.1" y1="430.5" x2="569.5" y2="425.0" stroke="#d08a78" stroke-width="3.8"/>
<line x1="569.5" y1="425.0" x2="588.0" y2="419.5" stroke="#4a4cb8" stroke-width="3.8"/>
<line x1="587.2" y1="419.5" x2="586.0" y2="396.1" stroke="#4a4cb8" stroke-width="3.8"/>
<line x1="586.0" y1="396.1" x2="584.8" y2="372.6" stroke="#4a4cb8" stroke-width="3.8"/>
<line x1="587.2" y1="419.5" x2="593.0" y2="403.1" stroke="#4a4cb8" stroke-width="3.8"/>
<line x1="593.0" y1="403.1" x2="598.9" y2="386.7" stroke="#4a4cb8" stroke-width="3.8"/>
<line x1="587.2" y1="419.5" x2="587.6" y2="419.5" stroke="#4a4cb8" stroke-width="3.8"/>
<line x1="587.6" y1="419.5" x2="588.0" y2="419.5" stroke="#4a4cb8" stroke-width="3.8"/>
<line x1="587.2" y1="419.5" x2="604.8" y2="428.2" stroke="#4a4cb8" stroke-width="3.8"/>
<line x1="604.8" y1="428.2" x2="622.4" y2="436.8" stroke="#d08a78" stroke-width="3.8"/>
<line x1="319.3" y1="441.5" x2="338.1" y2="453.2" stroke="#3fc428" stroke-width="3.8"/>
<line x1="338.1" y1="453.2" x2="356.9" y2="465.0" stroke="#d08a78" stroke-width="3.8"/>
<line x1="319.3" y1="441.5" x2="313.0" y2="468.9" stroke="#3fc428" stroke-width="3.8"/>
<line x1="313.0" y1="468.9" x2="306.8" y2="496.3" stroke="#d08a78" stroke-width="3.8"/>
<line x1="319.3" y1="441.5" x2="328.7" y2="465.0" stroke="#3fc428" stroke-width="3.8"/>
<line x1="328.7" y1="465.0" x2="338.1" y2="488.5" stroke="#4a4cb8" stroke-width="3.8"/>
<line x1="228.4" y1="458.7" x2="208.9" y2="473.6" stroke="#4a4cb8" stroke-width="3.8"/>
<line x1="208.9" y1="473.6" x2="189.3" y2="488.5" stroke="#d08a78" stroke-width="3.8"/>
<line x1="228.4" y1="458.7" x2="239.4" y2="473.6" stroke="#4a4cb8" stroke-width="3.8"/>
<line x1="239.4" y1="473.6" x2="250.4" y2="488.5" stroke="#4a4cb8" stroke-width="3.8"/>
<line x1="228.4" y1="458.7" x2="250.1" y2="479.1" stroke="#4a4cb8" stroke-width="3.8"/>
<line x1="250.1" y1="479.1" x2="271.7" y2="499.4" stroke="#4a4cb8" stroke-width="3.8"/>
<line x1="356.9" y1="465.0" x2="377.3" y2="470.5" stroke="#d08a78" stroke-width="3.8"/>
<line x1="377.3" y1="470.5" x2="397.6" y2="475.9" stroke="#4a4cb8" stroke-width="3.8"/>
<line x1="356.9" y1="465.0" x2="347.5" y2="476.7" stroke="#d08a78" stroke-width="3.8"/>
<line x1="347.5" y1="476.7" x2="338.1" y2="488.5" stroke="#4a4cb8" stroke-width="3.8"/>
<line x1="356.9" y1="465.0" x2="371.0" y2="478.3" stroke="#d08a78" stroke-width="3.8"/>
<line x1="371.0" y1="478.3" x2="385.1" y2="491.6" stroke="#4a4cb8" stroke-width="3.8"/>
<line x1="356.9" y1="465.0" x2="343.6" y2="492.4" stroke="#d08a78" stroke-width="3.0"/>
<line x1="343.6" y1="492.4" x2="330.3" y2="519.8" stroke="#d08a78" stroke-width="3.0"/>
<line x1="397.6" y1="475.9" x2="422.7" y2="474.4" stroke="#4a4cb8" stroke-width="3.8"/>
<line x1="422.7" y1="474.4" x2="447.7" y2="472.8" stroke="#3fc428" stroke-width="3.8"/>
<line x1="397.6" y1="475.9" x2="391.4" y2="483.8" stroke="#4a4cb8" stroke-width="3.8"/>
<line x1="391.4" y1="483.8" x2="385.1" y2="491.6" stroke="#4a4cb8" stroke-width="3.8"/>
<line x1="397.6" y1="475.9" x2="394.5" y2="498.7" stroke="#4a4cb8" stroke-width="3.8"/>
<line x1="394.5" y1="498.7" x2="391.4" y2="521.4" stroke="#3fc428" stroke-width="3.8"/>
<line x1="447.7" y1="472.8" x2="462.6" y2="475.9" stroke="#3fc428" stroke-width="3.8"/>
<line x1="462.6" y1="475.9" x2="477.5" y2="479.1" stroke="#3fc428" stroke-width="3.8"/>
<line x1="447.7" y1="472.8" x2="470.5" y2="466.5" stroke="#3fc428" stroke-width="3.8"/>
<line x1="470.5" y1="466.5" x2="493.2" y2="460.3" stroke="#3fc428" stroke-width="3.8"/>
<line x1="447.7" y1="472.8" x2="459.5" y2="500.2" stroke="#3fc428" stroke-width="3.8"/>
<line x1="459.5" y1="500.2" x2="471.2" y2="527.6" stroke="#4a4cb8" stroke-width="3.8"/>
<line x1="477.5" y1="479.1" x2="485.3" y2="469.7" stroke="#3fc428" stroke-width="3.8"/>
<line x1="485.3" y1="469.7" x2="493.2" y2="460.3" stroke="#3fc428" stroke-width="3.8"/>
<line x1="477.5" y1="479.1" x2="474.4" y2="503.4" stroke="#3fc428" stroke-width="3.8"/>
<line x1="474.4" y1="503.4" x2="471.2" y2="527.6" stroke="#4a4cb8" stroke-width="3.8"/>
<line x1="493.2" y1="460.3" x2="510.4" y2="460.3" stroke="#3fc428" stroke-width="3.8"/>
<line x1="510.4" y1="460.3" x2="527.6" y2="460.3" stroke="#d08a78" stroke-width="3.8"/>
<line x1="493.2" y1="460.3" x2="482.2" y2="494.0" stroke="#3fc428" stroke-width="3.0"/>
<line x1="482.2" y1="494.0" x2="471.2" y2="527.6" stroke="#4a4cb8" stroke-width="3.0"/>
<line x1="527.6" y1="460.3" x2="536.2" y2="470.5" stroke="#d08a78" stroke-width="3.8"/>
<line x1="536.2" y1="470.5" x2="544.9" y2="480.6" stroke="#3fc428" stroke-width="3.8"/>
<line x1="527.6" y1="460.3" x2="539.4" y2="482.2" stroke="#d08a78" stroke-width="3.8"/>
<line x1="539.4" y1="482.2" x2="551.1" y2="504.1" stroke="#4a4cb8" stroke-width="3.8"/>
<line x1="154.8" y1="490.0" x2="172.1" y2="489.3" stroke="#3fc428" stroke-width="3.8"/>
<line x1="172.1" y1="489.3" x2="189.3" y2="488.5" stroke="#d08a78" stroke-width="3.8"/>
<line x1="154.8" y1="490.0" x2="154.8" y2="504.1" stroke="#3fc428" stroke-width="3.8"/>
<line x1="154.8" y1="504.1" x2="154.8" y2="518.2" stroke="#4a4cb8" stroke-width="3.8"/>
<line x1="154.8" y1="490.0" x2="177.5" y2="498.7" stroke="#3fc428" stroke-width="3.8"/>
<line x1="177.5" y1="498.7" x2="200.3" y2="507.3" stroke="#3fc428" stroke-width="3.8"/>
<line x1="189.3" y1="488.5" x2="172.1" y2="503.4" stroke="#d08a78" stroke-width="3.8"/>
<line x1="172.1" y1="503.4" x2="154.8" y2="518.2" stroke="#4a4cb8" stroke-width="3.8"/>
<line x1="189.3" y1="488.5" x2="194.8" y2="497.9" stroke="#d08a78" stroke-width="3.8"/>
<line x1="194.8" y1="497.9" x2="200.3" y2="507.3" stroke="#3fc428" stroke-width="3.8"/>
<line x1="189.3" y1="488.5" x2="213.6" y2="503.4" stroke="#d08a78" stroke-width="3.8"/>
<line x1="213.6" y1="503.4" x2="237.8" y2="518.2" stroke="#4a4cb8" stroke-width="3.8"/>
<line x1="189.3" y1="488.5" x2="203.4" y2="514.3" stroke="#d08a78" stroke-width="3.8"/>
<line x1="203.4" y1="514.3" x2="217.5" y2="540.2" stroke="#3fc428" stroke-width="3.8"/>
<line x1="250.4" y1="488.5" x2="261.0" y2="494.0" stroke="#4a4cb8" stroke-width="3.8"/>
<line x1="261.0" y1="494.0" x2="271.7" y2="499.4" stroke="#4a4cb8" stroke-width="3.8"/>
<line x1="250.4" y1="488.5" x2="278.6" y2="492.4" stroke="#4a4cb8" stroke-width="3.8"/>
<line x1="278.6" y1="492.4" x2="306.8" y2="496.3" stroke="#d08a78" stroke-width="3.8"/>
<line x1="250.4" y1="488.5" x2="225.3" y2="497.9" stroke="#4a4cb8" stroke-width="3.8"/>
<line x1="225.3" y1="497.9" x2="200.3" y2="507.3" stroke="#3fc428" stroke-width="3.8"/>
<line x1="250.4" y1="488.5" x2="244.1" y2="503.4" stroke="#4a4cb8" stroke-width="3.8"/>
<line x1="244.1" y1="503.4" x2="237.8" y2="518.2" stroke="#4a4cb8" stroke-width="3.8"/>
<line x1="250.4" y1="488.5" x2="233.9" y2="514.3" stroke="#4a4cb8" stroke-width="3.0"/>
<line x1="233.9" y1="514.3" x2="217.5" y2="540.2" stroke="#3fc428" stroke-width="3.0"/>
<line x1="271.7" y1="499.4" x2="289.2" y2="497.9" stroke="#4a4cb8" stroke-width="3.8"/>
<line x1="289.2" y1="497.9" x2="306.8" y2="496.3" stroke="#d08a78" stroke-width="3.8"/>
<line x1="271.7" y1="499.4" x2="254.8" y2="508.8" stroke="#4a4cb8" stroke-width="3.8"/>
<line x1="254.8" y1="508.8" x2="237.8" y2="518.2" stroke="#4a4cb8" stroke-width="3.8"/>
<line x1="306.8" y1="496.3" x2="322.4" y2="492.4" stroke="#d08a78" stroke-width="3.8"/>
<line x1="322.4" y1="492.4" x2="338.1" y2="488.5" stroke="#4a4cb8" stroke-width="3.8"/>
<line x1="306.8" y1="496.3" x2="318.5" y2="508.1" stroke="#d08a78" stroke-width="3.8"/>
<line x1="318.5" y1="508.1" x2="330.3" y2="519.8" stroke="#d08a78" stroke-width="3.8"/>
<line x1="306.8" y1="496.3" x2="329.5" y2="506.5" stroke="#d08a78" stroke-width="3.8"/>
<line x1="329.5" y1="506.5" x2="352.2" y2="516.7" stroke="#4a4cb8" stroke-width="3.8"/>
<line x1="338.1" y1="488.5" x2="361.6" y2="490.0" stroke="#4a4cb8" stroke-width="3.8"/>
<line x1="361.6" y1="490.0" x2="385.1" y2="491.6" stroke="#4a4cb8" stroke-width="3.8"/>
<line x1="338.1" y1="488.5" x2="334.2" y2="504.1" stroke="#4a4cb8" stroke-width="3.8"/>
<line x1="334.2" y1="504.1" x2="330.3" y2="519.8" stroke="#d08a78" stroke-width="3.8"/>
<line x1="338.1" y1="488.5" x2="345.1" y2="502.6" stroke="#4a4cb8" stroke-width="3.8"/>
<line x1="345.1" y1="502.6" x2="352.2" y2="516.7" stroke="#4a4cb8" stroke-width="3.8"/>
<line x1="338.1" y1="488.5" x2="347.5" y2="513.5" stroke="#4a4cb8" stroke-width="3.8"/>
<line x1="347.5" y1="513.5" x2="356.9" y2="538.6" stroke="#d08a78" stroke-width="3.8"/>
<line x1="385.1" y1="491.6" x2="368.6" y2="504.1" stroke="#4a4cb8" stroke-width="3.8"/>
<line x1="368.6" y1="504.1" x2="352.2" y2="516.7" stroke="#4a4cb8" stroke-width="3.8"/>
<line x1="385.1" y1="491.6" x2="388.2" y2="506.5" stroke="#4a4cb8" stroke-width="3.8"/>
<line x1="388.2" y1="506.5" x2="391.4" y2="521.4" stroke="#3fc428" stroke-width="3.8"/>
<line x1="385.1" y1="491.6" x2="396.8" y2="515.9" stroke="#4a4cb8" stroke-width="3.8"/>
<line x1="396.8" y1="515.9" x2="408.6" y2="540.2" stroke="#d08a78" stroke-width="3.8"/>
<line x1="544.9" y1="480.6" x2="548.0" y2="492.4" stroke="#3fc428" stroke-width="3.8"/>
<line x1="548.0" y1="492.4" x2="551.1" y2="504.1" stroke="#4a4cb8" stroke-width="3.8"/>
<line x1="544.9" y1="480.6" x2="541.7" y2="508.1" stroke="#3fc428" stroke-width="3.8"/>
<line x1="541.7" y1="508.1" x2="538.6" y2="535.5" stroke="#4a4cb8" stroke-width="3.8"/>
<line x1="544.9" y1="480.6" x2="562.1" y2="501.0" stroke="#3fc428" stroke-width="3.8"/>
<line x1="562.1" y1="501.0" x2="579.3" y2="521.4" stroke="#3fc428" stroke-width="3.8"/>
<line x1="544.9" y1="480.6" x2="563.3" y2="501.0" stroke="#3fc428" stroke-width="3.8"/>
<line x1="563.3" y1="501.0" x2="581.7" y2="521.4" stroke="#3fc428" stroke-width="3.8"/>
<line x1="551.1" y1="504.1" x2="544.9" y2="519.8" stroke="#4a4cb8" stroke-width="3.8"/>
<line x1="544.9" y1="519.8" x2="538.6" y2="535.5" stroke="#4a4cb8" stroke-width="3.8"/>
<line x1="551.1" y1="504.1" x2="565.2" y2="512.8" stroke="#4a4cb8" stroke-width="3.8"/>
<line x1="565.2" y1="512.8" x2="579.3" y2="521.4" stroke="#3fc428" stroke-width="3.8"/>
<line x1="551.1" y1="504.1" x2="566.4" y2="512.8" stroke="#4a4cb8" stroke-width="3.8"/>
<line x1="566.4" y1="512.8" x2="581.7" y2="521.4" stroke="#3fc428" stroke-width="3.8"/>
<line x1="154.8" y1="518.2" x2="177.5" y2="512.8" stroke="#4a4cb8" stroke-width="3.8"/>
<line x1="177.5" y1="512.8" x2="200.3" y2="507.3" stroke="#3fc428" stroke-width="3.8"/>
<line x1="154.8" y1="518.2" x2="186.2" y2="529.2" stroke="#4a4cb8" stroke-width="3.0"/>
<line x1="186.2" y1="529.2" x2="217.5" y2="540.2" stroke="#3fc428" stroke-width="3.0"/>
<line x1="200.3" y1="507.3" x2="219.0" y2="512.8" stroke="#3fc428" stroke-width="3.8"/>
<line x1="219.0" y1="512.8" x2="237.8" y2="518.2" stroke="#4a4cb8" stroke-width="3.8"/>
<line x1="200.3" y1="507.3" x2="208.9" y2="523.7" stroke="#3fc428" stroke-width="3.8"/>
<line x1="208.9" y1="523.7" x2="217.5" y2="540.2" stroke="#3fc428" stroke-width="3.8"/>
<line x1="237.8" y1="518.2" x2="227.7" y2="529.2" stroke="#4a4cb8" stroke-width="3.8"/>
<line x1="227.7" y1="529.2" x2="217.5" y2="540.2" stroke="#3fc428" stroke-width="3.8"/>
<line x1="330.3" y1="519.8" x2="341.2" y2="518.2" stroke="#d08a78" stroke-width="3.8"/>
<line x1="341.2" y1="518.2" x2="352.2" y2="516.7" stroke="#4a4cb8" stroke-width="3.8"/>
<line x1="330.3" y1="519.8" x2="343.6" y2="529.2" stroke="#d08a78" stroke-width="3.8"/>
<line x1="343.6" y1="529.2" x2="356.9" y2="538.6" stroke="#d08a78" stroke-width="3.8"/>
<line x1="352.2" y1="516.7" x2="371.8" y2="519.0" stroke="#4a4cb8" stroke-width="3.8"/>
<line x1="371.8" y1="519.0" x2="391.4" y2="521.4" stroke="#3fc428" stroke-width="3.8"/>
<line x1="352.2" y1="516.7" x2="354.5" y2="527.6" stroke="#4a4cb8" stroke-width="3.8"/>
<line x1="354.5" y1="527.6" x2="356.9" y2="538.6" stroke="#d08a78" stroke-width="3.8"/>
<line x1="352.2" y1="516.7" x2="380.4" y2="528.4" stroke="#4a4cb8" stroke-width="3.0"/>
<line x1="380.4" y1="528.4" x2="408.6" y2="540.2" stroke="#d08a78" stroke-width="3.0"/>
<line x1="391.4" y1="521.4" x2="374.1" y2="530.0" stroke="#3fc428" stroke-width="3.8"/>
<line x1="374.1" y1="530.0" x2="356.9" y2="538.6" stroke="#d08a78" stroke-width="3.8"/>
<line x1="391.4" y1="521.4" x2="400.0" y2="530.8" stroke="#3fc428" stroke-width="3.8"/>
<line x1="400.0" y1="530.8" x2="408.6" y2="540.2" stroke="#d08a78" stroke-width="3.8"/>
<line x1="356.9" y1="538.6" x2="382.7" y2="539.4" stroke="#d08a78" stroke-width="3.8"/>
<line x1="382.7" y1="539.4" x2="408.6" y2="540.2" stroke="#d08a78" stroke-width="3.8"/>
<line x1="408.6" y1="540.2" x2="439.9" y2="533.9" stroke="#d08a78" stroke-width="3.0"/>
<line x1="439.9" y1="533.9" x2="471.2" y2="527.6" stroke="#4a4cb8" stroke-width="3.0"/>
<line x1="471.2" y1="527.6" x2="504.9" y2="531.5" stroke="#4a4cb8" stroke-width="3.0"/>
<line x1="504.9" y1="531.5" x2="538.6" y2="535.5" stroke="#4a4cb8" stroke-width="3.0"/>
<line x1="538.6" y1="535.5" x2="559.0" y2="528.4" stroke="#4a4cb8" stroke-width="3.8"/>
<line x1="559.0" y1="528.4" x2="579.3" y2="521.4" stroke="#3fc428" stroke-width="3.8"/>
<line x1="538.6" y1="535.5" x2="560.2" y2="528.4" stroke="#4a4cb8" stroke-width="3.8"/>
<line x1="560.2" y1="528.4" x2="581.7" y2="521.4" stroke="#3fc428" stroke-width="3.8"/>
<line x1="579.3" y1="521.4" x2="593.8" y2="497.9" stroke="#3fc428" stroke-width="3.8"/>
<line x1="593.8" y1="497.9" x2="608.3" y2="474.4" stroke="#4a4cb8" stroke-width="3.8"/>
<line x1="579.3" y1="521.4" x2="580.5" y2="521.4" stroke="#3fc428" stroke-width="3.8"/>
<line x1="580.5" y1="521.4" x2="581.7" y2="521.4" stroke="#3fc428" stroke-width="3.8"/>
<line x1="594.2" y1="159.5" x2="613.0" y2="158.0" stroke="#3fc428" stroke-width="3.8"/>
<line x1="613.0" y1="158.0" x2="631.8" y2="156.4" stroke="#4a4cb8" stroke-width="3.8"/>
<line x1="594.2" y1="159.5" x2="592.7" y2="179.9" stroke="#3fc428" stroke-width="3.8"/>
<line x1="592.7" y1="179.9" x2="591.1" y2="200.3" stroke="#3fc428" stroke-width="3.8"/>
<line x1="631.8" y1="156.4" x2="643.6" y2="168.9" stroke="#4a4cb8" stroke-width="3.8"/>
<line x1="643.6" y1="168.9" x2="655.3" y2="181.5" stroke="#4a4cb8" stroke-width="3.8"/>
<line x1="631.8" y1="156.4" x2="635.7" y2="181.5" stroke="#4a4cb8" stroke-width="3.8"/>
<line x1="635.7" y1="181.5" x2="639.7" y2="206.5" stroke="#d08a78" stroke-width="3.8"/>
<line x1="708.6" y1="153.3" x2="719.5" y2="164.2" stroke="#4a4cb8" stroke-width="3.8"/>
<line x1="719.5" y1="164.2" x2="730.5" y2="175.2" stroke="#4a4cb8" stroke-width="3.8"/>
<line x1="708.6" y1="153.3" x2="682.0" y2="167.4" stroke="#4a4cb8" stroke-width="3.0"/>
<line x1="682.0" y1="167.4" x2="655.3" y2="181.5" stroke="#4a4cb8" stroke-width="3.0"/>
<line x1="708.6" y1="153.3" x2="704.7" y2="172.1" stroke="#4a4cb8" stroke-width="3.8"/>
<line x1="704.7" y1="172.1" x2="700.8" y2="190.9" stroke="#4a4cb8" stroke-width="3.8"/>
<line x1="708.6" y1="153.3" x2="732.1" y2="177.5" stroke="#4a4cb8" stroke-width="3.0"/>
<line x1="732.1" y1="177.5" x2="755.6" y2="201.8" stroke="#4a4cb8" stroke-width="3.0"/>
<line x1="708.6" y1="153.3" x2="703.1" y2="189.3" stroke="#4a4cb8" stroke-width="3.0"/>
<line x1="703.1" y1="189.3" x2="697.6" y2="225.3" stroke="#d08a78" stroke-width="3.0"/>
<line x1="730.5" y1="175.2" x2="715.6" y2="183.0" stroke="#4a4cb8" stroke-width="3.8"/>
<line x1="715.6" y1="183.0" x2="700.8" y2="190.9" stroke="#4a4cb8" stroke-width="3.8"/>
<line x1="730.5" y1="175.2" x2="743.0" y2="188.5" stroke="#4a4cb8" stroke-width="3.8"/>
<line x1="743.0" y1="188.5" x2="755.6" y2="201.8" stroke="#4a4cb8" stroke-width="3.8"/>
<line x1="730.5" y1="175.2" x2="714.1" y2="200.3" stroke="#4a4cb8" stroke-width="3.8"/>
<line x1="714.1" y1="200.3" x2="697.6" y2="225.3" stroke="#d08a78" stroke-width="3.8"/>
<line x1="730.5" y1="175.2" x2="721.9" y2="209.6" stroke="#4a4cb8" stroke-width="3.0"/>
<line x1="721.9" y1="209.6" x2="713.3" y2="244.1" stroke="#4a4cb8" stroke-width="3.0"/>
<line x1="655.3" y1="181.5" x2="678.0" y2="186.2" stroke="#4a4cb8" stroke-width="3.8"/>
<line x1="678.0" y1="186.2" x2="700.8" y2="190.9" stroke="#4a4cb8" stroke-width="3.8"/>
<line x1="655.3" y1="181.5" x2="647.5" y2="194.0" stroke="#4a4cb8" stroke-width="3.8"/>
<line x1="647.5" y1="194.0" x2="639.7" y2="206.5" stroke="#d08a78" stroke-width="3.8"/>
<line x1="655.3" y1="181.5" x2="640.4" y2="201.0" stroke="#4a4cb8" stroke-width="3.8"/>
<line x1="640.4" y1="201.0" x2="625.6" y2="220.6" stroke="#4a4cb8" stroke-width="3.8"/>
<line x1="655.3" y1="181.5" x2="653.0" y2="210.4" stroke="#4a4cb8" stroke-width="3.8"/>
<line x1="653.0" y1="210.4" x2="650.6" y2="239.4" stroke="#d08a78" stroke-width="3.8"/>
<line x1="700.8" y1="190.9" x2="728.2" y2="196.3" stroke="#4a4cb8" stroke-width="3.8"/>
<line x1="728.2" y1="196.3" x2="755.6" y2="201.8" stroke="#4a4cb8" stroke-width="3.8"/>
<line x1="700.8" y1="190.9" x2="699.2" y2="208.1" stroke="#4a4cb8" stroke-width="3.8"/>
<line x1="699.2" y1="208.1" x2="697.6" y2="225.3" stroke="#d08a78" stroke-width="3.8"/>
<line x1="700.8" y1="190.9" x2="707.0" y2="217.5" stroke="#4a4cb8" stroke-width="3.8"/>
<line x1="707.0" y1="217.5" x2="713.3" y2="244.1" stroke="#4a4cb8" stroke-width="3.8"/>
<line x1="755.6" y1="201.8" x2="734.4" y2="223.0" stroke="#4a4cb8" stroke-width="3.8"/>
<line x1="734.4" y1="223.0" x2="713.3" y2="244.1" stroke="#4a4cb8" stroke-width="3.8"/>
<line x1="591.1" y1="200.3" x2="615.4" y2="203.4" stroke="#3fc428" stroke-width="3.8"/>
<line x1="615.4" y1="203.4" x2="639.7" y2="206.5" stroke="#d08a78" stroke-width="3.8"/>
<line x1="591.1" y1="200.3" x2="608.3" y2="210.4" stroke="#3fc428" stroke-width="3.8"/>
<line x1="608.3" y1="210.4" x2="625.6" y2="220.6" stroke="#4a4cb8" stroke-width="3.8"/>
<line x1="639.7" y1="206.5" x2="632.6" y2="213.6" stroke="#d08a78" stroke-width="3.8"/>
<line x1="632.6" y1="213.6" x2="625.6" y2="220.6" stroke="#4a4cb8" stroke-width="3.8"/>
<line x1="639.7" y1="206.5" x2="645.1" y2="223.0" stroke="#d08a78" stroke-width="3.8"/>
<line x1="645.1" y1="223.0" x2="650.6" y2="239.4" stroke="#d08a78" stroke-width="3.8"/>
<line x1="625.6" y1="220.6" x2="638.1" y2="230.0" stroke="#4a4cb8" stroke-width="3.8"/>
<line x1="638.1" y1="230.0" x2="650.6" y2="239.4" stroke="#d08a78" stroke-width="3.8"/>
<line x1="625.6" y1="220.6" x2="632.6" y2="246.5" stroke="#4a4cb8" stroke-width="3.8"/>
<line x1="632.6" y1="246.5" x2="639.7" y2="272.3" stroke="#d08a78" stroke-width="3.8"/>
<line x1="697.6" y1="225.3" x2="705.5" y2="234.7" stroke="#d08a78" stroke-width="3.8"/>
<line x1="705.5" y1="234.7" x2="713.3" y2="244.1" stroke="#4a4cb8" stroke-width="3.8"/>
<line x1="697.6" y1="225.3" x2="674.1" y2="232.4" stroke="#d08a78" stroke-width="3.8"/>
<line x1="674.1" y1="232.4" x2="650.6" y2="239.4" stroke="#d08a78" stroke-width="3.8"/>
<line x1="697.6" y1="225.3" x2="685.1" y2="237.8" stroke="#d08a78" stroke-width="3.8"/>
<line x1="685.1" y1="237.8" x2="672.6" y2="250.4" stroke="#3fc428" stroke-width="3.8"/>
<line x1="713.3" y1="244.1" x2="692.9" y2="247.2" stroke="#4a4cb8" stroke-width="3.8"/>
<line x1="692.9" y1="247.2" x2="672.6" y2="250.4" stroke="#3fc428" stroke-width="3.8"/>
<line x1="713.3" y1="244.1" x2="705.5" y2="269.2" stroke="#4a4cb8" stroke-width="3.8"/>
<line x1="705.5" y1="269.2" x2="697.6" y2="294.2" stroke="#3fc428" stroke-width="3.8"/>
<line x1="713.3" y1="244.1" x2="728.2" y2="269.2" stroke="#4a4cb8" stroke-width="3.8"/>
<line x1="728.2" y1="269.2" x2="743.0" y2="294.2" stroke="#7a50b8" stroke-width="3.8"/>
<line x1="650.6" y1="239.4" x2="661.6" y2="244.9" stroke="#d08a78" stroke-width="3.8"/>
<line x1="661.6" y1="244.9" x2="672.6" y2="250.4" stroke="#3fc428" stroke-width="3.8"/>
<line x1="650.6" y1="239.4" x2="645.1" y2="255.9" stroke="#d08a78" stroke-width="3.8"/>
<line x1="645.1" y1="255.9" x2="639.7" y2="272.3" stroke="#d08a78" stroke-width="3.8"/>
<line x1="650.6" y1="239.4" x2="631.8" y2="254.3" stroke="#d08a78" stroke-width="3.8"/>
<line x1="631.8" y1="254.3" x2="613.0" y2="269.2" stroke="#4a4cb8" stroke-width="3.8"/>
<line x1="672.6" y1="250.4" x2="656.1" y2="261.3" stroke="#3fc428" stroke-width="3.8"/>
<line x1="656.1" y1="261.3" x2="639.7" y2="272.3" stroke="#d08a78" stroke-width="3.8"/>
<line x1="672.6" y1="250.4" x2="685.1" y2="272.3" stroke="#3fc428" stroke-width="3.8"/>
<line x1="685.1" y1="272.3" x2="697.6" y2="294.2" stroke="#3fc428" stroke-width="3.8"/>
<line x1="639.7" y1="272.3" x2="626.3" y2="270.7" stroke="#d08a78" stroke-width="3.8"/>
<line x1="626.3" y1="270.7" x2="613.0" y2="269.2" stroke="#4a4cb8" stroke-width="3.8"/>
<line x1="639.7" y1="272.3" x2="631.8" y2="285.6" stroke="#d08a78" stroke-width="3.8"/>
<line x1="631.8" y1="285.6" x2="624.0" y2="298.9" stroke="#d08a78" stroke-width="3.8"/>
<line x1="584.8" y1="278.6" x2="598.9" y2="273.9" stroke="#4a4cb8" stroke-width="3.8"/>
<line x1="598.9" y1="273.9" x2="613.0" y2="269.2" stroke="#4a4cb8" stroke-width="3.8"/>
<line x1="584.8" y1="278.6" x2="604.4" y2="288.8" stroke="#4a4cb8" stroke-width="3.8"/>
<line x1="604.4" y1="288.8" x2="624.0" y2="298.9" stroke="#d08a78" stroke-width="3.8"/>
<line x1="613.0" y1="269.2" x2="618.5" y2="284.1" stroke="#4a4cb8" stroke-width="3.8"/>
<line x1="618.5" y1="284.1" x2="624.0" y2="298.9" stroke="#d08a78" stroke-width="3.8"/>
<line x1="624.0" y1="298.9" x2="645.1" y2="312.2" stroke="#d08a78" stroke-width="3.8"/>
<line x1="645.1" y1="312.2" x2="666.3" y2="325.6" stroke="#4a4cb8" stroke-width="3.8"/>
<line x1="697.6" y1="294.2" x2="720.3" y2="294.2" stroke="#3fc428" stroke-width="3.8"/>
<line x1="720.3" y1="294.2" x2="743.0" y2="294.2" stroke="#7a50b8" stroke-width="3.8"/>
<line x1="697.6" y1="294.2" x2="734.4" y2="294.2" stroke="#3fc428" stroke-width="3.0"/>
<line x1="734.4" y1="294.2" x2="771.2" y2="294.2" stroke="#4a4cb8" stroke-width="3.0"/>
<line x1="697.6" y1="294.2" x2="710.9" y2="303.6" stroke="#3fc428" stroke-width="3.8"/>
<line x1="710.9" y1="303.6" x2="724.2" y2="313.0" stroke="#d08a78" stroke-width="3.8"/>
<line x1="697.6" y1="294.2" x2="721.9" y2="304.4" stroke="#3fc428" stroke-width="3.8"/>
<line x1="721.9" y1="304.4" x2="746.2" y2="314.6" stroke="#d08a78" stroke-width="3.8"/>
<line x1="697.6" y1="294.2" x2="727.4" y2="311.5" stroke="#3fc428" stroke-width="3.0"/>
<line x1="727.4" y1="311.5" x2="757.1" y2="328.7" stroke="#4a4cb8" stroke-width="3.0"/>
<line x1="697.6" y1="294.2" x2="682.0" y2="309.9" stroke="#3fc428" stroke-width="3.8"/>
<line x1="682.0" y1="309.9" x2="666.3" y2="325.6" stroke="#4a4cb8" stroke-width="3.8"/>
<line x1="697.6" y1="294.2" x2="691.4" y2="308.3" stroke="#3fc428" stroke-width="3.8"/>
<line x1="691.4" y1="308.3" x2="685.1" y2="322.4" stroke="#4a4cb8" stroke-width="3.8"/>
<line x1="697.6" y1="294.2" x2="685.1" y2="317.7" stroke="#3fc428" stroke-width="3.8"/>
<line x1="685.1" y1="317.7" x2="672.6" y2="341.2" stroke="#4a4cb8" stroke-width="3.8"/>
<line x1="743.0" y1="294.2" x2="757.1" y2="294.2" stroke="#7a50b8" stroke-width="3.8"/>
<line x1="757.1" y1="294.2" x2="771.2" y2="294.2" stroke="#4a4cb8" stroke-width="3.8"/>
<line x1="743.0" y1="294.2" x2="733.6" y2="303.6" stroke="#7a50b8" stroke-width="3.8"/>
<line x1="733.6" y1="303.6" x2="724.2" y2="313.0" stroke="#d08a78" stroke-width="3.8"/>
<line x1="743.0" y1="294.2" x2="744.6" y2="304.4" stroke="#7a50b8" stroke-width="3.8"/>
<line x1="744.6" y1="304.4" x2="746.2" y2="314.6" stroke="#d08a78" stroke-width="3.8"/>
<line x1="743.0" y1="294.2" x2="750.1" y2="311.5" stroke="#7a50b8" stroke-width="3.8"/>
<line x1="750.1" y1="311.5" x2="757.1" y2="328.7" stroke="#4a4cb8" stroke-width="3.8"/>
<line x1="771.2" y1="294.2" x2="747.7" y2="303.6" stroke="#4a4cb8" stroke-width="3.8"/>
<line x1="747.7" y1="303.6" x2="724.2" y2="313.0" stroke="#d08a78" stroke-width="3.8"/>
<line x1="771.2" y1="294.2" x2="758.7" y2="304.4" stroke="#4a4cb8" stroke-width="3.8"/>
<line x1="758.7" y1="304.4" x2="746.2" y2="314.6" stroke="#d08a78" stroke-width="3.8"/>
<line x1="771.2" y1="294.2" x2="764.2" y2="311.5" stroke="#4a4cb8" stroke-width="3.8"/>
<line x1="764.2" y1="311.5" x2="757.1" y2="328.7" stroke="#4a4cb8" stroke-width="3.8"/>
<line x1="724.2" y1="313.0" x2="735.2" y2="313.8" stroke="#d08a78" stroke-width="3.8"/>
<line x1="735.2" y1="313.8" x2="746.2" y2="314.6" stroke="#d08a78" stroke-width="3.8"/>
<line x1="724.2" y1="313.0" x2="740.7" y2="320.9" stroke="#d08a78" stroke-width="3.8"/>
<line x1="740.7" y1="320.9" x2="757.1" y2="328.7" stroke="#4a4cb8" stroke-width="3.8"/>
<line x1="724.2" y1="313.0" x2="704.7" y2="317.7" stroke="#d08a78" stroke-width="3.8"/>
<line x1="704.7" y1="317.7" x2="685.1" y2="322.4" stroke="#4a4cb8" stroke-width="3.8"/>
<line x1="746.2" y1="314.6" x2="751.7" y2="321.6" stroke="#d08a78" stroke-width="3.8"/>
<line x1="751.7" y1="321.6" x2="757.1" y2="328.7" stroke="#4a4cb8" stroke-width="3.8"/>
<line x1="666.3" y1="325.6" x2="675.7" y2="324.0" stroke="#4a4cb8" stroke-width="3.8"/>
<line x1="675.7" y1="324.0" x2="685.1" y2="322.4" stroke="#4a4cb8" stroke-width="3.8"/>
<line x1="666.3" y1="325.6" x2="669.4" y2="333.4" stroke="#4a4cb8" stroke-width="3.8"/>
<line x1="669.4" y1="333.4" x2="672.6" y2="341.2" stroke="#4a4cb8" stroke-width="3.8"/>
<line x1="666.3" y1="325.6" x2="680.4" y2="342.8" stroke="#4a4cb8" stroke-width="3.8"/>
<line x1="680.4" y1="342.8" x2="694.5" y2="360.0" stroke="#4a4cb8" stroke-width="3.8"/>
<line x1="666.3" y1="325.6" x2="667.9" y2="349.1" stroke="#4a4cb8" stroke-width="3.8"/>
<line x1="667.9" y1="349.1" x2="669.4" y2="372.6" stroke="#d08a78" stroke-width="3.8"/>
<line x1="685.1" y1="322.4" x2="678.8" y2="331.8" stroke="#4a4cb8" stroke-width="3.8"/>
<line x1="678.8" y1="331.8" x2="672.6" y2="341.2" stroke="#4a4cb8" stroke-width="3.8"/>
<line x1="685.1" y1="322.4" x2="689.8" y2="341.2" stroke="#4a4cb8" stroke-width="3.8"/>
<line x1="689.8" y1="341.2" x2="694.5" y2="360.0" stroke="#4a4cb8" stroke-width="3.8"/>
<line x1="672.6" y1="341.2" x2="683.5" y2="350.6" stroke="#4a4cb8" stroke-width="3.8"/>
<line x1="683.5" y1="350.6" x2="694.5" y2="360.0" stroke="#4a4cb8" stroke-width="3.8"/>
<line x1="672.6" y1="341.2" x2="671.0" y2="356.9" stroke="#4a4cb8" stroke-width="3.8"/>
<line x1="671.0" y1="356.9" x2="669.4" y2="372.6" stroke="#d08a78" stroke-width="3.8"/>
<line x1="694.5" y1="360.0" x2="682.0" y2="366.3" stroke="#4a4cb8" stroke-width="3.8"/>
<line x1="682.0" y1="366.3" x2="669.4" y2="372.6" stroke="#d08a78" stroke-width="3.8"/>
<line x1="694.5" y1="360.0" x2="715.6" y2="378.0" stroke="#4a4cb8" stroke-width="3.8"/>
<line x1="715.6" y1="378.0" x2="736.8" y2="396.1" stroke="#3fc428" stroke-width="3.8"/>
<line x1="694.5" y1="360.0" x2="693.7" y2="387.4" stroke="#4a4cb8" stroke-width="3.8"/>
<line x1="693.7" y1="387.4" x2="692.9" y2="414.8" stroke="#4a4cb8" stroke-width="3.8"/>
<line x1="584.8" y1="372.6" x2="591.9" y2="379.6" stroke="#4a4cb8" stroke-width="3.8"/>
<line x1="591.9" y1="379.6" x2="598.9" y2="386.7" stroke="#4a4cb8" stroke-width="3.8"/>
<line x1="584.8" y1="372.6" x2="608.3" y2="376.5" stroke="#4a4cb8" stroke-width="3.8"/>
<line x1="608.3" y1="376.5" x2="631.8" y2="380.4" stroke="#d08a78" stroke-width="3.8"/>
<line x1="584.8" y1="372.6" x2="586.4" y2="396.1" stroke="#4a4cb8" stroke-width="3.8"/>
<line x1="586.4" y1="396.1" x2="588.0" y2="419.5" stroke="#4a4cb8" stroke-width="3.8"/>
<line x1="598.9" y1="386.7" x2="615.4" y2="383.5" stroke="#4a4cb8" stroke-width="3.8"/>
<line x1="615.4" y1="383.5" x2="631.8" y2="380.4" stroke="#d08a78" stroke-width="3.8"/>
<line x1="598.9" y1="386.7" x2="626.3" y2="392.9" stroke="#4a4cb8" stroke-width="3.8"/>
<line x1="626.3" y1="392.9" x2="653.8" y2="399.2" stroke="#d08a78" stroke-width="3.8"/>
<line x1="598.9" y1="386.7" x2="593.5" y2="403.1" stroke="#4a4cb8" stroke-width="3.8"/>
<line x1="593.5" y1="403.1" x2="588.0" y2="419.5" stroke="#4a4cb8" stroke-width="3.8"/>
<line x1="631.8" y1="380.4" x2="650.6" y2="376.5" stroke="#d08a78" stroke-width="3.8"/>
<line x1="650.6" y1="376.5" x2="669.4" y2="372.6" stroke="#d08a78" stroke-width="3.8"/>
<line x1="631.8" y1="380.4" x2="642.8" y2="389.8" stroke="#d08a78" stroke-width="3.8"/>
<line x1="642.8" y1="389.8" x2="653.8" y2="399.2" stroke="#d08a78" stroke-width="3.8"/>
<line x1="669.4" y1="372.6" x2="661.6" y2="385.9" stroke="#d08a78" stroke-width="3.8"/>
<line x1="661.6" y1="385.9" x2="653.8" y2="399.2" stroke="#d08a78" stroke-width="3.8"/>
<line x1="669.4" y1="372.6" x2="681.2" y2="393.7" stroke="#d08a78" stroke-width="3.8"/>
<line x1="681.2" y1="393.7" x2="692.9" y2="414.8" stroke="#4a4cb8" stroke-width="3.8"/>
<line x1="653.8" y1="399.2" x2="673.3" y2="407.0" stroke="#d08a78" stroke-width="3.8"/>
<line x1="673.3" y1="407.0" x2="692.9" y2="414.8" stroke="#4a4cb8" stroke-width="3.8"/>
<line x1="653.8" y1="399.2" x2="638.1" y2="418.0" stroke="#d08a78" stroke-width="3.8"/>
<line x1="638.1" y1="418.0" x2="622.4" y2="436.8" stroke="#d08a78" stroke-width="3.8"/>
<line x1="736.8" y1="396.1" x2="742.3" y2="403.9" stroke="#3fc428" stroke-width="3.8"/>
<line x1="742.3" y1="403.9" x2="747.7" y2="411.7" stroke="#4a4cb8" stroke-width="3.8"/>
<line x1="736.8" y1="396.1" x2="714.8" y2="405.5" stroke="#3fc428" stroke-width="3.8"/>
<line x1="714.8" y1="405.5" x2="692.9" y2="414.8" stroke="#4a4cb8" stroke-width="3.8"/>
<line x1="736.8" y1="396.1" x2="722.7" y2="421.9" stroke="#3fc428" stroke-width="3.8"/>
<line x1="722.7" y1="421.9" x2="708.6" y2="447.7" stroke="#4a4cb8" stroke-width="3.8"/>
<line x1="736.8" y1="396.1" x2="732.1" y2="430.5" stroke="#3fc428" stroke-width="3.0"/>
<line x1="732.1" y1="430.5" x2="727.4" y2="465.0" stroke="#4a4cb8" stroke-width="3.0"/>
<line x1="747.7" y1="411.7" x2="720.3" y2="413.3" stroke="#4a4cb8" stroke-width="3.8"/>
<line x1="720.3" y1="413.3" x2="692.9" y2="414.8" stroke="#4a4cb8" stroke-width="3.8"/>
<line x1="747.7" y1="411.7" x2="728.2" y2="429.7" stroke="#4a4cb8" stroke-width="3.8"/>
<line x1="728.2" y1="429.7" x2="708.6" y2="447.7" stroke="#4a4cb8" stroke-width="3.8"/>
<line x1="747.7" y1="411.7" x2="737.6" y2="438.3" stroke="#4a4cb8" stroke-width="3.8"/>
<line x1="737.6" y1="438.3" x2="727.4" y2="465.0" stroke="#4a4cb8" stroke-width="3.8"/>
<line x1="692.9" y1="414.8" x2="700.8" y2="431.3" stroke="#4a4cb8" stroke-width="3.8"/>
<line x1="700.8" y1="431.3" x2="708.6" y2="447.7" stroke="#4a4cb8" stroke-width="3.8"/>
<line x1="692.9" y1="414.8" x2="710.2" y2="439.9" stroke="#4a4cb8" stroke-width="3.0"/>
<line x1="710.2" y1="439.9" x2="727.4" y2="465.0" stroke="#4a4cb8" stroke-width="3.0"/>
<line x1="588.0" y1="419.5" x2="605.2" y2="428.2" stroke="#4a4cb8" stroke-width="3.8"/>
<line x1="605.2" y1="428.2" x2="622.4" y2="436.8" stroke="#d08a78" stroke-width="3.8"/>
<line x1="622.4" y1="436.8" x2="642.0" y2="452.4" stroke="#d08a78" stroke-width="3.8"/>
<line x1="642.0" y1="452.4" x2="661.6" y2="468.1" stroke="#d08a78" stroke-width="3.8"/>
<line x1="622.4" y1="436.8" x2="615.4" y2="455.6" stroke="#d08a78" stroke-width="3.8"/>
<line x1="615.4" y1="455.6" x2="608.3" y2="474.4" stroke="#4a4cb8" stroke-width="3.8"/>
<line x1="622.4" y1="436.8" x2="634.2" y2="457.9" stroke="#d08a78" stroke-width="3.8"/>
<line x1="634.2" y1="457.9" x2="645.9" y2="479.1" stroke="#4a4cb8" stroke-width="3.8"/>
<line x1="708.6" y1="447.7" x2="718.0" y2="456.4" stroke="#4a4cb8" stroke-width="3.8"/>
<line x1="718.0" y1="456.4" x2="727.4" y2="465.0" stroke="#4a4cb8" stroke-width="3.8"/>
<line x1="708.6" y1="447.7" x2="685.1" y2="457.9" stroke="#4a4cb8" stroke-width="3.8"/>
<line x1="685.1" y1="457.9" x2="661.6" y2="468.1" stroke="#d08a78" stroke-width="3.8"/>
<line x1="708.6" y1="447.7" x2="695.3" y2="465.8" stroke="#4a4cb8" stroke-width="3.8"/>
<line x1="695.3" y1="465.8" x2="682.0" y2="483.8" stroke="#4a4cb8" stroke-width="3.8"/>
<line x1="708.6" y1="447.7" x2="720.3" y2="465.0" stroke="#4a4cb8" stroke-width="3.8"/>
<line x1="720.3" y1="465.0" x2="732.1" y2="482.2" stroke="#d08a78" stroke-width="3.8"/>
<line x1="727.4" y1="465.0" x2="704.7" y2="474.4" stroke="#4a4cb8" stroke-width="3.8"/>
<line x1="704.7" y1="474.4" x2="682.0" y2="483.8" stroke="#4a4cb8" stroke-width="3.8"/>
<line x1="727.4" y1="465.0" x2="729.7" y2="473.6" stroke="#4a4cb8" stroke-width="3.8"/>
<line x1="729.7" y1="473.6" x2="732.1" y2="482.2" stroke="#d08a78" stroke-width="3.8"/>
<line x1="661.6" y1="468.1" x2="635.0" y2="471.2" stroke="#d08a78" stroke-width="3.8"/>
<line x1="635.0" y1="471.2" x2="608.3" y2="474.4" stroke="#4a4cb8" stroke-width="3.8"/>
<line x1="661.6" y1="468.1" x2="653.8" y2="473.6" stroke="#d08a78" stroke-width="3.8"/>
<line x1="653.8" y1="473.6" x2="645.9" y2="479.1" stroke="#4a4cb8" stroke-width="3.8"/>
<line x1="661.6" y1="468.1" x2="671.8" y2="475.9" stroke="#d08a78" stroke-width="3.8"/>
<line x1="671.8" y1="475.9" x2="682.0" y2="483.8" stroke="#4a4cb8" stroke-width="3.8"/>
<line x1="661.6" y1="468.1" x2="696.8" y2="475.2" stroke="#d08a78" stroke-width="3.0"/>
<line x1="696.8" y1="475.2" x2="732.1" y2="482.2" stroke="#d08a78" stroke-width="3.0"/>
<line x1="661.6" y1="468.1" x2="655.3" y2="487.7" stroke="#d08a78" stroke-width="3.8"/>
<line x1="655.3" y1="487.7" x2="649.1" y2="507.3" stroke="#4a4cb8" stroke-width="3.8"/>
<line x1="608.3" y1="474.4" x2="627.1" y2="476.7" stroke="#4a4cb8" stroke-width="3.8"/>
<line x1="627.1" y1="476.7" x2="645.9" y2="479.1" stroke="#4a4cb8" stroke-width="3.8"/>
<line x1="608.3" y1="474.4" x2="628.7" y2="490.8" stroke="#4a4cb8" stroke-width="3.8"/>
<line x1="628.7" y1="490.8" x2="649.1" y2="507.3" stroke="#4a4cb8" stroke-width="3.8"/>
<line x1="608.3" y1="474.4" x2="595.0" y2="497.9" stroke="#4a4cb8" stroke-width="3.8"/>
<line x1="595.0" y1="497.9" x2="581.7" y2="521.4" stroke="#3fc428" stroke-width="3.8"/>
<line x1="645.9" y1="479.1" x2="663.9" y2="481.4" stroke="#4a4cb8" stroke-width="3.8"/>
<line x1="663.9" y1="481.4" x2="682.0" y2="483.8" stroke="#4a4cb8" stroke-width="3.8"/>
<line x1="645.9" y1="479.1" x2="647.5" y2="493.2" stroke="#4a4cb8" stroke-width="3.8"/>
<line x1="647.5" y1="493.2" x2="649.1" y2="507.3" stroke="#4a4cb8" stroke-width="3.8"/>
<line x1="645.9" y1="479.1" x2="664.7" y2="510.4" stroke="#4a4cb8" stroke-width="3.0"/>
<line x1="664.7" y1="510.4" x2="683.5" y2="541.7" stroke="#4a4cb8" stroke-width="3.0"/>
<line x1="682.0" y1="483.8" x2="707.0" y2="483.0" stroke="#4a4cb8" stroke-width="3.8"/>
<line x1="707.0" y1="483.0" x2="732.1" y2="482.2" stroke="#d08a78" stroke-width="3.8"/>
<line x1="682.0" y1="483.8" x2="665.5" y2="495.5" stroke="#4a4cb8" stroke-width="3.8"/>
<line x1="665.5" y1="495.5" x2="649.1" y2="507.3" stroke="#4a4cb8" stroke-width="3.8"/>
<line x1="682.0" y1="483.8" x2="682.7" y2="512.8" stroke="#4a4cb8" stroke-width="3.8"/>
<line x1="682.7" y1="512.8" x2="683.5" y2="541.7" stroke="#4a4cb8" stroke-width="3.8"/>
<line x1="649.1" y1="507.3" x2="666.3" y2="524.5" stroke="#4a4cb8" stroke-width="3.8"/>
<line x1="666.3" y1="524.5" x2="683.5" y2="541.7" stroke="#4a4cb8" stroke-width="3.8"/>
<circle cx="410.2" cy="244.1" r="12.8" fill="url(#gB)"/>
<circle cx="518.2" cy="228.4" r="12.8" fill="url(#gB)"/>
<circle cx="223.1" cy="333.4" r="12.8" fill="url(#gB)"/>
<circle cx="708.6" cy="447.7" r="12.8" fill="url(#gB)"/>
<circle cx="176.8" cy="208.1" r="12.8" fill="url(#gB)"/>
<circle cx="355.3" cy="419.5" r="12.8" fill="url(#gB)"/>
<circle cx="297.4" cy="396.1" r="12.8" fill="url(#gB)"/>
<circle cx="497.9" cy="322.4" r="12.8" fill="url(#gB)"/>
<circle cx="743.0" cy="294.2" r="12.8" fill="url(#gB)"/>
<circle cx="631.8" cy="380.4" r="14.4" fill="url(#gO)"/>
<circle cx="297.4" cy="416.4" r="12.8" fill="url(#gB)"/>
<circle cx="385.1" cy="491.6" r="12.8" fill="url(#gB)"/>
<circle cx="391.4" cy="521.4" r="13.2" fill="url(#gG)"/>
<circle cx="253.5" cy="418.0" r="12.8" fill="url(#gB)"/>
<circle cx="488.5" cy="432.1" r="12.8" fill="url(#gB)"/>
<circle cx="356.9" cy="465.0" r="14.4" fill="url(#gO)"/>
<circle cx="494.7" cy="341.2" r="12.8" fill="url(#gB)"/>
<circle cx="270.7" cy="234.7" r="12.8" fill="url(#gB)"/>
<circle cx="672.6" cy="341.2" r="12.8" fill="url(#gB)"/>
<circle cx="352.2" cy="516.7" r="12.8" fill="url(#gB)"/>
<circle cx="319.3" cy="441.5" r="13.2" fill="url(#gG)"/>
<circle cx="447.7" cy="472.8" r="13.2" fill="url(#gG)"/>
<circle cx="231.6" cy="217.5" r="13.2" fill="url(#gG)"/>
<circle cx="713.3" cy="244.1" r="12.8" fill="url(#gB)"/>
<circle cx="590.3" cy="197.1" r="13.2" fill="url(#gG)"/>
<circle cx="316.2" cy="273.9" r="13.2" fill="url(#gG)"/>
<circle cx="585.6" cy="372.6" r="12.8" fill="url(#gB)"/>
<circle cx="598.9" cy="386.7" r="12.8" fill="url(#gB)"/>
<circle cx="727.4" cy="465.0" r="12.8" fill="url(#gB)"/>
<circle cx="170.5" cy="438.3" r="14.4" fill="url(#gO)"/>
<circle cx="362.5" cy="217.5" r="12.8" fill="url(#gB)"/>
<circle cx="275.4" cy="272.3" r="12.8" fill="url(#gB)"/>
<circle cx="480.6" cy="248.8" r="14.4" fill="url(#gO)"/>
<circle cx="383.5" cy="164.2" r="13.2" fill="url(#gG)"/>
<circle cx="250.4" cy="488.5" r="12.8" fill="url(#gB)"/>
<circle cx="402.3" cy="341.2" r="14.4" fill="url(#gO)"/>
<circle cx="385.1" cy="377.3" r="14.4" fill="url(#gO)"/>
<circle cx="460.3" cy="363.2" r="13.2" fill="url(#gG)"/>
<circle cx="397.6" cy="439.9" r="12.8" fill="url(#gB)"/>
<circle cx="209.6" cy="208.1" r="12.8" fill="url(#gB)"/>
<circle cx="639.7" cy="206.5" r="14.4" fill="url(#gO)"/>
<circle cx="191.8" cy="153.9" r="12.8" fill="url(#gB)"/>
<circle cx="588.0" cy="419.5" r="12.8" fill="url(#gB)"/>
<circle cx="527.6" cy="460.3" r="14.4" fill="url(#gO)"/>
<circle cx="747.7" cy="411.7" r="12.8" fill="url(#gB)"/>
<circle cx="448.4" cy="155.8" r="12.8" fill="url(#gB)"/>
<circle cx="424.2" cy="436.8" r="12.8" fill="url(#gB)"/>
<circle cx="566.8" cy="316.2" r="12.8" fill="url(#gB)"/>
<circle cx="471.2" cy="527.6" r="12.8" fill="url(#gB)"/>
<circle cx="306.8" cy="496.3" r="14.4" fill="url(#gO)"/>
<circle cx="392.9" cy="305.2" r="12.8" fill="url(#gB)"/>
<circle cx="639.7" cy="272.3" r="14.4" fill="url(#gO)"/>
<circle cx="271.7" cy="499.4" r="12.8" fill="url(#gB)"/>
<circle cx="377.3" cy="360.0" r="14.4" fill="url(#gO)"/>
<circle cx="154.8" cy="518.2" r="12.8" fill="url(#gB)"/>
<circle cx="477.5" cy="479.1" r="13.2" fill="url(#gG)"/>
<circle cx="209.6" cy="410.2" r="12.8" fill="url(#gB)"/>
<circle cx="338.1" cy="488.5" r="12.8" fill="url(#gB)"/>
<circle cx="622.4" cy="436.8" r="14.4" fill="url(#gO)"/>
<circle cx="469.7" cy="439.9" r="12.8" fill="url(#gB)"/>
<circle cx="608.3" cy="474.4" r="12.8" fill="url(#gB)"/>
<circle cx="624.0" cy="298.9" r="14.4" fill="url(#gO)"/>
<circle cx="237.8" cy="518.2" r="12.8" fill="url(#gB)"/>
<circle cx="551.1" cy="504.1" r="12.8" fill="url(#gB)"/>
<circle cx="215.9" cy="353.8" r="14.4" fill="url(#gO)"/>
<circle cx="491.6" cy="213.4" r="14.4" fill="url(#gO)"/>
<circle cx="584.8" cy="278.6" r="12.8" fill="url(#gB)"/>
<circle cx="310.5" cy="262.9" r="12.8" fill="url(#gB)"/>
<circle cx="378.8" cy="408.6" r="13.2" fill="url(#gG)"/>
<circle cx="305.2" cy="313.0" r="12.8" fill="url(#gB)"/>
<circle cx="257.6" cy="158.0" r="14.4" fill="url(#gO)"/>
<circle cx="685.1" cy="322.4" r="12.8" fill="url(#gB)"/>
<circle cx="538.6" cy="535.5" r="12.8" fill="url(#gB)"/>
<circle cx="319.3" cy="360.0" r="12.8" fill="url(#gB)"/>
<circle cx="463.4" cy="225.3" r="12.8" fill="url(#gB)"/>
<circle cx="551.1" cy="430.5" r="14.4" fill="url(#gO)"/>
<circle cx="217.5" cy="540.2" r="13.2" fill="url(#gG)"/>
<circle cx="591.9" cy="158.0" r="13.2" fill="url(#gG)"/>
<circle cx="594.2" cy="159.5" r="13.2" fill="url(#gG)"/>
<circle cx="397.6" cy="475.9" r="12.8" fill="url(#gB)"/>
<circle cx="613.0" cy="269.2" r="12.8" fill="url(#gB)"/>
<circle cx="535.5" cy="253.5" r="14.4" fill="url(#gO)"/>
<circle cx="700.8" cy="190.9" r="12.8" fill="url(#gB)"/>
<circle cx="666.3" cy="325.6" r="12.8" fill="url(#gB)"/>
<circle cx="546.4" cy="367.9" r="13.2" fill="url(#gG)"/>
<circle cx="697.6" cy="225.3" r="14.4" fill="url(#gO)"/>
<circle cx="591.1" cy="200.3" r="13.2" fill="url(#gG)"/>
<circle cx="200.3" cy="507.3" r="13.2" fill="url(#gG)"/>
<circle cx="653.8" cy="399.2" r="14.4" fill="url(#gO)"/>
<circle cx="408.6" cy="540.2" r="14.4" fill="url(#gO)"/>
<circle cx="382.0" cy="319.3" r="12.8" fill="url(#gB)"/>
<circle cx="692.9" cy="414.8" r="12.8" fill="url(#gB)"/>
<circle cx="356.9" cy="295.8" r="14.4" fill="url(#gO)"/>
<circle cx="682.0" cy="483.8" r="12.8" fill="url(#gB)"/>
<circle cx="631.8" cy="156.4" r="12.8" fill="url(#gB)"/>
<circle cx="435.2" cy="316.2" r="12.8" fill="url(#gB)"/>
<circle cx="402.3" cy="411.7" r="12.8" fill="url(#gB)"/>
<circle cx="494.7" cy="300.5" r="12.8" fill="url(#gB)"/>
<circle cx="521.4" cy="308.3" r="13.2" fill="url(#gG)"/>
<circle cx="771.2" cy="294.2" r="12.8" fill="url(#gB)"/>
<circle cx="154.8" cy="150.1" r="13.2" fill="url(#gG)"/>
<circle cx="450.9" cy="386.7" r="14.4" fill="url(#gO)"/>
<circle cx="584.0" cy="281.1" r="12.8" fill="url(#gB)"/>
<circle cx="650.6" cy="239.4" r="14.4" fill="url(#gO)"/>
<circle cx="375.7" cy="251.9" r="12.8" fill="url(#gB)"/>
<circle cx="694.5" cy="360.0" r="12.8" fill="url(#gB)"/>
<circle cx="349.1" cy="182.1" r="12.8" fill="url(#gB)"/>
<circle cx="235.3" cy="302.1" r="14.4" fill="url(#gO)"/>
<circle cx="746.2" cy="314.6" r="14.4" fill="url(#gO)"/>
<circle cx="416.4" cy="267.6" r="13.2" fill="url(#gG)"/>
<circle cx="513.5" cy="419.5" r="12.8" fill="url(#gB)"/>
<circle cx="183.0" cy="305.2" r="12.8" fill="url(#gB)"/>
<circle cx="625.6" cy="220.6" r="12.8" fill="url(#gB)"/>
<circle cx="581.7" cy="521.4" r="13.2" fill="url(#gG)"/>
<circle cx="730.5" cy="175.2" r="12.8" fill="url(#gB)"/>
<circle cx="661.6" cy="468.1" r="14.4" fill="url(#gO)"/>
<circle cx="579.3" cy="521.4" r="13.2" fill="url(#gG)"/>
<circle cx="493.2" cy="460.3" r="13.2" fill="url(#gG)"/>
<circle cx="551.1" cy="150.8" r="12.8" fill="url(#gB)"/>
<circle cx="425.8" cy="153.3" r="12.8" fill="url(#gB)"/>
<circle cx="524.5" cy="194.0" r="12.8" fill="url(#gB)"/>
<circle cx="584.8" cy="372.6" r="12.8" fill="url(#gB)"/>
<circle cx="372.6" cy="281.7" r="12.8" fill="url(#gB)"/>
<circle cx="655.3" cy="181.5" r="12.8" fill="url(#gB)"/>
<circle cx="544.9" cy="480.6" r="13.2" fill="url(#gG)"/>
<circle cx="228.4" cy="458.7" r="12.8" fill="url(#gB)"/>
<circle cx="649.1" cy="507.3" r="12.8" fill="url(#gB)"/>
<circle cx="732.1" cy="482.2" r="14.4" fill="url(#gO)"/>
<circle cx="447.7" cy="280.1" r="12.8" fill="url(#gB)"/>
<circle cx="169.5" cy="234.7" r="12.8" fill="url(#gB)"/>
<circle cx="189.3" cy="488.5" r="14.4" fill="url(#gO)"/>
<circle cx="356.9" cy="538.6" r="14.4" fill="url(#gO)"/>
<circle cx="158.0" cy="300.5" r="12.8" fill="url(#gB)"/>
<circle cx="165.8" cy="360.0" r="14.4" fill="url(#gO)"/>
<circle cx="154.8" cy="490.0" r="13.2" fill="url(#gG)"/>
<circle cx="521.4" cy="344.4" r="12.8" fill="url(#gB)"/>
<circle cx="416.4" cy="356.9" r="14.4" fill="url(#gO)"/>
<circle cx="587.2" cy="419.5" r="12.8" fill="url(#gB)"/>
<circle cx="645.9" cy="479.1" r="12.8" fill="url(#gB)"/>
<circle cx="330.3" cy="519.8" r="14.4" fill="url(#gO)"/>
<circle cx="669.4" cy="372.6" r="14.4" fill="url(#gO)"/>
<circle cx="697.6" cy="294.2" r="13.2" fill="url(#gG)"/>
<circle cx="708.6" cy="153.3" r="12.8" fill="url(#gB)"/>
<circle cx="557.4" cy="251.9" r="12.8" fill="url(#gB)"/>
<circle cx="755.6" cy="201.8" r="12.8" fill="url(#gB)"/>
<circle cx="176.8" cy="416.4" r="12.8" fill="url(#gB)"/>
<circle cx="672.6" cy="250.4" r="13.2" fill="url(#gG)"/>
<circle cx="757.1" cy="328.7" r="12.8" fill="url(#gB)"/>
<circle cx="291.1" cy="338.7" r="14.4" fill="url(#gO)"/>
<circle cx="736.8" cy="396.1" r="13.2" fill="url(#gG)"/>
<circle cx="724.2" cy="313.0" r="14.4" fill="url(#gO)"/>
<circle cx="683.5" cy="541.7" r="12.8" fill="url(#gB)"/>
<circle cx="281.1" cy="173.6" r="12.8" fill="url(#gB)"/>
<circle cx="491.6" cy="176.8" r="13.2" fill="url(#gG)"/>
<circle cx="228.4" cy="422.7" r="13.2" fill="url(#gG)"/>
<circle cx="322.4" cy="167.4" r="12.8" fill="url(#gB)"/>
</g>
<text x="202.0" y="649.8" font-size="61" font-weight="bold" textLength="477.7" lengthAdjust="spacingAndGlyphs">Material structure</text>
<path d="M839 346H903V329L944 366L903 404V385H839Z" fill="#eeb0dc"/>
<path d="M1222.5 584H1261.6V652H1280.7L1242 691L1203.4 652H1222.5Z" fill="#eeb0dc"/>
<path d="M965 951H899V937L861 975L899 1013V999H965Z" fill="#eeb0dc"/>
<path d="M478 958H413V944L374 981L413 1017V1003H478Z" fill="#eeb0dc"/>
<text x="1325.5" y="78.0" font-size="64" font-weight="bold" textLength="170.0" lengthAdjust="spacingAndGlyphs">Graph</text>
<g>
<line x1="1183.5" y1="158.7" x2="1235.4" y2="134.7" stroke="#b8bcc2" stroke-width="3"/>
<line x1="1183.5" y1="158.7" x2="1298.3" y2="121.3" stroke="#b4b8bc" stroke-width="3"/>
<line x1="1183.5" y1="158.7" x2="1285.3" y2="187.1" stroke="#b4b8bc" stroke-width="3"/>
<line x1="1183.5" y1="158.7" x2="1223.5" y2="209.6" stroke="#b8bcc2" stroke-width="3"/>
<line x1="1183.5" y1="158.7" x2="1257.4" y2="212.1" stroke="#aeb2b6" stroke-width="3"/>
<line x1="1183.5" y1="158.7" x2="1258.4" y2="247.0" stroke="#b4b8bc" stroke-width="3"/>
<line x1="1183.5" y1="158.7" x2="1144.6" y2="264.5" stroke="#c4c4dc" stroke-width="3"/>
<line x1="1183.5" y1="158.7" x2="1222.0" y2="279.4" stroke="#a8b4b8" stroke-width="3"/>
<line x1="1235.4" y1="134.7" x2="1298.3" y2="121.3" stroke="#b4b8bc" stroke-width="3"/>
<line x1="1235.4" y1="134.7" x2="1335.2" y2="158.7" stroke="#b2b6ba" stroke-width="3"/>
<line x1="1235.4" y1="134.7" x2="1285.3" y2="187.1" stroke="#b4b8bc" stroke-width="3"/>
<line x1="1235.4" y1="134.7" x2="1223.5" y2="209.6" stroke="#b2b6ba" stroke-width="3"/>
<line x1="1235.4" y1="134.7" x2="1257.4" y2="212.1" stroke="#c4c4dc" stroke-width="3"/>
<line x1="1235.4" y1="134.7" x2="1258.4" y2="247.0" stroke="#aeb2b6" stroke-width="3"/>
<line x1="1235.4" y1="134.7" x2="1222.0" y2="279.4" stroke="#b4b8bc" stroke-width="3"/>
<line x1="1298.3" y1="121.3" x2="1335.2" y2="158.7" stroke="#b8bcc2" stroke-width="3"/>
<line x1="1298.3" y1="121.3" x2="1285.3" y2="187.1" stroke="#b8bcc2" stroke-width="3"/>
<line x1="1298.3" y1="121.3" x2="1223.5" y2="209.6" stroke="#a8b4b8" stroke-width="3"/>
<line x1="1298.3" y1="121.3" x2="1257.4" y2="212.1" stroke="#c4c4dc" stroke-width="3"/>
<line x1="1298.3" y1="121.3" x2="1353.2" y2="223.1" stroke="#b4b8bc" stroke-width="3"/>
<line x1="1298.3" y1="121.3" x2="1383.1" y2="199.6" stroke="#b4b8bc" stroke-width="3"/>
<line x1="1335.2" y1="158.7" x2="1285.3" y2="187.1" stroke="#c4c4dc" stroke-width="3"/>
<line x1="1335.2" y1="158.7" x2="1223.5" y2="209.6" stroke="#c4c4dc" stroke-width="3"/>
<line x1="1335.2" y1="158.7" x2="1257.4" y2="212.1" stroke="#a8b4b8" stroke-width="3"/>
<line x1="1335.2" y1="158.7" x2="1353.2" y2="223.1" stroke="#b8bcc2" stroke-width="3"/>
<line x1="1335.2" y1="158.7" x2="1383.1" y2="199.6" stroke="#b8bcc2" stroke-width="3"/>
<line x1="1335.2" y1="158.7" x2="1258.4" y2="247.0" stroke="#a8b4b8" stroke-width="3"/>
<line x1="1285.3" y1="187.1" x2="1223.5" y2="209.6" stroke="#b8bcc2" stroke-width="3"/>
<line x1="1285.3" y1="187.1" x2="1257.4" y2="212.1" stroke="#b4b8bc" stroke-width="3"/>
<line x1="1285.3" y1="187.1" x2="1353.2" y2="223.1" stroke="#c4c4dc" stroke-width="3"/>
<line x1="1285.3" y1="187.1" x2="1383.1" y2="199.6" stroke="#a8b4b8" stroke-width="3"/>
<line x1="1285.3" y1="187.1" x2="1258.4" y2="247.0" stroke="#b2b6ba" stroke-width="3"/>
<line x1="1285.3" y1="187.1" x2="1222.0" y2="279.4" stroke="#a8b4b8" stroke-width="3"/>
<line x1="1223.5" y1="209.6" x2="1257.4" y2="212.1" stroke="#b2b6ba" stroke-width="3"/>
<line x1="1223.5" y1="209.6" x2="1258.4" y2="247.0" stroke="#b8bcc2" stroke-width="3"/>
<line x1="1223.5" y1="209.6" x2="1144.6" y2="264.5" stroke="#b4b8bc" stroke-width="3"/>
<line x1="1223.5" y1="209.6" x2="1222.0" y2="279.4" stroke="#b2b6ba" stroke-width="3"/>
<line x1="1257.4" y1="212.1" x2="1353.2" y2="223.1" stroke="#aeb2b6" stroke-width="3"/>
<line x1="1257.4" y1="212.1" x2="1383.1" y2="199.6" stroke="#b2b6ba" stroke-width="3"/>
<line x1="1257.4" y1="212.1" x2="1258.4" y2="247.0" stroke="#aeb2b6" stroke-width="3"/>
<line x1="1257.4" y1="212.1" x2="1144.6" y2="264.5" stroke="#c4c4dc" stroke-width="3"/>
<line x1="1257.4" y1="212.1" x2="1222.0" y2="279.4" stroke="#b4b8bc" stroke-width="3"/>
<line x1="1353.2" y1="223.1" x2="1383.1" y2="199.6" stroke="#a8b4b8" stroke-width="3"/>
<line x1="1353.2" y1="223.1" x2="1258.4" y2="247.0" stroke="#c4c4dc" stroke-width="3"/>
<line x1="1353.2" y1="223.1" x2="1473.0" y2="288.4" stroke="#a8b4b8" stroke-width="3"/>
<line x1="1353.2" y1="223.1" x2="1325.2" y2="324.4" stroke="#c4c4dc" stroke-width="3"/>
<line x1="1353.2" y1="223.1" x2="1383.1" y2="329.3" stroke="#c4c4dc" stroke-width="3"/>
<line x1="1383.1" y1="199.6" x2="1258.4" y2="247.0" stroke="#a8b4b8" stroke-width="3"/>
<line x1="1383.1" y1="199.6" x2="1473.0" y2="288.4" stroke="#b4b8bc" stroke-width="3"/>
<line x1="1383.1" y1="199.6" x2="1383.1" y2="329.3" stroke="#c4c4dc" stroke-width="3"/>
<line x1="1258.4" y1="247.0" x2="1144.6" y2="264.5" stroke="#b8bcc2" stroke-width="3"/>
<line x1="1258.4" y1="247.0" x2="1222.0" y2="279.4" stroke="#aeb2b6" stroke-width="3"/>
<line x1="1258.4" y1="247.0" x2="1291.8" y2="329.3" stroke="#b2b6ba" stroke-width="3"/>
<line x1="1258.4" y1="247.0" x2="1325.2" y2="324.4" stroke="#b2b6ba" stroke-width="3"/>
<line x1="1258.4" y1="247.0" x2="1213.5" y2="344.3" stroke="#b8bcc2" stroke-width="3"/>
<line x1="1144.6" y1="264.5" x2="1222.0" y2="279.4" stroke="#c4c4dc" stroke-width="3"/>
<line x1="1144.6" y1="264.5" x2="1213.5" y2="344.3" stroke="#b8bcc2" stroke-width="3"/>
<line x1="1144.6" y1="264.5" x2="1064.8" y2="373.3" stroke="#aeb2b6" stroke-width="3"/>
<line x1="1144.6" y1="264.5" x2="1120.7" y2="374.3" stroke="#a8b4b8" stroke-width="3"/>
<line x1="1144.6" y1="264.5" x2="1157.1" y2="391.7" stroke="#c4c4dc" stroke-width="3"/>
<line x1="1222.0" y1="279.4" x2="1291.8" y2="329.3" stroke="#a8b4b8" stroke-width="3"/>
<line x1="1222.0" y1="279.4" x2="1325.2" y2="324.4" stroke="#aeb2b6" stroke-width="3"/>
<line x1="1222.0" y1="279.4" x2="1213.5" y2="344.3" stroke="#c4c4dc" stroke-width="3"/>
<line x1="1473.0" y1="288.4" x2="1325.2" y2="324.4" stroke="#b4b8bc" stroke-width="3"/>
<line x1="1473.0" y1="288.4" x2="1351.7" y2="339.3" stroke="#c4c4dc" stroke-width="3"/>
<line x1="1473.0" y1="288.4" x2="1383.1" y2="329.3" stroke="#b4b8bc" stroke-width="3"/>
<line x1="1473.0" y1="288.4" x2="1458.0" y2="366.8" stroke="#aeb2b6" stroke-width="3"/>
<line x1="1473.0" y1="288.4" x2="1508.9" y2="374.3" stroke="#b4b8bc" stroke-width="3"/>
<line x1="1473.0" y1="288.4" x2="1578.7" y2="426.6" stroke="#b4b8bc" stroke-width="3"/>
<line x1="1473.0" y1="288.4" x2="1456.5" y2="404.2" stroke="#c4c4dc" stroke-width="3"/>
<line x1="1291.8" y1="329.3" x2="1325.2" y2="324.4" stroke="#b4b8bc" stroke-width="3"/>
<line x1="1291.8" y1="329.3" x2="1351.7" y2="339.3" stroke="#b8bcc2" stroke-width="3"/>
<line x1="1291.8" y1="329.3" x2="1383.1" y2="329.3" stroke="#aeb2b6" stroke-width="3"/>
<line x1="1291.8" y1="329.3" x2="1213.5" y2="344.3" stroke="#a8b4b8" stroke-width="3"/>
<line x1="1291.8" y1="329.3" x2="1212.0" y2="394.2" stroke="#b2b6ba" stroke-width="3"/>
<line x1="1291.8" y1="329.3" x2="1296.8" y2="406.7" stroke="#aeb2b6" stroke-width="3"/>
<line x1="1291.8" y1="329.3" x2="1346.7" y2="411.7" stroke="#b4b8bc" stroke-width="3"/>
<line x1="1291.8" y1="329.3" x2="1321.8" y2="429.1" stroke="#a8b4b8" stroke-width="3"/>
<line x1="1325.2" y1="324.4" x2="1351.7" y2="339.3" stroke="#a8b4b8" stroke-width="3"/>
<line x1="1325.2" y1="324.4" x2="1383.1" y2="329.3" stroke="#b8bcc2" stroke-width="3"/>
<line x1="1325.2" y1="324.4" x2="1296.8" y2="406.7" stroke="#a8b4b8" stroke-width="3"/>
<line x1="1325.2" y1="324.4" x2="1346.7" y2="411.7" stroke="#aeb2b6" stroke-width="3"/>
<line x1="1325.2" y1="324.4" x2="1321.8" y2="429.1" stroke="#b4b8bc" stroke-width="3"/>
<line x1="1351.7" y1="339.3" x2="1383.1" y2="329.3" stroke="#b4b8bc" stroke-width="3"/>
<line x1="1351.7" y1="339.3" x2="1296.8" y2="406.7" stroke="#b4b8bc" stroke-width="3"/>
<line x1="1351.7" y1="339.3" x2="1346.7" y2="411.7" stroke="#b2b6ba" stroke-width="3"/>
<line x1="1351.7" y1="339.3" x2="1458.0" y2="366.8" stroke="#a8b4b8" stroke-width="3"/>
<line x1="1351.7" y1="339.3" x2="1321.8" y2="429.1" stroke="#a8b4b8" stroke-width="3"/>
<line x1="1351.7" y1="339.3" x2="1411.6" y2="429.1" stroke="#b8bcc2" stroke-width="3"/>
<line x1="1383.1" y1="329.3" x2="1346.7" y2="411.7" stroke="#a8b4b8" stroke-width="3"/>
<line x1="1383.1" y1="329.3" x2="1458.0" y2="366.8" stroke="#b4b8bc" stroke-width="3"/>
<line x1="1383.1" y1="329.3" x2="1456.5" y2="404.2" stroke="#aeb2b6" stroke-width="3"/>
<line x1="1383.1" y1="329.3" x2="1411.6" y2="429.1" stroke="#aeb2b6" stroke-width="3"/>
<line x1="1213.5" y1="344.3" x2="1120.7" y2="374.3" stroke="#b2b6ba" stroke-width="3"/>
<line x1="1213.5" y1="344.3" x2="1157.1" y2="391.7" stroke="#b2b6ba" stroke-width="3"/>
<line x1="1213.5" y1="344.3" x2="1212.0" y2="394.2" stroke="#c4c4dc" stroke-width="3"/>
<line x1="1213.5" y1="344.3" x2="1296.8" y2="406.7" stroke="#a8b4b8" stroke-width="3"/>
<line x1="1213.5" y1="344.3" x2="1177.0" y2="431.6" stroke="#c4c4dc" stroke-width="3"/>
<line x1="1213.5" y1="344.3" x2="1239.4" y2="449.1" stroke="#b2b6ba" stroke-width="3"/>
<line x1="1064.8" y1="373.3" x2="1120.7" y2="374.3" stroke="#aeb2b6" stroke-width="3"/>
<line x1="1064.8" y1="373.3" x2="1157.1" y2="391.7" stroke="#b2b6ba" stroke-width="3"/>
<line x1="1064.8" y1="373.3" x2="1212.0" y2="394.2" stroke="#c4c4dc" stroke-width="3"/>
<line x1="1064.8" y1="373.3" x2="1059.8" y2="409.2" stroke="#b8bcc2" stroke-width="3"/>
<line x1="1064.8" y1="373.3" x2="1019.9" y2="441.6" stroke="#b2b6ba" stroke-width="3"/>
<line x1="1064.8" y1="373.3" x2="1177.0" y2="431.6" stroke="#aeb2b6" stroke-width="3"/>
<line x1="1064.8" y1="373.3" x2="1059.8" y2="486.5" stroke="#c4c4dc" stroke-width="3"/>
<line x1="1120.7" y1="374.3" x2="1157.1" y2="391.7" stroke="#c4c4dc" stroke-width="3"/>
<line x1="1120.7" y1="374.3" x2="1212.0" y2="394.2" stroke="#b2b6ba" stroke-width="3"/>
<line x1="1120.7" y1="374.3" x2="1059.8" y2="409.2" stroke="#b2b6ba" stroke-width="3"/>
<line x1="1120.7" y1="374.3" x2="1019.9" y2="441.6" stroke="#b4b8bc" stroke-width="3"/>
<line x1="1120.7" y1="374.3" x2="1177.0" y2="431.6" stroke="#b4b8bc" stroke-width="3"/>
<line x1="1120.7" y1="374.3" x2="1059.8" y2="486.5" stroke="#b2b6ba" stroke-width="3"/>
<line x1="1120.7" y1="374.3" x2="1114.7" y2="514.0" stroke="#c4c4dc" stroke-width="3"/>
<line x1="1157.1" y1="391.7" x2="1212.0" y2="394.2" stroke="#a8b4b8" stroke-width="3"/>
<line x1="1157.1" y1="391.7" x2="1059.8" y2="409.2" stroke="#b4b8bc" stroke-width="3"/>
<line x1="1157.1" y1="391.7" x2="1019.9" y2="441.6" stroke="#aeb2b6" stroke-width="3"/>
<line x1="1157.1" y1="391.7" x2="1177.0" y2="431.6" stroke="#b4b8bc" stroke-width="3"/>
<line x1="1157.1" y1="391.7" x2="1239.4" y2="449.1" stroke="#aeb2b6" stroke-width="3"/>
<line x1="1157.1" y1="391.7" x2="1059.8" y2="486.5" stroke="#b4b8bc" stroke-width="3"/>
<line x1="1157.1" y1="391.7" x2="1114.7" y2="514.0" stroke="#b8bcc2" stroke-width="3"/>
<line x1="1157.1" y1="391.7" x2="1199.5" y2="494.0" stroke="#b2b6ba" stroke-width="3"/>
<line x1="1212.0" y1="394.2" x2="1296.8" y2="406.7" stroke="#aeb2b6" stroke-width="3"/>
<line x1="1212.0" y1="394.2" x2="1059.8" y2="409.2" stroke="#b2b6ba" stroke-width="3"/>
<line x1="1212.0" y1="394.2" x2="1177.0" y2="431.6" stroke="#b2b6ba" stroke-width="3"/>
<line x1="1212.0" y1="394.2" x2="1239.4" y2="449.1" stroke="#b2b6ba" stroke-width="3"/>
<line x1="1212.0" y1="394.2" x2="1199.5" y2="494.0" stroke="#b4b8bc" stroke-width="3"/>
<line x1="1212.0" y1="394.2" x2="1289.3" y2="486.5" stroke="#b4b8bc" stroke-width="3"/>
<line x1="1296.8" y1="406.7" x2="1346.7" y2="411.7" stroke="#b2b6ba" stroke-width="3"/>
<line x1="1296.8" y1="406.7" x2="1239.4" y2="449.1" stroke="#b8bcc2" stroke-width="3"/>
<line x1="1296.8" y1="406.7" x2="1321.8" y2="429.1" stroke="#c4c4dc" stroke-width="3"/>
<line x1="1296.8" y1="406.7" x2="1364.2" y2="466.6" stroke="#aeb2b6" stroke-width="3"/>
<line x1="1296.8" y1="406.7" x2="1199.5" y2="494.0" stroke="#b4b8bc" stroke-width="3"/>
<line x1="1296.8" y1="406.7" x2="1289.3" y2="486.5" stroke="#aeb2b6" stroke-width="3"/>
<line x1="1346.7" y1="411.7" x2="1456.5" y2="404.2" stroke="#b8bcc2" stroke-width="3"/>
<line x1="1346.7" y1="411.7" x2="1321.8" y2="429.1" stroke="#a8b4b8" stroke-width="3"/>
<line x1="1346.7" y1="411.7" x2="1411.6" y2="429.1" stroke="#b2b6ba" stroke-width="3"/>
<line x1="1346.7" y1="411.7" x2="1364.2" y2="466.6" stroke="#aeb2b6" stroke-width="3"/>
<line x1="1346.7" y1="411.7" x2="1289.3" y2="486.5" stroke="#aeb2b6" stroke-width="3"/>
<line x1="1346.7" y1="411.7" x2="1424.1" y2="514.0" stroke="#aeb2b6" stroke-width="3"/>
<line x1="1458.0" y1="366.8" x2="1508.9" y2="374.3" stroke="#b8bcc2" stroke-width="3"/>
<line x1="1458.0" y1="366.8" x2="1578.7" y2="426.6" stroke="#c4c4dc" stroke-width="3"/>
<line x1="1458.0" y1="366.8" x2="1456.5" y2="404.2" stroke="#c4c4dc" stroke-width="3"/>
<line x1="1458.0" y1="366.8" x2="1411.6" y2="429.1" stroke="#c4c4dc" stroke-width="3"/>
<line x1="1458.0" y1="366.8" x2="1464.0" y2="456.6" stroke="#b4b8bc" stroke-width="3"/>
<line x1="1458.0" y1="366.8" x2="1491.4" y2="466.6" stroke="#c4c4dc" stroke-width="3"/>
<line x1="1458.0" y1="366.8" x2="1523.9" y2="451.6" stroke="#a8b4b8" stroke-width="3"/>
<line x1="1508.9" y1="374.3" x2="1578.7" y2="426.6" stroke="#b4b8bc" stroke-width="3"/>
<line x1="1508.9" y1="374.3" x2="1456.5" y2="404.2" stroke="#a8b4b8" stroke-width="3"/>
<line x1="1508.9" y1="374.3" x2="1411.6" y2="429.1" stroke="#b4b8bc" stroke-width="3"/>
<line x1="1508.9" y1="374.3" x2="1464.0" y2="456.6" stroke="#b2b6ba" stroke-width="3"/>
<line x1="1508.9" y1="374.3" x2="1491.4" y2="466.6" stroke="#b4b8bc" stroke-width="3"/>
<line x1="1508.9" y1="374.3" x2="1523.9" y2="451.6" stroke="#b4b8bc" stroke-width="3"/>
<line x1="1578.7" y1="426.6" x2="1456.5" y2="404.2" stroke="#aeb2b6" stroke-width="3"/>
<line x1="1578.7" y1="426.6" x2="1411.6" y2="429.1" stroke="#c4c4dc" stroke-width="3"/>
<line x1="1578.7" y1="426.6" x2="1464.0" y2="456.6" stroke="#a8b4b8" stroke-width="3"/>
<line x1="1578.7" y1="426.6" x2="1491.4" y2="466.6" stroke="#a8b4b8" stroke-width="3"/>
<line x1="1578.7" y1="426.6" x2="1523.9" y2="451.6" stroke="#a8b4b8" stroke-width="3"/>
<line x1="1456.5" y1="404.2" x2="1411.6" y2="429.1" stroke="#b8bcc2" stroke-width="3"/>
<line x1="1456.5" y1="404.2" x2="1464.0" y2="456.6" stroke="#aeb2b6" stroke-width="3"/>
<line x1="1456.5" y1="404.2" x2="1491.4" y2="466.6" stroke="#c4c4dc" stroke-width="3"/>
<line x1="1456.5" y1="404.2" x2="1523.9" y2="451.6" stroke="#aeb2b6" stroke-width="3"/>
<line x1="1456.5" y1="404.2" x2="1364.2" y2="466.6" stroke="#b4b8bc" stroke-width="3"/>
<line x1="1456.5" y1="404.2" x2="1424.1" y2="514.0" stroke="#aeb2b6" stroke-width="3"/>
<line x1="1059.8" y1="409.2" x2="1019.9" y2="441.6" stroke="#b4b8bc" stroke-width="3"/>
<line x1="1059.8" y1="409.2" x2="1177.0" y2="431.6" stroke="#aeb2b6" stroke-width="3"/>
<line x1="1059.8" y1="409.2" x2="1059.8" y2="486.5" stroke="#b2b6ba" stroke-width="3"/>
<line x1="1059.8" y1="409.2" x2="1114.7" y2="514.0" stroke="#c4c4dc" stroke-width="3"/>
<line x1="1019.9" y1="441.6" x2="1177.0" y2="431.6" stroke="#b4b8bc" stroke-width="3"/>
<line x1="1019.9" y1="441.6" x2="1059.8" y2="486.5" stroke="#aeb2b6" stroke-width="3"/>
<line x1="1019.9" y1="441.6" x2="1114.7" y2="514.0" stroke="#b2b6ba" stroke-width="3"/>
<line x1="1177.0" y1="431.6" x2="1239.4" y2="449.1" stroke="#c4c4dc" stroke-width="3"/>
<line x1="1177.0" y1="431.6" x2="1059.8" y2="486.5" stroke="#b4b8bc" stroke-width="3"/>
<line x1="1177.0" y1="431.6" x2="1114.7" y2="514.0" stroke="#b4b8bc" stroke-width="3"/>
<line x1="1177.0" y1="431.6" x2="1199.5" y2="494.0" stroke="#a8b4b8" stroke-width="3"/>
<line x1="1177.0" y1="431.6" x2="1289.3" y2="486.5" stroke="#b8bcc2" stroke-width="3"/>
<line x1="1239.4" y1="449.1" x2="1321.8" y2="429.1" stroke="#b2b6ba" stroke-width="3"/>
<line x1="1239.4" y1="449.1" x2="1114.7" y2="514.0" stroke="#a8b4b8" stroke-width="3"/>
<line x1="1239.4" y1="449.1" x2="1199.5" y2="494.0" stroke="#a8b4b8" stroke-width="3"/>
<line x1="1239.4" y1="449.1" x2="1289.3" y2="486.5" stroke="#aeb2b6" stroke-width="3"/>
<line x1="1321.8" y1="429.1" x2="1411.6" y2="429.1" stroke="#c4c4dc" stroke-width="3"/>
<line x1="1321.8" y1="429.1" x2="1364.2" y2="466.6" stroke="#aeb2b6" stroke-width="3"/>
<line x1="1321.8" y1="429.1" x2="1199.5" y2="494.0" stroke="#a8b4b8" stroke-width="3"/>
<line x1="1321.8" y1="429.1" x2="1289.3" y2="486.5" stroke="#aeb2b6" stroke-width="3"/>
<line x1="1321.8" y1="429.1" x2="1424.1" y2="514.0" stroke="#b4b8bc" stroke-width="3"/>
<line x1="1411.6" y1="429.1" x2="1464.0" y2="456.6" stroke="#a8b4b8" stroke-width="3"/>
<line x1="1411.6" y1="429.1" x2="1491.4" y2="466.6" stroke="#aeb2b6" stroke-width="3"/>
<line x1="1411.6" y1="429.1" x2="1523.9" y2="451.6" stroke="#a8b4b8" stroke-width="3"/>
<line x1="1411.6" y1="429.1" x2="1364.2" y2="466.6" stroke="#c4c4dc" stroke-width="3"/>
<line x1="1411.6" y1="429.1" x2="1424.1" y2="514.0" stroke="#b2b6ba" stroke-width="3"/>
<line x1="1464.0" y1="456.6" x2="1491.4" y2="466.6" stroke="#b4b8bc" stroke-width="3"/>
<line x1="1464.0" y1="456.6" x2="1523.9" y2="451.6" stroke="#b2b6ba" stroke-width="3"/>
<line x1="1464.0" y1="456.6" x2="1364.2" y2="466.6" stroke="#a8b4b8" stroke-width="3"/>
<line x1="1464.0" y1="456.6" x2="1424.1" y2="514.0" stroke="#b2b6ba" stroke-width="3"/>
<line x1="1491.4" y1="466.6" x2="1523.9" y2="451.6" stroke="#aeb2b6" stroke-width="3"/>
<line x1="1491.4" y1="466.6" x2="1424.1" y2="514.0" stroke="#aeb2b6" stroke-width="3"/>
<line x1="1523.9" y1="451.6" x2="1424.1" y2="514.0" stroke="#a8b4b8" stroke-width="3"/>
<line x1="1364.2" y1="466.6" x2="1289.3" y2="486.5" stroke="#c4c4dc" stroke-width="3"/>
<line x1="1364.2" y1="466.6" x2="1424.1" y2="514.0" stroke="#aeb2b6" stroke-width="3"/>
<line x1="1059.8" y1="486.5" x2="1114.7" y2="514.0" stroke="#b4b8bc" stroke-width="3"/>
<line x1="1059.8" y1="486.5" x2="1199.5" y2="494.0" stroke="#b4b8bc" stroke-width="3"/>
<line x1="1114.7" y1="514.0" x2="1199.5" y2="494.0" stroke="#aeb2b6" stroke-width="3"/>
<line x1="1199.5" y1="494.0" x2="1289.3" y2="486.5" stroke="#b8bcc2" stroke-width="3"/>
<line x1="1183.5" y1="158.7" x2="1144.6" y2="264.5" stroke="#b2b6ba" stroke-width="3"/>
<line x1="1144.6" y1="264.5" x2="1064.8" y2="373.3" stroke="#b2b6ba" stroke-width="3"/>
<line x1="1144.6" y1="264.5" x2="1059.8" y2="409.2" stroke="#b2b6ba" stroke-width="3"/>
<line x1="1183.5" y1="158.7" x2="1223.5" y2="209.6" stroke="#b2b6ba" stroke-width="3"/>
<line x1="1383.1" y1="199.6" x2="1473.0" y2="288.4" stroke="#b2b6ba" stroke-width="3"/>
<line x1="1473.0" y1="288.4" x2="1508.9" y2="374.3" stroke="#b2b6ba" stroke-width="3"/>
<line x1="1335.2" y1="158.7" x2="1383.1" y2="199.6" stroke="#b2b6ba" stroke-width="3"/>
<line x1="1019.9" y1="441.6" x2="1059.8" y2="486.5" stroke="#b2b6ba" stroke-width="3"/>
<line x1="1059.8" y1="486.5" x2="1114.7" y2="514.0" stroke="#b2b6ba" stroke-width="3"/>
<line x1="1114.7" y1="514.0" x2="1199.5" y2="494.0" stroke="#b2b6ba" stroke-width="3"/>
<line x1="1199.5" y1="494.0" x2="1289.3" y2="486.5" stroke="#b2b6ba" stroke-width="3"/>
<line x1="1289.3" y1="486.5" x2="1364.2" y2="466.6" stroke="#b2b6ba" stroke-width="3"/>
<line x1="1364.2" y1="466.6" x2="1424.1" y2="514.0" stroke="#b2b6ba" stroke-width="3"/>
<line x1="1424.1" y1="514.0" x2="1523.9" y2="451.6" stroke="#b2b6ba" stroke-width="3"/>
<line x1="1523.9" y1="451.6" x2="1578.7" y2="426.6" stroke="#b2b6ba" stroke-width="3"/>
<line x1="1353.2" y1="223.1" x2="1473.0" y2="288.4" stroke="#b2b6ba" stroke-width="3"/>
<line x1="1298.3" y1="121.3" x2="1335.2" y2="158.7" stroke="#b2b6ba" stroke-width="3"/>
<line x1="1144.6" y1="264.5" x2="1213.5" y2="344.3" stroke="#b2b6ba" stroke-width="3"/>
<line x1="1222.0" y1="279.4" x2="1291.8" y2="329.3" stroke="#b2b6ba" stroke-width="3"/>
<line x1="1258.4" y1="247.0" x2="1291.8" y2="329.3" stroke="#b2b6ba" stroke-width="3"/>
<line x1="1353.2" y1="223.1" x2="1383.1" y2="329.3" stroke="#b2b6ba" stroke-width="3"/>
<line x1="1473.0" y1="288.4" x2="1383.1" y2="329.3" stroke="#b2b6ba" stroke-width="3"/>
<line x1="1473.0" y1="288.4" x2="1458.0" y2="366.8" stroke="#b2b6ba" stroke-width="3"/>
<line x1="1213.5" y1="344.3" x2="1157.1" y2="391.7" stroke="#b2b6ba" stroke-width="3"/>
<line x1="1223.5" y1="209.6" x2="1144.6" y2="264.5" stroke="#b2b6ba" stroke-width="3"/>
<line x1="1424.1" y1="514.0" x2="1411.6" y2="429.1" stroke="#b2b6ba" stroke-width="3"/>
<line x1="1424.1" y1="514.0" x2="1464.0" y2="456.6" stroke="#b2b6ba" stroke-width="3"/>
<line x1="1383.1" y1="199.6" x2="1581.0" y2="356.8" stroke="#b8b8cc" stroke-width="3.2"/>
<line x1="1473.0" y1="288.4" x2="1581.0" y2="356.8" stroke="#b8b8cc" stroke-width="3.2"/>
<line x1="1458.0" y1="366.8" x2="1581.0" y2="356.8" stroke="#b8b8cc" stroke-width="3.2"/>
<line x1="1508.9" y1="374.3" x2="1581.0" y2="356.8" stroke="#b8b8cc" stroke-width="3.2"/>
<line x1="1578.7" y1="426.6" x2="1581.0" y2="356.8" stroke="#b8b8cc" stroke-width="3.2"/>
<line x1="1456.5" y1="404.2" x2="1581.0" y2="356.8" stroke="#b8b8cc" stroke-width="3.2"/>
<line x1="1464.0" y1="456.6" x2="1581.0" y2="356.8" stroke="#b8b8cc" stroke-width="3.2"/>
<line x1="1491.4" y1="466.6" x2="1581.0" y2="356.8" stroke="#b8b8cc" stroke-width="3.2"/>
<line x1="1523.9" y1="451.6" x2="1581.0" y2="356.8" stroke="#b8b8cc" stroke-width="3.2"/>
<line x1="1140.6" y1="274.5" x2="1072.8" y2="361.3" stroke="#c460cc" stroke-width="5.5"/>
<circle cx="1183.5" cy="158.7" r="16.3" fill="#4f50b8"/>
<circle cx="1235.4" cy="134.7" r="16.3" fill="#86d58a"/>
<circle cx="1298.3" cy="121.3" r="16.3" fill="#86d58a"/>
<circle cx="1335.2" cy="158.7" r="16.3" fill="#86d58a"/>
<circle cx="1285.3" cy="187.1" r="16.3" fill="#f39a1c"/>
<circle cx="1223.5" cy="209.6" r="16.3" fill="#86d58a"/>
<circle cx="1257.4" cy="212.1" r="16.3" fill="#4f50b8"/>
<circle cx="1353.2" cy="223.1" r="16.3" fill="#4f50b8"/>
<circle cx="1383.1" cy="199.6" r="16.3" fill="#86d58a"/>
<circle cx="1258.4" cy="247.0" r="16.3" fill="#86d58a"/>
<circle cx="1144.6" cy="264.5" r="16.3" fill="#4f50b8"/>
<circle cx="1222.0" cy="279.4" r="16.3" fill="#4f50b8"/>
<circle cx="1473.0" cy="288.4" r="16.3" fill="#86d58a"/>
<circle cx="1291.8" cy="329.3" r="16.3" fill="#4f50b8"/>
<circle cx="1325.2" cy="324.4" r="16.3" fill="#86d58a"/>
<circle cx="1351.7" cy="339.3" r="16.3" fill="#4f50b8"/>
<circle cx="1383.1" cy="329.3" r="16.3" fill="#86d58a"/>
<circle cx="1213.5" cy="344.3" r="16.3" fill="#86d58a"/>
<circle cx="1064.8" cy="373.3" r="16.3" fill="#86d58a"/>
<circle cx="1120.7" cy="374.3" r="16.3" fill="#f39a1c"/>
<circle cx="1157.1" cy="391.7" r="16.3" fill="#4f50b8"/>
<circle cx="1212.0" cy="394.2" r="16.3" fill="#86d58a"/>
<circle cx="1296.8" cy="406.7" r="16.3" fill="#f39a1c"/>
<circle cx="1346.7" cy="411.7" r="16.3" fill="#4f50b8"/>
<circle cx="1458.0" cy="366.8" r="16.3" fill="#4f50b8"/>
<circle cx="1508.9" cy="374.3" r="16.3" fill="#4f50b8"/>
<circle cx="1578.7" cy="426.6" r="16.3" fill="#5c5cc4"/>
<circle cx="1456.5" cy="404.2" r="16.3" fill="#86d58a"/>
<circle cx="1059.8" cy="409.2" r="16.3" fill="#86d58a"/>
<circle cx="1019.9" cy="441.6" r="16.3" fill="#4f50b8"/>
<circle cx="1177.0" cy="431.6" r="16.3" fill="#86d58a"/>
<circle cx="1239.4" cy="449.1" r="16.3" fill="#f39a1c"/>
<circle cx="1321.8" cy="429.1" r="16.3" fill="#86d58a"/>
<circle cx="1411.6" cy="429.1" r="16.3" fill="#86d58a"/>
<circle cx="1464.0" cy="456.6" r="16.3" fill="#4f50b8"/>
<circle cx="1491.4" cy="466.6" r="16.3" fill="#f39a1c"/>
<circle cx="1523.9" cy="451.6" r="16.3" fill="#86d58a"/>
<circle cx="1364.2" cy="466.6" r="16.3" fill="#86d58a"/>
<circle cx="1059.8" cy="486.5" r="16.3" fill="#86d58a"/>
<circle cx="1114.7" cy="514.0" r="16.3" fill="#4f50b8"/>
<circle cx="1199.5" cy="494.0" r="16.3" fill="#4f50b8"/>
<circle cx="1289.3" cy="486.5" r="16.3" fill="#86d58a"/>
<circle cx="1424.1" cy="514.0" r="16.3" fill="#86d58a"/>
<circle cx="1581.0" cy="356.8" r="31" fill="#dc78c8"/>
</g>
<g>
<line x1="1183.5" y1="796.2" x2="1235.4" y2="772.2" stroke="#b8bcc2" stroke-width="3"/>
<line x1="1183.5" y1="796.2" x2="1298.3" y2="758.8" stroke="#b4b8bc" stroke-width="3"/>
<line x1="1183.5" y1="796.2" x2="1285.3" y2="824.6" stroke="#b4b8bc" stroke-width="3"/>
<line x1="1183.5" y1="796.2" x2="1223.5" y2="847.1" stroke="#b8bcc2" stroke-width="3"/>
<line x1="1183.5" y1="796.2" x2="1257.4" y2="849.6" stroke="#aeb2b6" stroke-width="3"/>
<line x1="1183.5" y1="796.2" x2="1258.4" y2="884.5" stroke="#b4b8bc" stroke-width="3"/>
<line x1="1183.5" y1="796.2" x2="1144.6" y2="902.0" stroke="#c4c4dc" stroke-width="3"/>
<line x1="1183.5" y1="796.2" x2="1222.0" y2="916.9" stroke="#a8b4b8" stroke-width="3"/>
<line x1="1235.4" y1="772.2" x2="1298.3" y2="758.8" stroke="#b4b8bc" stroke-width="3"/>
<line x1="1235.4" y1="772.2" x2="1335.2" y2="796.2" stroke="#b2b6ba" stroke-width="3"/>
<line x1="1235.4" y1="772.2" x2="1285.3" y2="824.6" stroke="#b4b8bc" stroke-width="3"/>
<line x1="1235.4" y1="772.2" x2="1223.5" y2="847.1" stroke="#b2b6ba" stroke-width="3"/>
<line x1="1235.4" y1="772.2" x2="1257.4" y2="849.6" stroke="#c4c4dc" stroke-width="3"/>
<line x1="1235.4" y1="772.2" x2="1258.4" y2="884.5" stroke="#aeb2b6" stroke-width="3"/>
<line x1="1235.4" y1="772.2" x2="1222.0" y2="916.9" stroke="#b4b8bc" stroke-width="3"/>
<line x1="1298.3" y1="758.8" x2="1335.2" y2="796.2" stroke="#b8bcc2" stroke-width="3"/>
<line x1="1298.3" y1="758.8" x2="1285.3" y2="824.6" stroke="#b8bcc2" stroke-width="3"/>
<line x1="1298.3" y1="758.8" x2="1223.5" y2="847.1" stroke="#a8b4b8" stroke-width="3"/>
<line x1="1298.3" y1="758.8" x2="1257.4" y2="849.6" stroke="#c4c4dc" stroke-width="3"/>
<line x1="1298.3" y1="758.8" x2="1353.2" y2="860.6" stroke="#b4b8bc" stroke-width="3"/>
<line x1="1298.3" y1="758.8" x2="1383.1" y2="837.1" stroke="#b4b8bc" stroke-width="3"/>
<line x1="1335.2" y1="796.2" x2="1285.3" y2="824.6" stroke="#c4c4dc" stroke-width="3"/>
<line x1="1335.2" y1="796.2" x2="1223.5" y2="847.1" stroke="#c4c4dc" stroke-width="3"/>
<line x1="1335.2" y1="796.2" x2="1257.4" y2="849.6" stroke="#a8b4b8" stroke-width="3"/>
<line x1="1335.2" y1="796.2" x2="1353.2" y2="860.6" stroke="#b8bcc2" stroke-width="3"/>
<line x1="1335.2" y1="796.2" x2="1383.1" y2="837.1" stroke="#b8bcc2" stroke-width="3"/>
<line x1="1335.2" y1="796.2" x2="1258.4" y2="884.5" stroke="#a8b4b8" stroke-width="3"/>
<line x1="1285.3" y1="824.6" x2="1223.5" y2="847.1" stroke="#b8bcc2" stroke-width="3"/>
<line x1="1285.3" y1="824.6" x2="1257.4" y2="849.6" stroke="#b4b8bc" stroke-width="3"/>
<line x1="1285.3" y1="824.6" x2="1353.2" y2="860.6" stroke="#c4c4dc" stroke-width="3"/>
<line x1="1285.3" y1="824.6" x2="1383.1" y2="837.1" stroke="#a8b4b8" stroke-width="3"/>
<line x1="1285.3" y1="824.6" x2="1258.4" y2="884.5" stroke="#b2b6ba" stroke-width="3"/>
<line x1="1285.3" y1="824.6" x2="1222.0" y2="916.9" stroke="#a8b4b8" stroke-width="3"/>
<line x1="1223.5" y1="847.1" x2="1257.4" y2="849.6" stroke="#b2b6ba" stroke-width="3"/>
<line x1="1223.5" y1="847.1" x2="1258.4" y2="884.5" stroke="#b8bcc2" stroke-width="3"/>
<line x1="1223.5" y1="847.1" x2="1144.6" y2="902.0" stroke="#b4b8bc" stroke-width="3"/>
<line x1="1223.5" y1="847.1" x2="1222.0" y2="916.9" stroke="#b2b6ba" stroke-width="3"/>
<line x1="1257.4" y1="849.6" x2="1353.2" y2="860.6" stroke="#aeb2b6" stroke-width="3"/>
<line x1="1257.4" y1="849.6" x2="1383.1" y2="837.1" stroke="#b2b6ba" stroke-width="3"/>
<line x1="1257.4" y1="849.6" x2="1258.4" y2="884.5" stroke="#aeb2b6" stroke-width="3"/>
<line x1="1257.4" y1="849.6" x2="1144.6" y2="902.0" stroke="#c4c4dc" stroke-width="3"/>
<line x1="1257.4" y1="849.6" x2="1222.0" y2="916.9" stroke="#b4b8bc" stroke-width="3"/>
<line x1="1353.2" y1="860.6" x2="1383.1" y2="837.1" stroke="#a8b4b8" stroke-width="3"/>
<line x1="1353.2" y1="860.6" x2="1258.4" y2="884.5" stroke="#c4c4dc" stroke-width="3"/>
<line x1="1353.2" y1="860.6" x2="1473.0" y2="925.9" stroke="#a8b4b8" stroke-width="3"/>
<line x1="1353.2" y1="860.6" x2="1325.2" y2="961.9" stroke="#c4c4dc" stroke-width="3"/>
<line x1="1353.2" y1="860.6" x2="1383.1" y2="966.8" stroke="#c4c4dc" stroke-width="3"/>
<line x1="1383.1" y1="837.1" x2="1258.4" y2="884.5" stroke="#a8b4b8" stroke-width="3"/>
<line x1="1383.1" y1="837.1" x2="1473.0" y2="925.9" stroke="#b4b8bc" stroke-width="3"/>
<line x1="1383.1" y1="837.1" x2="1383.1" y2="966.8" stroke="#c4c4dc" stroke-width="3"/>
<line x1="1258.4" y1="884.5" x2="1144.6" y2="902.0" stroke="#b8bcc2" stroke-width="3"/>
<line x1="1258.4" y1="884.5" x2="1222.0" y2="916.9" stroke="#aeb2b6" stroke-width="3"/>
<line x1="1258.4" y1="884.5" x2="1291.8" y2="966.8" stroke="#b2b6ba" stroke-width="3"/>
<line x1="1258.4" y1="884.5" x2="1325.2" y2="961.9" stroke="#b2b6ba" stroke-width="3"/>
<line x1="1258.4" y1="884.5" x2="1213.5" y2="981.8" stroke="#b8bcc2" stroke-width="3"/>
<line x1="1144.6" y1="902.0" x2="1222.0" y2="916.9" stroke="#c4c4dc" stroke-width="3"/>
<line x1="1144.6" y1="902.0" x2="1213.5" y2="981.8" stroke="#b8bcc2" stroke-width="3"/>
<line x1="1144.6" y1="902.0" x2="1064.8" y2="1010.8" stroke="#aeb2b6" stroke-width="3"/>
<line x1="1144.6" y1="902.0" x2="1120.7" y2="1011.8" stroke="#a8b4b8" stroke-width="3"/>
<line x1="1144.6" y1="902.0" x2="1157.1" y2="1029.2" stroke="#c4c4dc" stroke-width="3"/>
<line x1="1222.0" y1="916.9" x2="1291.8" y2="966.8" stroke="#a8b4b8" stroke-width="3"/>
<line x1="1222.0" y1="916.9" x2="1325.2" y2="961.9" stroke="#aeb2b6" stroke-width="3"/>
<line x1="1222.0" y1="916.9" x2="1213.5" y2="981.8" stroke="#c4c4dc" stroke-width="3"/>
<line x1="1473.0" y1="925.9" x2="1325.2" y2="961.9" stroke="#b4b8bc" stroke-width="3"/>
<line x1="1473.0" y1="925.9" x2="1351.7" y2="976.8" stroke="#c4c4dc" stroke-width="3"/>
<line x1="1473.0" y1="925.9" x2="1383.1" y2="966.8" stroke="#b4b8bc" stroke-width="3"/>
<line x1="1473.0" y1="925.9" x2="1458.0" y2="1004.3" stroke="#aeb2b6" stroke-width="3"/>
<line x1="1473.0" y1="925.9" x2="1508.9" y2="1011.8" stroke="#b4b8bc" stroke-width="3"/>
<line x1="1473.0" y1="925.9" x2="1578.7" y2="1064.1" stroke="#b4b8bc" stroke-width="3"/>
<line x1="1473.0" y1="925.9" x2="1456.5" y2="1041.7" stroke="#c4c4dc" stroke-width="3"/>
<line x1="1291.8" y1="966.8" x2="1325.2" y2="961.9" stroke="#b4b8bc" stroke-width="3"/>
<line x1="1291.8" y1="966.8" x2="1351.7" y2="976.8" stroke="#b8bcc2" stroke-width="3"/>
<line x1="1291.8" y1="966.8" x2="1383.1" y2="966.8" stroke="#aeb2b6" stroke-width="3"/>
<line x1="1291.8" y1="966.8" x2="1213.5" y2="981.8" stroke="#a8b4b8" stroke-width="3"/>
<line x1="1291.8" y1="966.8" x2="1212.0" y2="1031.7" stroke="#b2b6ba" stroke-width="3"/>
<line x1="1291.8" y1="966.8" x2="1296.8" y2="1044.2" stroke="#aeb2b6" stroke-width="3"/>
<line x1="1291.8" y1="966.8" x2="1346.7" y2="1049.2" stroke="#b4b8bc" stroke-width="3"/>
<line x1="1291.8" y1="966.8" x2="1321.8" y2="1066.6" stroke="#a8b4b8" stroke-width="3"/>
<line x1="1325.2" y1="961.9" x2="1351.7" y2="976.8" stroke="#a8b4b8" stroke-width="3"/>
<line x1="1325.2" y1="961.9" x2="1383.1" y2="966.8" stroke="#b8bcc2" stroke-width="3"/>
<line x1="1325.2" y1="961.9" x2="1296.8" y2="1044.2" stroke="#a8b4b8" stroke-width="3"/>
<line x1="1325.2" y1="961.9" x2="1346.7" y2="1049.2" stroke="#aeb2b6" stroke-width="3"/>
<line x1="1325.2" y1="961.9" x2="1321.8" y2="1066.6" stroke="#b4b8bc" stroke-width="3"/>
<line x1="1351.7" y1="976.8" x2="1383.1" y2="966.8" stroke="#b4b8bc" stroke-width="3"/>
<line x1="1351.7" y1="976.8" x2="1296.8" y2="1044.2" stroke="#b4b8bc" stroke-width="3"/>
<line x1="1351.7" y1="976.8" x2="1346.7" y2="1049.2" stroke="#b2b6ba" stroke-width="3"/>
<line x1="1351.7" y1="976.8" x2="1458.0" y2="1004.3" stroke="#a8b4b8" stroke-width="3"/>
<line x1="1351.7" y1="976.8" x2="1321.8" y2="1066.6" stroke="#a8b4b8" stroke-width="3"/>
<line x1="1351.7" y1="976.8" x2="1411.6" y2="1066.6" stroke="#b8bcc2" stroke-width="3"/>
<line x1="1383.1" y1="966.8" x2="1346.7" y2="1049.2" stroke="#a8b4b8" stroke-width="3"/>
<line x1="1383.1" y1="966.8" x2="1458.0" y2="1004.3" stroke="#b4b8bc" stroke-width="3"/>
<line x1="1383.1" y1="966.8" x2="1456.5" y2="1041.7" stroke="#aeb2b6" stroke-width="3"/>
<line x1="1383.1" y1="966.8" x2="1411.6" y2="1066.6" stroke="#aeb2b6" stroke-width="3"/>
<line x1="1213.5" y1="981.8" x2="1120.7" y2="1011.8" stroke="#b2b6ba" stroke-width="3"/>
<line x1="1213.5" y1="981.8" x2="1157.1" y2="1029.2" stroke="#b2b6ba" stroke-width="3"/>
<line x1="1213.5" y1="981.8" x2="1212.0" y2="1031.7" stroke="#c4c4dc" stroke-width="3"/>
<line x1="1213.5" y1="981.8" x2="1296.8" y2="1044.2" stroke="#a8b4b8" stroke-width="3"/>
<line x1="1213.5" y1="981.8" x2="1177.0" y2="1069.1" stroke="#c4c4dc" stroke-width="3"/>
<line x1="1213.5" y1="981.8" x2="1239.4" y2="1086.6" stroke="#b2b6ba" stroke-width="3"/>
<line x1="1064.8" y1="1010.8" x2="1120.7" y2="1011.8" stroke="#aeb2b6" stroke-width="3"/>
<line x1="1064.8" y1="1010.8" x2="1157.1" y2="1029.2" stroke="#b2b6ba" stroke-width="3"/>
<line x1="1064.8" y1="1010.8" x2="1212.0" y2="1031.7" stroke="#c4c4dc" stroke-width="3"/>
<line x1="1064.8" y1="1010.8" x2="1059.8" y2="1046.7" stroke="#b8bcc2" stroke-width="3"/>
<line x1="1064.8" y1="1010.8" x2="1019.9" y2="1079.1" stroke="#b2b6ba" stroke-width="3"/>
<line x1="1064.8" y1="1010.8" x2="1177.0" y2="1069.1" stroke="#aeb2b6" stroke-width="3"/>
<line x1="1064.8" y1="1010.8" x2="1059.8" y2="1124.0" stroke="#c4c4dc" stroke-width="3"/>
<line x1="1120.7" y1="1011.8" x2="1157.1" y2="1029.2" stroke="#c4c4dc" stroke-width="3"/>
<line x1="1120.7" y1="1011.8" x2="1212.0" y2="1031.7" stroke="#b2b6ba" stroke-width="3"/>
<line x1="1120.7" y1="1011.8" x2="1059.8" y2="1046.7" stroke="#b2b6ba" stroke-width="3"/>
<line x1="1120.7" y1="1011.8" x2="1019.9" y2="1079.1" stroke="#b4b8bc" stroke-width="3"/>
<line x1="1120.7" y1="1011.8" x2="1177.0" y2="1069.1" stroke="#b4b8bc" stroke-width="3"/>
<line x1="1120.7" y1="1011.8" x2="1059.8" y2="1124.0" stroke="#b2b6ba" stroke-width="3"/>
<line x1="1120.7" y1="1011.8" x2="1114.7" y2="1151.5" stroke="#c4c4dc" stroke-width="3"/>
<line x1="1157.1" y1="1029.2" x2="1212.0" y2="1031.7" stroke="#a8b4b8" stroke-width="3"/>
<line x1="1157.1" y1="1029.2" x2="1059.8" y2="1046.7" stroke="#b4b8bc" stroke-width="3"/>
<line x1="1157.1" y1="1029.2" x2="1019.9" y2="1079.1" stroke="#aeb2b6" stroke-width="3"/>
<line x1="1157.1" y1="1029.2" x2="1177.0" y2="1069.1" stroke="#b4b8bc" stroke-width="3"/>
<line x1="1157.1" y1="1029.2" x2="1239.4" y2="1086.6" stroke="#aeb2b6" stroke-width="3"/>
<line x1="1157.1" y1="1029.2" x2="1059.8" y2="1124.0" stroke="#b4b8bc" stroke-width="3"/>
<line x1="1157.1" y1="1029.2" x2="1114.7" y2="1151.5" stroke="#b8bcc2" stroke-width="3"/>
<line x1="1157.1" y1="1029.2" x2="1199.5" y2="1131.5" stroke="#b2b6ba" stroke-width="3"/>
<line x1="1212.0" y1="1031.7" x2="1296.8" y2="1044.2" stroke="#aeb2b6" stroke-width="3"/>
<line x1="1212.0" y1="1031.7" x2="1059.8" y2="1046.7" stroke="#b2b6ba" stroke-width="3"/>
<line x1="1212.0" y1="1031.7" x2="1177.0" y2="1069.1" stroke="#b2b6ba" stroke-width="3"/>
<line x1="1212.0" y1="1031.7" x2="1239.4" y2="1086.6" stroke="#b2b6ba" stroke-width="3"/>
<line x1="1212.0" y1="1031.7" x2="1199.5" y2="1131.5" stroke="#b4b8bc" stroke-width="3"/>
<line x1="1212.0" y1="1031.7" x2="1289.3" y2="1124.0" stroke="#b4b8bc" stroke-width="3"/>
<line x1="1296.8" y1="1044.2" x2="1346.7" y2="1049.2" stroke="#b2b6ba" stroke-width="3"/>
<line x1="1296.8" y1="1044.2" x2="1239.4" y2="1086.6" stroke="#b8bcc2" stroke-width="3"/>
<line x1="1296.8" y1="1044.2" x2="1321.8" y2="1066.6" stroke="#c4c4dc" stroke-width="3"/>
<line x1="1296.8" y1="1044.2" x2="1364.2" y2="1104.1" stroke="#aeb2b6" stroke-width="3"/>
<line x1="1296.8" y1="1044.2" x2="1199.5" y2="1131.5" stroke="#b4b8bc" stroke-width="3"/>
<line x1="1296.8" y1="1044.2" x2="1289.3" y2="1124.0" stroke="#aeb2b6" stroke-width="3"/>
<line x1="1346.7" y1="1049.2" x2="1456.5" y2="1041.7" stroke="#b8bcc2" stroke-width="3"/>
<line x1="1346.7" y1="1049.2" x2="1321.8" y2="1066.6" stroke="#a8b4b8" stroke-width="3"/>
<line x1="1346.7" y1="1049.2" x2="1411.6" y2="1066.6" stroke="#b2b6ba" stroke-width="3"/>
<line x1="1346.7" y1="1049.2" x2="1364.2" y2="1104.1" stroke="#aeb2b6" stroke-width="3"/>
<line x1="1346.7" y1="1049.2" x2="1289.3" y2="1124.0" stroke="#aeb2b6" stroke-width="3"/>
<line x1="1346.7" y1="1049.2" x2="1424.1" y2="1151.5" stroke="#aeb2b6" stroke-width="3"/>
<line x1="1458.0" y1="1004.3" x2="1508.9" y2="1011.8" stroke="#b8bcc2" stroke-width="3"/>
<line x1="1458.0" y1="1004.3" x2="1578.7" y2="1064.1" stroke="#c4c4dc" stroke-width="3"/>
<line x1="1458.0" y1="1004.3" x2="1456.5" y2="1041.7" stroke="#c4c4dc" stroke-width="3"/>
<line x1="1458.0" y1="1004.3" x2="1411.6" y2="1066.6" stroke="#c4c4dc" stroke-width="3"/>
<line x1="1458.0" y1="1004.3" x2="1464.0" y2="1094.1" stroke="#b4b8bc" stroke-width="3"/>
<line x1="1458.0" y1="1004.3" x2="1491.4" y2="1104.1" stroke="#c4c4dc" stroke-width="3"/>
<line x1="1458.0" y1="1004.3" x2="1523.9" y2="1089.1" stroke="#a8b4b8" stroke-width="3"/>
<line x1="1508.9" y1="1011.8" x2="1578.7" y2="1064.1" stroke="#b4b8bc" stroke-width="3"/>
<line x1="1508.9" y1="1011.8" x2="1456.5" y2="1041.7" stroke="#a8b4b8" stroke-width="3"/>
<line x1="1508.9" y1="1011.8" x2="1411.6" y2="1066.6" stroke="#b4b8bc" stroke-width="3"/>
<line x1="1508.9" y1="1011.8" x2="1464.0" y2="1094.1" stroke="#b2b6ba" stroke-width="3"/>
<line x1="1508.9" y1="1011.8" x2="1491.4" y2="1104.1" stroke="#b4b8bc" stroke-width="3"/>
<line x1="1508.9" y1="1011.8" x2="1523.9" y2="1089.1" stroke="#b4b8bc" stroke-width="3"/>
<line x1="1578.7" y1="1064.1" x2="1456.5" y2="1041.7" stroke="#aeb2b6" stroke-width="3"/>
<line x1="1578.7" y1="1064.1" x2="1411.6" y2="1066.6" stroke="#c4c4dc" stroke-width="3"/>
<line x1="1578.7" y1="1064.1" x2="1464.0" y2="1094.1" stroke="#a8b4b8" stroke-width="3"/>
<line x1="1578.7" y1="1064.1" x2="1491.4" y2="1104.1" stroke="#a8b4b8" stroke-width="3"/>
<line x1="1578.7" y1="1064.1" x2="1523.9" y2="1089.1" stroke="#a8b4b8" stroke-width="3"/>
<line x1="1456.5" y1="1041.7" x2="1411.6" y2="1066.6" stroke="#b8bcc2" stroke-width="3"/>
<line x1="1456.5" y1="1041.7" x2="1464.0" y2="1094.1" stroke="#aeb2b6" stroke-width="3"/>
<line x1="1456.5" y1="1041.7" x2="1491.4" y2="1104.1" stroke="#c4c4dc" stroke-width="3"/>
<line x1="1456.5" y1="1041.7" x2="1523.9" y2="1089.1" stroke="#aeb2b6" stroke-width="3"/>
<line x1="1456.5" y1="1041.7" x2="1364.2" y2="1104.1" stroke="#b4b8bc" stroke-width="3"/>
<line x1="1456.5" y1="1041.7" x2="1424.1" y2="1151.5" stroke="#aeb2b6" stroke-width="3"/>
<line x1="1059.8" y1="1046.7" x2="1019.9" y2="1079.1" stroke="#b4b8bc" stroke-width="3"/>
<line x1="1059.8" y1="1046.7" x2="1177.0" y2="1069.1" stroke="#aeb2b6" stroke-width="3"/>
<line x1="1059.8" y1="1046.7" x2="1059.8" y2="1124.0" stroke="#b2b6ba" stroke-width="3"/>
<line x1="1059.8" y1="1046.7" x2="1114.7" y2="1151.5" stroke="#c4c4dc" stroke-width="3"/>
<line x1="1019.9" y1="1079.1" x2="1177.0" y2="1069.1" stroke="#b4b8bc" stroke-width="3"/>
<line x1="1019.9" y1="1079.1" x2="1059.8" y2="1124.0" stroke="#aeb2b6" stroke-width="3"/>
<line x1="1019.9" y1="1079.1" x2="1114.7" y2="1151.5" stroke="#b2b6ba" stroke-width="3"/>
<line x1="1177.0" y1="1069.1" x2="1239.4" y2="1086.6" stroke="#c4c4dc" stroke-width="3"/>
<line x1="1177.0" y1="1069.1" x2="1059.8" y2="1124.0" stroke="#b4b8bc" stroke-width="3"/>
<line x1="1177.0" y1="1069.1" x2="1114.7" y2="1151.5" stroke="#b4b8bc" stroke-width="3"/>
<line x1="1177.0" y1="1069.1" x2="1199.5" y2="1131.5" stroke="#a8b4b8" stroke-width="3"/>
<line x1="1177.0" y1="1069.1" x2="1289.3" y2="1124.0" stroke="#b8bcc2" stroke-width="3"/>
<line x1="1239.4" y1="1086.6" x2="1321.8" y2="1066.6" stroke="#b2b6ba" stroke-width="3"/>
<line x1="1239.4" y1="1086.6" x2="1114.7" y2="1151.5" stroke="#a8b4b8" stroke-width="3"/>
<line x1="1239.4" y1="1086.6" x2="1199.5" y2="1131.5" stroke="#a8b4b8" stroke-width="3"/>
<line x1="1239.4" y1="1086.6" x2="1289.3" y2="1124.0" stroke="#aeb2b6" stroke-width="3"/>
<line x1="1321.8" y1="1066.6" x2="1411.6" y2="1066.6" stroke="#c4c4dc" stroke-width="3"/>
<line x1="1321.8" y1="1066.6" x2="1364.2" y2="1104.1" stroke="#aeb2b6" stroke-width="3"/>
<line x1="1321.8" y1="1066.6" x2="1199.5" y2="1131.5" stroke="#a8b4b8" stroke-width="3"/>
<line x1="1321.8" y1="1066.6" x2="1289.3" y2="1124.0" stroke="#aeb2b6" stroke-width="3"/>
<line x1="1321.8" y1="1066.6" x2="1424.1" y2="1151.5" stroke="#b4b8bc" stroke-width="3"/>
<line x1="1411.6" y1="1066.6" x2="1464.0" y2="1094.1" stroke="#a8b4b8" stroke-width="3"/>
<line x1="1411.6" y1="1066.6" x2="1491.4" y2="1104.1" stroke="#aeb2b6" stroke-width="3"/>
<line x1="1411.6" y1="1066.6" x2="1523.9" y2="1089.1" stroke="#a8b4b8" stroke-width="3"/>
<line x1="1411.6" y1="1066.6" x2="1364.2" y2="1104.1" stroke="#c4c4dc" stroke-width="3"/>
<line x1="1411.6" y1="1066.6" x2="1424.1" y2="1151.5" stroke="#b2b6ba" stroke-width="3"/>
<line x1="1464.0" y1="1094.1" x2="1491.4" y2="1104.1" stroke="#b4b8bc" stroke-width="3"/>
<line x1="1464.0" y1="1094.1" x2="1523.9" y2="1089.1" stroke="#b2b6ba" stroke-width="3"/>
<line x1="1464.0" y1="1094.1" x2="1364.2" y2="1104.1" stroke="#a8b4b8" stroke-width="3"/>
<line x1="1464.0" y1="1094.1" x2="1424.1" y2="1151.5" stroke="#b2b6ba" stroke-width="3"/>
<line x1="1491.4" y1="1104.1" x2="1523.9" y2="1089.1" stroke="#aeb2b6" stroke-width="3"/>
<line x1="1491.4" y1="1104.1" x2="1424.1" y2="1151.5" stroke="#aeb2b6" stroke-width="3"/>
<line x1="1523.9" y1="1089.1" x2="1424.1" y2="1151.5" stroke="#a8b4b8" stroke-width="3"/>
<line x1="1364.2" y1="1104.1" x2="1289.3" y2="1124.0" stroke="#c4c4dc" stroke-width="3"/>
<line x1="1364.2" y1="1104.1" x2="1424.1" y2="1151.5" stroke="#aeb2b6" stroke-width="3"/>
<line x1="1059.8" y1="1124.0" x2="1114.7" y2="1151.5" stroke="#b4b8bc" stroke-width="3"/>
<line x1="1059.8" y1="1124.0" x2="1199.5" y2="1131.5" stroke="#b4b8bc" stroke-width="3"/>
<line x1="1114.7" y1="1151.5" x2="1199.5" y2="1131.5" stroke="#aeb2b6" stroke-width="3"/>
<line x1="1199.5" y1="1131.5" x2="1289.3" y2="1124.0" stroke="#b8bcc2" stroke-width="3"/>
<line x1="1183.5" y1="796.2" x2="1144.6" y2="902.0" stroke="#b2b6ba" stroke-width="3"/>
<line x1="1144.6" y1="902.0" x2="1064.8" y2="1010.8" stroke="#b2b6ba" stroke-width="3"/>
<line x1="1144.6" y1="902.0" x2="1059.8" y2="1046.7" stroke="#b2b6ba" stroke-width="3"/>
<line x1="1183.5" y1="796.2" x2="1223.5" y2="847.1" stroke="#b2b6ba" stroke-width="3"/>
<line x1="1383.1" y1="837.1" x2="1473.0" y2="925.9" stroke="#b2b6ba" stroke-width="3"/>
<line x1="1473.0" y1="925.9" x2="1508.9" y2="1011.8" stroke="#b2b6ba" stroke-width="3"/>
<line x1="1335.2" y1="796.2" x2="1383.1" y2="837.1" stroke="#b2b6ba" stroke-width="3"/>
<line x1="1019.9" y1="1079.1" x2="1059.8" y2="1124.0" stroke="#b2b6ba" stroke-width="3"/>
<line x1="1059.8" y1="1124.0" x2="1114.7" y2="1151.5" stroke="#b2b6ba" stroke-width="3"/>
<line x1="1114.7" y1="1151.5" x2="1199.5" y2="1131.5" stroke="#b2b6ba" stroke-width="3"/>
<line x1="1199.5" y1="1131.5" x2="1289.3" y2="1124.0" stroke="#b2b6ba" stroke-width="3"/>
<line x1="1289.3" y1="1124.0" x2="1364.2" y2="1104.1" stroke="#b2b6ba" stroke-width="3"/>
<line x1="1364.2" y1="1104.1" x2="1424.1" y2="1151.5" stroke="#b2b6ba" stroke-width="3"/>
<line x1="1424.1" y1="1151.5" x2="1523.9" y2="1089.1" stroke="#b2b6ba" stroke-width="3"/>
<line x1="1523.9" y1="1089.1" x2="1578.7" y2="1064.1" stroke="#b2b6ba" stroke-width="3"/>
<line x1="1353.2" y1="860.6" x2="1473.0" y2="925.9" stroke="#b2b6ba" stroke-width="3"/>
<line x1="1298.3" y1="758.8" x2="1335.2" y2="796.2" stroke="#b2b6ba" stroke-width="3"/>
<line x1="1144.6" y1="902.0" x2="1213.5" y2="981.8" stroke="#b2b6ba" stroke-width="3"/>
<line x1="1222.0" y1="916.9" x2="1291.8" y2="966.8" stroke="#b2b6ba" stroke-width="3"/>
<line x1="1258.4" y1="884.5" x2="1291.8" y2="966.8" stroke="#b2b6ba" stroke-width="3"/>
<line x1="1353.2" y1="860.6" x2="1383.1" y2="966.8" stroke="#b2b6ba" stroke-width="3"/>
<line x1="1473.0" y1="925.9" x2="1383.1" y2="966.8" stroke="#b2b6ba" stroke-width="3"/>
<line x1="1473.0" y1="925.9" x2="1458.0" y2="1004.3" stroke="#b2b6ba" stroke-width="3"/>
<line x1="1213.5" y1="981.8" x2="1157.1" y2="1029.2" stroke="#b2b6ba" stroke-width="3"/>
<line x1="1223.5" y1="847.1" x2="1144.6" y2="902.0" stroke="#b2b6ba" stroke-width="3"/>
<line x1="1424.1" y1="1151.5" x2="1411.6" y2="1066.6" stroke="#b2b6ba" stroke-width="3"/>
<line x1="1424.1" y1="1151.5" x2="1464.0" y2="1094.1" stroke="#b2b6ba" stroke-width="3"/>
<line x1="1383.1" y1="837.1" x2="1581.0" y2="989.2" stroke="#b8b8cc" stroke-width="3.2"/>
<line x1="1473.0" y1="925.9" x2="1581.0" y2="989.2" stroke="#b8b8cc" stroke-width="3.2"/>
<line x1="1458.0" y1="1004.3" x2="1581.0" y2="989.2" stroke="#b8b8cc" stroke-width="3.2"/>
<line x1="1508.9" y1="1011.8" x2="1581.0" y2="989.2" stroke="#b8b8cc" stroke-width="3.2"/>
<line x1="1578.7" y1="1064.1" x2="1581.0" y2="989.2" stroke="#b8b8cc" stroke-width="3.2"/>
<line x1="1456.5" y1="1041.7" x2="1581.0" y2="989.2" stroke="#b8b8cc" stroke-width="3.2"/>
<line x1="1464.0" y1="1094.1" x2="1581.0" y2="989.2" stroke="#b8b8cc" stroke-width="3.2"/>
<line x1="1491.4" y1="1104.1" x2="1581.0" y2="989.2" stroke="#b8b8cc" stroke-width="3.2"/>
<line x1="1523.9" y1="1089.1" x2="1581.0" y2="989.2" stroke="#b8b8cc" stroke-width="3.2"/>
<line x1="1140.6" y1="912.0" x2="1072.8" y2="998.8" stroke="#c460cc" stroke-width="5.5"/>
<circle cx="1183.5" cy="796.2" r="16.3" fill="#4f50b8"/>
<circle cx="1235.4" cy="772.2" r="16.3" fill="#86d58a"/>
<circle cx="1298.3" cy="758.8" r="16.3" fill="#86d58a"/>
<circle cx="1335.2" cy="796.2" r="16.3" fill="#86d58a"/>
<circle cx="1285.3" cy="824.6" r="16.3" fill="#f39a1c"/>
<circle cx="1223.5" cy="847.1" r="16.3" fill="#86d58a"/>
<circle cx="1257.4" cy="849.6" r="16.3" fill="#4f50b8"/>
<circle cx="1353.2" cy="860.6" r="16.3" fill="#4f50b8"/>
<circle cx="1383.1" cy="837.1" r="16.3" fill="#86d58a"/>
<circle cx="1258.4" cy="884.5" r="16.3" fill="#86d58a"/>
<circle cx="1144.6" cy="902.0" r="16.3" fill="#4f50b8"/>
<circle cx="1222.0" cy="916.9" r="16.3" fill="#4f50b8"/>
<circle cx="1473.0" cy="925.9" r="16.3" fill="#86d58a"/>
<circle cx="1291.8" cy="966.8" r="16.3" fill="#4f50b8"/>
<circle cx="1325.2" cy="961.9" r="16.3" fill="#86d58a"/>
<circle cx="1351.7" cy="976.8" r="16.3" fill="#4f50b8"/>
<circle cx="1383.1" cy="966.8" r="16.3" fill="#86d58a"/>
<circle cx="1213.5" cy="981.8" r="16.3" fill="#86d58a"/>
<circle cx="1064.8" cy="1010.8" r="16.3" fill="#86d58a"/>
<circle cx="1120.7" cy="1011.8" r="16.3" fill="#f39a1c"/>
<circle cx="1157.1" cy="1029.2" r="16.3" fill="#4f50b8"/>
<circle cx="1212.0" cy="1031.7" r="16.3" fill="#86d58a"/>
<circle cx="1296.8" cy="1044.2" r="16.3" fill="#f39a1c"/>
<circle cx="1346.7" cy="1049.2" r="16.3" fill="#4f50b8"/>
<circle cx="1458.0" cy="1004.3" r="16.3" fill="#4f50b8"/>
<circle cx="1508.9" cy="1011.8" r="16.3" fill="#4f50b8"/>
<circle cx="1578.7" cy="1064.1" r="16.3" fill="#5c5cc4"/>
<circle cx="1456.5" cy="1041.7" r="16.3" fill="#86d58a"/>
<circle cx="1059.8" cy="1046.7" r="16.3" fill="#86d58a"/>
<circle cx="1019.9" cy="1079.1" r="16.3" fill="#4f50b8"/>
<circle cx="1177.0" cy="1069.1" r="16.3" fill="#86d58a"/>
<circle cx="1239.4" cy="1086.6" r="16.3" fill="#f39a1c"/>
<circle cx="1321.8" cy="1066.6" r="16.3" fill="#86d58a"/>
<circle cx="1411.6" cy="1066.6" r="16.3" fill="#86d58a"/>
<circle cx="1464.0" cy="1094.1" r="16.3" fill="#4f50b8"/>
<circle cx="1491.4" cy="1104.1" r="16.3" fill="#f39a1c"/>
<circle cx="1523.9" cy="1089.1" r="16.3" fill="#86d58a"/>
<circle cx="1364.2" cy="1104.1" r="16.3" fill="#86d58a"/>
<circle cx="1059.8" cy="1124.0" r="16.3" fill="#86d58a"/>
<circle cx="1114.7" cy="1151.5" r="16.3" fill="#4f50b8"/>
<circle cx="1199.5" cy="1131.5" r="16.3" fill="#4f50b8"/>
<circle cx="1289.3" cy="1124.0" r="16.3" fill="#86d58a"/>
<circle cx="1424.1" cy="1151.5" r="16.3" fill="#86d58a"/>
<circle cx="1581.0" cy="989.2" r="31" fill="#dc78c8"/>
</g>
<text x="1286.0" y="1214.0" font-size="64" font-weight="bold" textLength="168.0" lengthAdjust="spacingAndGlyphs">Graph</text>
<text x="1309.5" y="626.0" font-size="66" font-weight="bold" textLength="215.5" lengthAdjust="spacingAndGlyphs">Feature</text>
<text x="1324.4" y="681.4" font-size="66" font-weight="bold" textLength="190.0" lengthAdjust="spacingAndGlyphs">update</text>
<text x="1068.0" y="651.7" font-size="66" font-weight="bold" text-anchor="middle" textLength="145.0" lengthAdjust="spacingAndGlyphs" transform="rotate(-90 1068.0 651.7)">Edge</text>
<text x="1644.0" y="650.0" font-size="66" font-weight="bold" text-anchor="middle" textLength="148.5" lengthAdjust="spacingAndGlyphs" transform="rotate(-90 1644.0 650.0)">Node</text>
<line x1="1100.7" y1="342.0" x2="1100.7" y2="910.0" stroke="#b8222c" stroke-width="8.6"/>
<path d="M1086.5 906H1114.5L1100.7 932Z" fill="#c8202a"/>
<line x1="1581.0" y1="392.0" x2="1581.0" y2="931.0" stroke="#b8222c" stroke-width="8.6"/>
<path d="M1567.5 927H1594L1580.8 952.5Z" fill="#c8202a"/>
<text x="1010.0" y="289.8" font-size="55" font-weight="bold" font-style="italic">h</text>
<text x="1048.5" y="267.7" font-size="40" font-weight="bold" font-style="italic">l</text>
<text x="1046.0" y="304.0" font-size="41" font-weight="bold" font-style="italic" textLength="66" lengthAdjust="spacingAndGlyphs"><tspan font-weight="normal" font-style="normal">(</tspan>i,j<tspan font-weight="normal" font-style="normal">)</tspan></text>
<text x="1618.0" y="431.7" font-size="55" font-weight="bold" font-style="italic">h</text>
<text x="1654.0" y="409.3" font-size="40" font-weight="bold" font-style="italic">l</text>
<text x="1654.0" y="446.6" font-size="40" font-weight="bold" font-style="italic">i</text>
<text x="981.5" y="893.5" font-size="55" font-weight="bold" font-style="italic">h</text>
<text x="1017.3" y="872.0" font-size="40" font-weight="bold" textLength="61.7" lengthAdjust="spacingAndGlyphs"><tspan font-style="italic">l</tspan>+1</text>
<text x="1016.6" y="909.0" font-size="41" font-weight="bold" font-style="italic" textLength="66.4" lengthAdjust="spacingAndGlyphs"><tspan font-weight="normal" font-style="normal">(</tspan>i,j<tspan font-weight="normal" font-style="normal">)</tspan></text>
<text x="1598.8" y="910.7" font-size="55" font-weight="bold" font-style="italic">h</text>
<text x="1635.6" y="890.5" font-size="40" font-weight="bold" textLength="62.4" lengthAdjust="spacingAndGlyphs"><tspan font-style="italic">l</tspan>+1</text>
<text x="1635.0" y="926.0" font-size="40" font-weight="bold" font-style="italic">i</text>
<rect x="47.5" y="864.7" width="309.5" height="242.1" fill="#e0f1d4"/>
<text x="203.5" y="952.4" font-size="60" font-weight="bold" text-anchor="middle" textLength="218.0" lengthAdjust="spacingAndGlyphs">Physical</text>
<text x="203.5" y="1021.8" font-size="60" font-weight="bold" text-anchor="middle" textLength="263.0" lengthAdjust="spacingAndGlyphs">properties</text>
<line x1="573.7" y1="919.0" x2="631.0" y2="863.5" stroke="#2f5f86" stroke-width="2.8"/>
<line x1="573.7" y1="919.0" x2="631.0" y2="967.7" stroke="#2f5f86" stroke-width="2.8"/>
<line x1="573.7" y1="919.0" x2="631.0" y2="1077.5" stroke="#2f5f86" stroke-width="2.8"/>
<line x1="573.7" y1="1021.7" x2="631.0" y2="863.5" stroke="#2f5f86" stroke-width="2.8"/>
<line x1="573.7" y1="1021.7" x2="631.0" y2="967.7" stroke="#2f5f86" stroke-width="2.8"/>
<line x1="573.7" y1="1021.7" x2="631.0" y2="1077.5" stroke="#2f5f86" stroke-width="2.8"/>
<line x1="751.2" y1="919.0" x2="695.0" y2="863.5" stroke="#2f5f86" stroke-width="2.8"/>
<line x1="751.2" y1="919.0" x2="695.0" y2="967.7" stroke="#2f5f86" stroke-width="2.8"/>
<line x1="751.2" y1="919.0" x2="695.0" y2="1077.5" stroke="#2f5f86" stroke-width="2.8"/>
<line x1="751.2" y1="1020.5" x2="695.0" y2="863.5" stroke="#2f5f86" stroke-width="2.8"/>
<line x1="751.2" y1="1020.5" x2="695.0" y2="967.7" stroke="#2f5f86" stroke-width="2.8"/>
<line x1="751.2" y1="1020.5" x2="695.0" y2="1077.5" stroke="#2f5f86" stroke-width="2.8"/>
<circle cx="541.7" cy="919" r="32.3" fill="#9bbde6" stroke="#8fb2de" stroke-width="1.5"/>
<circle cx="541.7" cy="1021.7" r="32.3" fill="#9bbde6" stroke="#8fb2de" stroke-width="1.5"/>
<circle cx="663" cy="863.5" r="32.3" fill="#9bbde6" stroke="#8fb2de" stroke-width="1.5"/>
<circle cx="663" cy="967.7" r="32.3" fill="#9bbde6" stroke="#8fb2de" stroke-width="1.5"/>
<circle cx="663" cy="1077.5" r="32.3" fill="#9bbde6" stroke="#8fb2de" stroke-width="1.5"/>
<circle cx="783.2" cy="919" r="32.3" fill="#9bbde6" stroke="#8fb2de" stroke-width="1.5"/>
<circle cx="783.2" cy="1020.5" r="32.3" fill="#9bbde6" stroke="#8fb2de" stroke-width="1.5"/>
<text x="663.6" y="1199.0" font-size="60" font-weight="bold" text-anchor="middle" textLength="234.0" lengthAdjust="spacingAndGlyphs">Read-out</text>
<rect x="1809" y="90" width="689" height="634" rx="86" fill="url(#gAna)" stroke="#3d7d34" stroke-width="3.5"/>
<text x="2193.5" y="143.2" font-size="52" font-weight="bold" text-anchor="middle" textLength="234.0" lengthAdjust="spacingAndGlyphs">Analogue</text>
<line x1="2096.0" y1="260.0" x2="2096.0" y2="311.0" stroke="#b8202a" stroke-width="7.8"/>
<line x1="2229.0" y1="260.0" x2="2229.0" y2="311.0" stroke="#b8202a" stroke-width="7.8"/>
<line x1="2364.0" y1="260.0" x2="2364.0" y2="311.0" stroke="#b8202a" stroke-width="7.8"/>
<path d="M1955 277.3H2046V311" fill="none" stroke="#b8202a" stroke-width="7.6"/>
<line x1="1955.0" y1="362.0" x2="1995.0" y2="362.0" stroke="#b8202a" stroke-width="7"/>
<line x1="1875.0" y1="412.0" x2="1875.0" y2="453.0" stroke="#b8202a" stroke-width="7"/>
<line x1="1923.0" y1="412.0" x2="1923.0" y2="453.0" stroke="#b8202a" stroke-width="7"/>
<rect x="1995.0" y="164.5" width="480.5" height="97.5" fill="#dbe9f3" stroke="#6f8f86" stroke-width="3"/>
<text x="2236.5" y="234.6" font-size="52" font-weight="bold" text-anchor="middle" textLength="222.0" lengthAdjust="spacingAndGlyphs">Periphery</text>
<rect x="1833.0" y="203.0" width="123.0" height="211.0" fill="#dbe9f3" stroke="#8fa3ad" stroke-width="2.5"/>
<text x="1910.0" y="306.0" font-size="52" font-weight="bold" text-anchor="middle" textLength="148.0" lengthAdjust="spacingAndGlyphs" transform="rotate(-90 1910.0 306.0)">Buffer</text>
<rect x="1833.0" y="451.0" width="123.0" height="215.0" fill="#dbe9f3" stroke="#8fa3ad" stroke-width="2.5"/>
<text x="1910.0" y="555.0" font-size="52" font-weight="bold" text-anchor="middle" textLength="199.0" lengthAdjust="spacingAndGlyphs" transform="rotate(-90 1910.0 555.0)">Interface</text>
<rect x="1993" y="309" width="481" height="362" fill="url(#gArr)" stroke="#34423a" stroke-width="3"/>
<line x1="2023.0" y1="377.4" x2="2057.0" y2="377.4" stroke="#121a16" stroke-width="5.2"/>
<line x1="2406.0" y1="377.4" x2="2439.0" y2="377.4" stroke="#121a16" stroke-width="5.2"/>
<line x1="2210.0" y1="377.4" x2="2248.0" y2="377.4" stroke="#121a16" stroke-width="5.2"/>
<line x1="2101.6" y1="377.4" x2="2110.6" y2="377.4" stroke="#121a16" stroke-width="5.2"/>
<line x1="2156.4" y1="377.4" x2="2165.4" y2="377.4" stroke="#121a16" stroke-width="5.2"/>
<line x1="2292.6" y1="377.4" x2="2301.6" y2="377.4" stroke="#121a16" stroke-width="5.2"/>
<line x1="2350.3" y1="377.4" x2="2359.3" y2="377.4" stroke="#121a16" stroke-width="5.2"/>
<line x1="2023.0" y1="437.6" x2="2057.0" y2="437.6" stroke="#121a16" stroke-width="5.2"/>
<line x1="2406.0" y1="437.6" x2="2439.0" y2="437.6" stroke="#121a16" stroke-width="5.2"/>
<line x1="2210.0" y1="437.6" x2="2248.0" y2="437.6" stroke="#121a16" stroke-width="5.2"/>
<line x1="2101.6" y1="437.6" x2="2110.6" y2="437.6" stroke="#121a16" stroke-width="5.2"/>
<line x1="2156.4" y1="437.6" x2="2165.4" y2="437.6" stroke="#121a16" stroke-width="5.2"/>
<line x1="2292.6" y1="437.6" x2="2301.6" y2="437.6" stroke="#121a16" stroke-width="5.2"/>
<line x1="2350.3" y1="437.6" x2="2359.3" y2="437.6" stroke="#121a16" stroke-width="5.2"/>
<line x1="2023.0" y1="503.6" x2="2057.0" y2="503.6" stroke="#121a16" stroke-width="5.2"/>
<line x1="2406.0" y1="503.6" x2="2439.0" y2="503.6" stroke="#121a16" stroke-width="5.2"/>
<line x1="2210.0" y1="503.6" x2="2248.0" y2="503.6" stroke="#121a16" stroke-width="5.2"/>
<line x1="2101.6" y1="503.6" x2="2110.6" y2="503.6" stroke="#121a16" stroke-width="5.2"/>
<line x1="2156.4" y1="503.6" x2="2165.4" y2="503.6" stroke="#121a16" stroke-width="5.2"/>
<line x1="2292.6" y1="503.6" x2="2301.6" y2="503.6" stroke="#121a16" stroke-width="5.2"/>
<line x1="2350.3" y1="503.6" x2="2359.3" y2="503.6" stroke="#121a16" stroke-width="5.2"/>
<line x1="2023.0" y1="558.3" x2="2057.0" y2="558.3" stroke="#121a16" stroke-width="5.2"/>
<line x1="2406.0" y1="558.3" x2="2439.0" y2="558.3" stroke="#121a16" stroke-width="5.2"/>
<line x1="2210.0" y1="558.3" x2="2248.0" y2="558.3" stroke="#121a16" stroke-width="5.2"/>
<line x1="2101.6" y1="558.3" x2="2110.6" y2="558.3" stroke="#121a16" stroke-width="5.2"/>
<line x1="2156.4" y1="558.3" x2="2165.4" y2="558.3" stroke="#121a16" stroke-width="5.2"/>
<line x1="2292.6" y1="558.3" x2="2301.6" y2="558.3" stroke="#121a16" stroke-width="5.2"/>
<line x1="2350.3" y1="558.3" x2="2359.3" y2="558.3" stroke="#121a16" stroke-width="5.2"/>
<line x1="2079.3" y1="333.0" x2="2079.3" y2="355.0" stroke="#121a16" stroke-width="5.2"/>
<line x1="2079.3" y1="582.0" x2="2079.3" y2="607.0" stroke="#121a16" stroke-width="5.2"/>
<line x1="2079.3" y1="399.0" x2="2079.3" y2="416.0" stroke="#121a16" stroke-width="5.2"/>
<line x1="2079.3" y1="462.1" x2="2079.3" y2="479.1" stroke="#121a16" stroke-width="5.2"/>
<line x1="2079.3" y1="522.5" x2="2079.3" y2="539.5" stroke="#121a16" stroke-width="5.2"/>
<line x1="2132.9" y1="333.0" x2="2132.9" y2="355.0" stroke="#121a16" stroke-width="5.2"/>
<line x1="2132.9" y1="582.0" x2="2132.9" y2="607.0" stroke="#121a16" stroke-width="5.2"/>
<line x1="2132.9" y1="399.0" x2="2132.9" y2="416.0" stroke="#121a16" stroke-width="5.2"/>
<line x1="2132.9" y1="462.1" x2="2132.9" y2="479.1" stroke="#121a16" stroke-width="5.2"/>
<line x1="2132.9" y1="522.5" x2="2132.9" y2="539.5" stroke="#121a16" stroke-width="5.2"/>
<line x1="2188.8" y1="333.0" x2="2188.8" y2="355.0" stroke="#121a16" stroke-width="5.2"/>
<line x1="2188.8" y1="582.0" x2="2188.8" y2="607.0" stroke="#121a16" stroke-width="5.2"/>
<line x1="2188.8" y1="399.0" x2="2188.8" y2="416.0" stroke="#121a16" stroke-width="5.2"/>
<line x1="2188.8" y1="462.1" x2="2188.8" y2="479.1" stroke="#121a16" stroke-width="5.2"/>
<line x1="2188.8" y1="522.5" x2="2188.8" y2="539.5" stroke="#121a16" stroke-width="5.2"/>
<line x1="2268.6" y1="333.0" x2="2268.6" y2="355.0" stroke="#121a16" stroke-width="5.2"/>
<line x1="2268.6" y1="582.0" x2="2268.6" y2="607.0" stroke="#121a16" stroke-width="5.2"/>
<line x1="2268.6" y1="399.0" x2="2268.6" y2="416.0" stroke="#121a16" stroke-width="5.2"/>
<line x1="2268.6" y1="462.1" x2="2268.6" y2="479.1" stroke="#121a16" stroke-width="5.2"/>
<line x1="2268.6" y1="522.5" x2="2268.6" y2="539.5" stroke="#121a16" stroke-width="5.2"/>
<line x1="2325.7" y1="333.0" x2="2325.7" y2="355.0" stroke="#121a16" stroke-width="5.2"/>
<line x1="2325.7" y1="582.0" x2="2325.7" y2="607.0" stroke="#121a16" stroke-width="5.2"/>
<line x1="2325.7" y1="399.0" x2="2325.7" y2="416.0" stroke="#121a16" stroke-width="5.2"/>
<line x1="2325.7" y1="462.1" x2="2325.7" y2="479.1" stroke="#121a16" stroke-width="5.2"/>
<line x1="2325.7" y1="522.5" x2="2325.7" y2="539.5" stroke="#121a16" stroke-width="5.2"/>
<line x1="2384.0" y1="333.0" x2="2384.0" y2="355.0" stroke="#121a16" stroke-width="5.2"/>
<line x1="2384.0" y1="582.0" x2="2384.0" y2="607.0" stroke="#121a16" stroke-width="5.2"/>
<line x1="2384.0" y1="399.0" x2="2384.0" y2="416.0" stroke="#121a16" stroke-width="5.2"/>
<line x1="2384.0" y1="462.1" x2="2384.0" y2="479.1" stroke="#121a16" stroke-width="5.2"/>
<line x1="2384.0" y1="522.5" x2="2384.0" y2="539.5" stroke="#121a16" stroke-width="5.2"/>
<circle cx="2079.3" cy="377.4" r="16.3" fill="#767a80" stroke="#fbfffa" stroke-width="3.6"/>
<circle cx="2132.9" cy="377.4" r="16.3" fill="#767a80" stroke="#fbfffa" stroke-width="3.6"/>
<circle cx="2188.8" cy="377.4" r="16.3" fill="#767a80" stroke="#fbfffa" stroke-width="3.6"/>
<circle cx="2268.6" cy="377.4" r="16.3" fill="#767a80" stroke="#fbfffa" stroke-width="3.6"/>
<circle cx="2325.7" cy="377.4" r="16.3" fill="#767a80" stroke="#fbfffa" stroke-width="3.6"/>
<circle cx="2384" cy="377.4" r="16.3" fill="#767a80" stroke="#fbfffa" stroke-width="3.6"/>
<circle cx="2079.3" cy="437.6" r="16.3" fill="#767a80" stroke="#fbfffa" stroke-width="3.6"/>
<circle cx="2132.9" cy="437.6" r="16.3" fill="#767a80" stroke="#fbfffa" stroke-width="3.6"/>
<circle cx="2188.8" cy="437.6" r="16.3" fill="#767a80" stroke="#fbfffa" stroke-width="3.6"/>
<circle cx="2268.6" cy="437.6" r="16.3" fill="#767a80" stroke="#fbfffa" stroke-width="3.6"/>
<circle cx="2325.7" cy="437.6" r="16.3" fill="#767a80" stroke="#fbfffa" stroke-width="3.6"/>
<circle cx="2384" cy="437.6" r="16.3" fill="#767a80" stroke="#fbfffa" stroke-width="3.6"/>
<circle cx="2079.3" cy="503.6" r="16.3" fill="#767a80" stroke="#fbfffa" stroke-width="3.6"/>
<circle cx="2132.9" cy="503.6" r="16.3" fill="#767a80" stroke="#fbfffa" stroke-width="3.6"/>
<circle cx="2188.8" cy="503.6" r="16.3" fill="#767a80" stroke="#fbfffa" stroke-width="3.6"/>
<circle cx="2268.6" cy="503.6" r="16.3" fill="#767a80" stroke="#fbfffa" stroke-width="3.6"/>
<circle cx="2325.7" cy="503.6" r="16.3" fill="#767a80" stroke="#fbfffa" stroke-width="3.6"/>
<circle cx="2384" cy="503.6" r="16.3" fill="#767a80" stroke="#fbfffa" stroke-width="3.6"/>
<circle cx="2079.3" cy="558.3" r="16.3" fill="#767a80" stroke="#fbfffa" stroke-width="3.6"/>
<circle cx="2132.9" cy="558.3" r="16.3" fill="#767a80" stroke="#fbfffa" stroke-width="3.6"/>
<circle cx="2188.8" cy="558.3" r="16.3" fill="#767a80" stroke="#fbfffa" stroke-width="3.6"/>
<circle cx="2268.6" cy="558.3" r="16.3" fill="#767a80" stroke="#fbfffa" stroke-width="3.6"/>
<circle cx="2325.7" cy="558.3" r="16.3" fill="#767a80" stroke="#fbfffa" stroke-width="3.6"/>
<circle cx="2384" cy="558.3" r="16.3" fill="#767a80" stroke="#fbfffa" stroke-width="3.6"/>
<text x="2237.6" y="653.6" font-size="43" font-weight="bold" text-anchor="middle" textLength="453.0" lengthAdjust="spacingAndGlyphs">Resistive Memory Array</text>
<rect x="1825" y="765" width="593" height="488" rx="62" fill="#fad9c6" stroke="#cc6c24" stroke-width="4.6"/>
<text x="2042.7" y="825.3" font-size="58" font-weight="bold" textLength="168.0" lengthAdjust="spacingAndGlyphs">Digital</text>
<path d="M1895 666V749.8H2013.5V808" fill="none" stroke="#52687a" stroke-width="9.5"/>
<path d="M1996.5 804H2028.5L2013 834.5Z" fill="#52687a"/>
<line x1="1946.0" y1="958.0" x2="1946.0" y2="1014.0" stroke="#b8202a" stroke-width="7"/>
<line x1="2080.0" y1="958.0" x2="2080.0" y2="1014.0" stroke="#b8202a" stroke-width="7"/>
<line x1="2290.0" y1="958.0" x2="2290.0" y2="1014.0" stroke="#b8202a" stroke-width="7"/>
<line x1="2150.0" y1="1047.0" x2="2220.0" y2="1047.0" stroke="#b8202a" stroke-width="7"/>
<line x1="2150.0" y1="1116.0" x2="2220.0" y2="1116.0" stroke="#b8202a" stroke-width="7"/>
<line x1="2150.0" y1="1184.0" x2="2220.0" y2="1184.0" stroke="#b8202a" stroke-width="7"/>
<rect x="1868.5" y="839.0" width="493.5" height="121.0" fill="#f6eba6" stroke="#7c8080" stroke-width="3.4"/>
<text x="2125.0" y="921.0" font-size="56" font-weight="bold" text-anchor="middle" textLength="142.0" lengthAdjust="spacingAndGlyphs">Cache</text>
<rect x="1868.5" y="1012.0" width="283.5" height="205.0" fill="#f6eba6" stroke="#7c8080" stroke-width="3.4"/>
<text x="2008.0" y="1133.0" font-size="54" font-weight="bold" text-anchor="middle" textLength="236.0" lengthAdjust="spacingAndGlyphs">Controller</text>
<rect x="2218.0" y="1012.0" width="144.0" height="205.0" fill="#f6eba6" stroke="#7c8080" stroke-width="3.4"/>
<text x="2290.0" y="1133.0" font-size="54" font-weight="bold" text-anchor="middle" textLength="104.0" lengthAdjust="spacingAndGlyphs">ALU</text>
<defs>
<clipPath id="chipclip"><rect x="2516" y="91" width="594" height="605"/></clipPath>
<pattern id="pgrid" width="6.6" height="19" patternUnits="userSpaceOnUse"><path d="M0 0V19" stroke="#2a2a3c" stroke-width="1.7" fill="none" opacity="0.8"/><path d="M0 0H6.6" stroke="#23233a" stroke-width="2.6" fill="none"/></pattern>
<pattern id="pgrid2" width="17" height="15" patternUnits="userSpaceOnUse"><path d="M0 0H17M0 0V15" stroke="#3a3434" stroke-width="2.6" fill="none"/></pattern>
<pattern id="pstripe" width="20" height="7.6" patternUnits="userSpaceOnUse"><path d="M0 0H20" stroke="#686c86" stroke-width="2.2" fill="none"/></pattern>
<pattern id="pladder" width="40" height="31" patternUnits="userSpaceOnUse"><path d="M0 3H40" stroke="#d4d4cc" stroke-width="5"/><path d="M0 8H40" stroke="#2a2a28" stroke-width="3"/><path d="M6 10V31" stroke="#cfcfc8" stroke-width="4"/><rect x="12" y="12" width="14" height="13" fill="#2c2a26"/></pattern>
<pattern id="porn" width="42" height="62" patternUnits="userSpaceOnUse"><rect width="42" height="62" fill="#2a3794"/><path d="M0 0H42V62H0Z" stroke="#4a62c8" stroke-width="5" fill="none"/><path d="M8 52Q21 6 34 52Z" fill="#161a4c"/><path d="M6 30Q21 14 36 30" stroke="#5a78d8" stroke-width="4" fill="none"/><circle cx="21" cy="14" r="4.5" fill="#5872d0"/></pattern>
<pattern id="pmarks" width="26" height="34" patternUnits="userSpaceOnUse"><rect x="3" y="6" width="16" height="5" fill="#e8e4e0"/><rect x="3" y="16" width="12" height="5" fill="#e8e4e0"/></pattern>
<linearGradient id="gcell" x1="0" y1="0" x2="0" y2="1"><stop offset="0" stop-color="#1c1420"/><stop offset="0.35" stop-color="#33242c"/><stop offset="0.6" stop-color="#3c2c3a"/><stop offset="1" stop-color="#2a2030"/></linearGradient>
<linearGradient id="gcell2" x1="0" y1="0" x2="0" y2="1"><stop offset="0" stop-color="#1c1424"/><stop offset="0.4" stop-color="#30223a"/><stop offset="0.65" stop-color="#3a2a4a"/><stop offset="1" stop-color="#2a2038"/></linearGradient>
<linearGradient id="gcell3" x1="0" y1="0" x2="1" y2="0.4"><stop offset="0" stop-color="#241a22"/><stop offset="0.55" stop-color="#2c2030"/><stop offset="1" stop-color="#3a38b0"/></linearGradient>
<linearGradient id="gnavy" x1="0" y1="0" x2="1" y2="0"><stop offset="0" stop-color="#1a1626"/><stop offset="0.55" stop-color="#26265a"/><stop offset="1" stop-color="#343c96"/></linearGradient>
<linearGradient id="glight" gradientUnits="userSpaceOnUse" x1="-200" y1="0" x2="420" y2="0"><stop offset="0" stop-color="#8294e0"/><stop offset="0.38" stop-color="#95a2dc"/><stop offset="0.45" stop-color="#b0b2cc"/><stop offset="0.8" stop-color="#b6b4c6"/><stop offset="1" stop-color="#a4a6b0"/></linearGradient>
<linearGradient id="gpurp" gradientUnits="userSpaceOnUse" x1="0" y1="-420" x2="0" y2="-8"><stop offset="0" stop-color="#a2a69a"/><stop offset="0.32" stop-color="#a0a2a6"/><stop offset="0.45" stop-color="#9c94d0"/><stop offset="0.75" stop-color="#9a92cc"/><stop offset="1" stop-color="#9c96c4"/></linearGradient>
</defs>
<g clip-path="url(#chipclip)">
<rect x="2516" y="91" width="594" height="605" fill="#8c88a8"/>
<g transform="translate(2721 220) rotate(45)">
<rect x="-320" y="-420" width="960" height="412" fill="url(#gpurp)"/>
<rect x="188" y="-250" width="300" height="170" fill="#8c8edc" opacity="0.55"/>
<rect x="188" y="-120" width="250" height="112" fill="#93a486" opacity="0.85"/>
<polygon points="90,-8 188,-8 188,-100 150,-70" fill="#9aa294" opacity="0.8"/>
<rect x="-320" y="-420" width="265" height="412" fill="#6e6666"/>
<rect x="-320" y="-420" width="190" height="412" fill="#b2a8a2"/>
<rect x="-320" y="-420" width="960" height="412" fill="url(#pgrid)"/>
<rect x="-320" y="-420" width="265" height="412" fill="url(#pgrid2)" opacity="0.6"/>
<path d="M188 -8V-420" stroke="#5a4848" stroke-width="6"/>
<path d="M-55 -8V-420" stroke="#3a2c30" stroke-width="7"/>
<rect x="445" y="-215" width="230" height="207" fill="#46302e"/>
<rect x="470" y="-200" width="180" height="185" fill="url(#pmarks)"/>
<path d="M445 -215V-8" stroke="#d8dcd4" stroke-width="6"/>
<path d="M436 -215V-8" stroke="#3a4a58" stroke-width="8"/>
<rect x="378" y="-44" width="60" height="50" fill="#2c6c5e"/>
<rect x="-320" y="-10" width="960" height="10" fill="#1c1a30"/>
<rect x="-320" y="-8" width="320" height="176" fill="#4e4046"/>
<rect x="-320" y="-8" width="222" height="95" fill="#b0a4a0"/>
<rect x="-320" y="-8" width="222" height="95" fill="url(#pgrid2)"/>
<rect x="-320" y="20" width="100" height="67" fill="#b8989c" opacity="0.7"/>
<rect x="-142" y="-4" width="38" height="36" fill="#3a3232"/>
<rect x="-76" y="-4" width="69" height="70" fill="#86a4cc" stroke="#2a2228" stroke-width="4"/>
<rect x="-76" y="30" width="69" height="36" fill="#a4bcdc" opacity="0.7"/>
<path d="M-76 30H-7" stroke="#20202a" stroke-width="3"/>
<rect x="-330" y="87" width="322" height="12" rx="5" fill="#e4e8e4"/>
<rect x="-330" y="99" width="321" height="22" rx="5" fill="#4a3a30"/>
<rect x="-330" y="121" width="319" height="12" rx="5" fill="#dfe4e4"/>
<rect x="-330" y="133" width="317" height="20" rx="5" fill="#4c3c2c"/>
<rect x="-330" y="153" width="315" height="13" rx="5" fill="#e4e8ec"/>
<rect x="0" y="0" width="367" height="34" fill="url(#gnavy)"/>
<rect x="0" y="34" width="367" height="106" fill="#c9cce4"/>
<rect x="14" y="34" width="106" height="106" fill="url(#gcell)"/>
<rect x="136" y="34" width="106" height="106" fill="url(#gcell2)"/>
<rect x="258" y="34" width="106" height="106" fill="url(#gcell3)"/>
<path d="M126 34V140M248 34V140" stroke="#6a78c8" stroke-width="4"/>
<rect x="0" y="140" width="367" height="22" fill="#74787e"/>
<rect x="0" y="145" width="367" height="4" fill="#c0c4c8"/>
<rect x="-320" y="166" width="960" height="146" fill="url(#glight)"/>
<rect x="-320" y="166" width="960" height="146" fill="url(#pstripe)"/>
<path d="M-320 240H640" stroke="#16161c" stroke-width="5"/>
<path d="M-320 206H640" stroke="#3a3c4a" stroke-width="3"/>
<path d="M150 172V236M196 200V262" stroke="#f4f4f8" stroke-width="3"/>
<path d="M120 250H260M130 262H270M140 276H250" stroke="#33363e" stroke-width="3"/>
<rect x="-320" y="312" width="960" height="200" fill="#8e8e88"/>
<rect x="-320" y="318" width="960" height="200" fill="url(#pladder)"/>
<rect x="-320" y="308" width="960" height="7" fill="#18181c"/>
<rect x="-60" y="316" width="150" height="26" rx="8" fill="#8a949c"/>
<rect x="-60" y="380" width="120" height="60" fill="#5a4c44" opacity="0.8"/>
<rect x="367" y="-10" width="12" height="340" fill="#5a7278"/>
<rect x="379" y="6" width="84" height="330" fill="url(#porn)"/>
<rect x="463" y="-14" width="14" height="360" fill="#2c6c5c"/>
<rect x="477" y="0" width="13" height="360" fill="#a2b044"/>
<rect x="490" y="-14" width="34" height="360" fill="#2a3486"/>
<rect x="524" y="-14" width="140" height="360" fill="#4a8a64"/>
<rect x="560" y="-14" width="10" height="360" fill="#2a3a86"/>
<rect x="489" y="36" width="24" height="23" fill="#f0ecc4"/>
<rect x="489" y="120" width="24" height="23" fill="#f0ecc4"/>
<rect x="513" y="36" width="40" height="23" fill="#2a3486"/>
<rect x="513" y="120" width="40" height="23" fill="#2a3486"/>
<rect x="0" y="0" width="367" height="158" fill="none" stroke="#e0242c" stroke-width="5.5" stroke-dasharray="22 9"/>
</g></g>
<defs><pattern id="psilk" width="9" height="8" patternUnits="userSpaceOnUse"><rect x="1" y="1" width="5" height="3.4" fill="#d8d8d8"/></pattern>
<linearGradient id="geth" x1="0" y1="0" x2="0" y2="1"><stop offset="0" stop-color="#9c9c94"/><stop offset="0.5" stop-color="#b2b2aa"/><stop offset="1" stop-color="#a0a098"/></linearGradient>
<linearGradient id="gsd" x1="0" y1="0" x2="0" y2="1"><stop offset="0" stop-color="#b4ac9c"/><stop offset="1" stop-color="#988e7c"/></linearGradient></defs>
<g>
<rect x="2457.5" y="762.0" width="668.1" height="473.6" fill="#0c0c10" rx="5"/>
<rect x="2700.0" y="800.0" width="45.0" height="80.0" fill="url(#psilk)" opacity="0.75"/>
<rect x="2700.0" y="890.0" width="35.0" height="40.0" fill="url(#psilk)" opacity="0.75"/>
<rect x="2752.0" y="905.0" width="38.0" height="55.0" fill="url(#psilk)" opacity="0.75"/>
<rect x="2885.0" y="850.0" width="40.0" height="20.0" fill="url(#psilk)" opacity="0.75"/>
<rect x="2840.0" y="870.0" width="25.0" height="45.0" fill="url(#psilk)" opacity="0.75"/>
<rect x="2960.0" y="1010.0" width="50.0" height="90.0" fill="url(#psilk)" opacity="0.75"/>
<rect x="2730.0" y="1128.0" width="70.0" height="32.0" fill="url(#psilk)" opacity="0.75"/>
<rect x="2600.0" y="1135.0" width="40.0" height="30.0" fill="url(#psilk)" opacity="0.75"/>
<rect x="2830.0" y="1128.0" width="70.0" height="32.0" fill="url(#psilk)" opacity="0.75"/>
<rect x="2500.0" y="1040.0" width="60.0" height="40.0" fill="url(#psilk)" opacity="0.75"/>
<rect x="2520.0" y="960.0" width="40.0" height="30.0" fill="url(#psilk)" opacity="0.75"/>
<rect x="2960.0" y="960.0" width="50.0" height="40.0" fill="url(#psilk)" opacity="0.75"/>
<rect x="2640.0" y="1182.0" width="30.0" height="43.0" fill="url(#psilk)" opacity="0.75"/>
<rect x="2712.0" y="1182.0" width="28.0" height="43.0" fill="url(#psilk)" opacity="0.75"/>
<rect x="2785.0" y="1182.0" width="27.0" height="43.0" fill="url(#psilk)" opacity="0.75"/>
<rect x="2858.0" y="1182.0" width="28.0" height="43.0" fill="url(#psilk)" opacity="0.75"/>
<rect x="2590.0" y="870.0" width="35.0" height="40.0" fill="url(#psilk)" opacity="0.75"/>
<rect x="2740.0" y="1010.0" width="25.0" height="80.0" fill="url(#psilk)" opacity="0.75"/>
<rect x="2950.0" y="1130.0" width="70.0" height="20.0" fill="url(#psilk)" opacity="0.75"/>
<rect x="2462.0" y="765.0" width="41.0" height="38.0" fill="#dcbc2a" rx="3"/>
<rect x="2474.0" y="777.0" width="17.0" height="14.0" fill="#f0ecd8" rx="5"/>
<rect x="3080.0" y="765.0" width="41.0" height="39.0" fill="#dcbc2a" rx="3"/>
<rect x="3092.0" y="777.0" width="17.0" height="15.0" fill="#f0ecd8" rx="5"/>
<rect x="2461.0" y="1190.0" width="42.0" height="42.0" fill="#dcbc2a" rx="3"/>
<rect x="2473.0" y="1202.0" width="18.0" height="18.0" fill="#f0ecd8" rx="5"/>
<rect x="3080.0" y="1186.5" width="42.0" height="44.0" fill="#dcbc2a" rx="3"/>
<rect x="3092.0" y="1198.5" width="18.0" height="20.0" fill="#f0ecd8" rx="5"/>
<rect x="2423.0" y="803.0" width="163.0" height="131.0" fill="url(#geth)" stroke="#7c7c74" stroke-width="2"/>
<rect x="2423.0" y="803.0" width="163.0" height="15.0" fill="#c4c4bc"/>
<rect x="2530.0" y="828.0" width="19.5" height="79.0" fill="#b59d32" opacity="0.85"/>
<rect x="2423.0" y="922.0" width="163.0" height="12.0" fill="#8a8a84"/>
<rect x="2442.0" y="992.0" width="70.0" height="54.0" fill="#9a9a9a" stroke="#d0d0d0" stroke-width="3"/>
<rect x="2452.0" y="1002.0" width="54.0" height="36.0" fill="#2a2a2e"/>
<rect x="2470.0" y="1010.0" width="16.0" height="20.0" fill="#c8c8c8"/>
<rect x="2430.0" y="1093.0" width="119.0" height="74.0" fill="#16161a" rx="4"/>
<rect x="2458.0" y="1098.0" width="91.0" height="64.0" fill="#26262c" rx="10"/>
<rect x="2462.0" y="1108.0" width="83.0" height="10.0" fill="#3c3c44" rx="5"/>
<rect x="2529.0" y="767.0" width="72.0" height="23.0" fill="#34342c"/>
<rect x="2560.0" y="1060.0" width="10.0" height="130.0" fill="#15151a"/>
<circle cx="2546" cy="953" r="9" fill="#6a5a28"/>
<rect x="2633.0" y="818.0" width="58.0" height="56.0" fill="#15151b" stroke="#4a4a56" stroke-width="2" rx="2"/>
<rect x="2640.0" y="924.0" width="108.0" height="76.0" fill="#15151b" stroke="#4a4a56" stroke-width="2" rx="2"/>
<rect x="2640.0" y="1046.0" width="108.0" height="78.0" fill="#15151b" stroke="#4a4a56" stroke-width="2" rx="2"/>
<rect x="2972.0" y="855.0" width="88.0" height="100.0" fill="#15151b" stroke="#4a4a56" stroke-width="2" rx="2"/>
<rect x="2872.0" y="879.0" width="39.0" height="40.0" fill="#15151b" stroke="#4a4a56" stroke-width="2" rx="2"/>
<rect x="2921.0" y="882.0" width="37.0" height="36.0" fill="#15151b" stroke="#4a4a56" stroke-width="2" rx="2"/>
<rect x="2782.0" y="875.0" width="54.0" height="48.0" fill="#15151b" stroke="#4a4a56" stroke-width="2" rx="2"/>
<rect x="2809.0" y="950.0" width="137.0" height="147.0" fill="#1a1a20" stroke="#8a8a94" stroke-width="2.5" rx="3"/>
<rect x="2818.0" y="960.0" width="120.0" height="128.0" fill="#16161b"/>
<rect x="2801" y="940" width="157" height="167" rx="8" fill="none" stroke="#e2242a" stroke-width="6" stroke-dasharray="17 8"/>
<rect x="3022.0" y="977.0" width="104.0" height="132.0" fill="url(#gsd)" stroke="#c8c4b8" stroke-width="2"/>
<rect x="3022.0" y="977.0" width="104.0" height="15.0" fill="#d0ccc0"/>
<rect x="3030.0" y="1100.0" width="80.0" height="12.0" fill="#2a2a2a"/>
<rect x="2768.0" y="1112.0" width="42.0" height="22.0" fill="#e8e4dc" rx="6"/>
<rect x="2774.0" y="1110.0" width="30.0" height="26.0" fill="#e9a32e" rx="5"/>
<rect x="2817.0" y="1112.0" width="40.0" height="22.0" fill="#e8e4dc" rx="6"/>
<rect x="2823.0" y="1110.0" width="28.0" height="26.0" fill="#e9a32e" rx="5"/>
<rect x="2863.0" y="1112.0" width="40.0" height="22.0" fill="#e8e4dc" rx="6"/>
<rect x="2869.0" y="1110.0" width="28.0" height="26.0" fill="#e9a32e" rx="5"/>
<rect x="2907.0" y="1112.0" width="42.0" height="22.0" fill="#e8e4dc" rx="6"/>
<rect x="2913.0" y="1110.0" width="30.0" height="26.0" fill="#e9a32e" rx="5"/>
<rect x="2566.0" y="1098.6" width="27.0" height="28.4" fill="#e9a32e" rx="7"/>
<rect x="2655.0" y="1010.0" width="22.0" height="16.0" fill="#d89a38" rx="3"/>
<rect x="2701.0" y="1010.0" width="22.0" height="16.0" fill="#d89a38" rx="3"/>
<rect x="2767.0" y="1002.0" width="14.0" height="22.0" fill="#d89a38" rx="3"/>
<rect x="2767.0" y="1060.0" width="14.0" height="22.0" fill="#d89a38" rx="3"/>
<rect x="2597.0" y="1174.0" width="27.0" height="56.0" fill="#d4d4cc" rx="5"/>
<rect x="2591.0" y="1182.0" width="39.0" height="40.0" fill="#4c4c48" rx="4"/>
<rect x="2677.0" y="1174.0" width="25.0" height="56.0" fill="#d4d4cc" rx="5"/>
<rect x="2671.0" y="1182.0" width="37.0" height="40.0" fill="#4c4c48" rx="4"/>
<rect x="2748.0" y="1174.0" width="26.0" height="56.0" fill="#d4d4cc" rx="5"/>
<rect x="2742.0" y="1182.0" width="38.0" height="40.0" fill="#4c4c48" rx="4"/>
<rect x="2822.0" y="1174.0" width="25.0" height="56.0" fill="#d4d4cc" rx="5"/>
<rect x="2816.0" y="1182.0" width="37.0" height="40.0" fill="#4c4c48" rx="4"/>
<rect x="2895.0" y="1174.0" width="25.0" height="56.0" fill="#d4d4cc" rx="5"/>
<rect x="2889.0" y="1182.0" width="37.0" height="40.0" fill="#4c4c48" rx="4"/>
<rect x="2752.0" y="780.0" width="130.0" height="46.0" fill="#15151a" stroke="#2a2a30" stroke-width="2"/>
<ellipse cx="2762.0" cy="773.5" rx="3.8" ry="5.5" fill="#e8e8e4"/>
<ellipse cx="2781.0" cy="773.5" rx="3.8" ry="5.5" fill="#e8e8e4"/>
<ellipse cx="2800.0" cy="773.5" rx="3.8" ry="5.5" fill="#e8e8e4"/>
<ellipse cx="2819.0" cy="773.5" rx="3.8" ry="5.5" fill="#e8e8e4"/>
<ellipse cx="2838.0" cy="773.5" rx="3.8" ry="5.5" fill="#e8e8e4"/>
<ellipse cx="2857.0" cy="773.5" rx="3.8" ry="5.5" fill="#e8e8e4"/>
<ellipse cx="2876.0" cy="773.5" rx="3.8" ry="5.5" fill="#e8e8e4"/>
<ellipse cx="2762.0" cy="833" rx="3.8" ry="5.5" fill="#e8e8e4"/>
<ellipse cx="2781.0" cy="833" rx="3.8" ry="5.5" fill="#e8e8e4"/>
<ellipse cx="2800.0" cy="833" rx="3.8" ry="5.5" fill="#e8e8e4"/>
<ellipse cx="2819.0" cy="833" rx="3.8" ry="5.5" fill="#e8e8e4"/>
<ellipse cx="2838.0" cy="833" rx="3.8" ry="5.5" fill="#e8e8e4"/>
<ellipse cx="2857.0" cy="833" rx="3.8" ry="5.5" fill="#e8e8e4"/>
<ellipse cx="2876.0" cy="833" rx="3.8" ry="5.5" fill="#e8e8e4"/>
<circle cx="2762.0" cy="795" r="2.5" fill="#9a9a96"/>
<circle cx="2781.0" cy="795" r="2.5" fill="#9a9a96"/>
<circle cx="2800.0" cy="795" r="2.5" fill="#9a9a96"/>
<circle cx="2819.0" cy="795" r="2.5" fill="#9a9a96"/>
<circle cx="2838.0" cy="795" r="2.5" fill="#9a9a96"/>
<circle cx="2857.0" cy="795" r="2.5" fill="#9a9a96"/>
<circle cx="2876.0" cy="795" r="2.5" fill="#9a9a96"/>
<circle cx="2762.0" cy="815" r="2.5" fill="#9a9a96"/>
<circle cx="2781.0" cy="815" r="2.5" fill="#9a9a96"/>
<circle cx="2800.0" cy="815" r="2.5" fill="#9a9a96"/>
<circle cx="2819.0" cy="815" r="2.5" fill="#9a9a96"/>
<circle cx="2838.0" cy="815" r="2.5" fill="#9a9a96"/>
<circle cx="2857.0" cy="815" r="2.5" fill="#9a9a96"/>
<circle cx="2876.0" cy="815" r="2.5" fill="#9a9a96"/>
<rect x="2941.0" y="780.0" width="133.0" height="46.0" fill="#15151a" stroke="#2a2a30" stroke-width="2"/>
<ellipse cx="2947.0" cy="773.5" rx="3.8" ry="5.5" fill="#e8e8e4"/>
<ellipse cx="2966.0" cy="773.5" rx="3.8" ry="5.5" fill="#e8e8e4"/>
<ellipse cx="2985.0" cy="773.5" rx="3.8" ry="5.5" fill="#e8e8e4"/>
<ellipse cx="3004.0" cy="773.5" rx="3.8" ry="5.5" fill="#e8e8e4"/>
<ellipse cx="3023.0" cy="773.5" rx="3.8" ry="5.5" fill="#e8e8e4"/>
<ellipse cx="3042.0" cy="773.5" rx="3.8" ry="5.5" fill="#e8e8e4"/>
<ellipse cx="3061.0" cy="773.5" rx="3.8" ry="5.5" fill="#e8e8e4"/>
<ellipse cx="2947.0" cy="833" rx="3.8" ry="5.5" fill="#e8e8e4"/>
<ellipse cx="2966.0" cy="833" rx="3.8" ry="5.5" fill="#e8e8e4"/>
<ellipse cx="2985.0" cy="833" rx="3.8" ry="5.5" fill="#e8e8e4"/>
<ellipse cx="3004.0" cy="833" rx="3.8" ry="5.5" fill="#e8e8e4"/>
<ellipse cx="3023.0" cy="833" rx="3.8" ry="5.5" fill="#e8e8e4"/>
<ellipse cx="3042.0" cy="833" rx="3.8" ry="5.5" fill="#e8e8e4"/>
<ellipse cx="3061.0" cy="833" rx="3.8" ry="5.5" fill="#e8e8e4"/>
<circle cx="2947.0" cy="795" r="2.2" fill="#8a8a86"/>
<circle cx="2966.0" cy="795" r="2.2" fill="#8a8a86"/>
<circle cx="2985.0" cy="795" r="2.2" fill="#8a8a86"/>
<circle cx="3004.0" cy="795" r="2.2" fill="#8a8a86"/>
<circle cx="3023.0" cy="795" r="2.2" fill="#8a8a86"/>
<circle cx="3042.0" cy="795" r="2.2" fill="#8a8a86"/>
<circle cx="3061.0" cy="795" r="2.2" fill="#8a8a86"/>
<circle cx="2947.0" cy="815" r="2.2" fill="#8a8a86"/>
<circle cx="2966.0" cy="815" r="2.2" fill="#8a8a86"/>
<circle cx="2985.0" cy="815" r="2.2" fill="#8a8a86"/>
<circle cx="3004.0" cy="815" r="2.2" fill="#8a8a86"/>
<circle cx="3023.0" cy="815" r="2.2" fill="#8a8a86"/>
<circle cx="3042.0" cy="815" r="2.2" fill="#8a8a86"/>
<circle cx="3061.0" cy="815" r="2.2" fill="#8a8a86"/>
<rect x="2941.0" y="1168.0" width="131.0" height="46.0" fill="#131318" stroke="#26262c" stroke-width="2"/>
<ellipse cx="2950.0" cy="1163" rx="4" ry="7" fill="#e8e8e4"/>
<ellipse cx="2968.8" cy="1163" rx="4" ry="7" fill="#e8e8e4"/>
<ellipse cx="2987.7" cy="1163" rx="4" ry="7" fill="#e8e8e4"/>
<ellipse cx="3006.6" cy="1163" rx="4" ry="7" fill="#e8e8e4"/>
<ellipse cx="3025.4" cy="1163" rx="4" ry="7" fill="#e8e8e4"/>
<ellipse cx="3044.2" cy="1163" rx="4" ry="7" fill="#e8e8e4"/>
<ellipse cx="3063.1" cy="1163" rx="4" ry="7" fill="#e8e8e4"/>
<ellipse cx="2950.0" cy="1220" rx="4" ry="7" fill="#e8e8e4"/>
<ellipse cx="2968.8" cy="1220" rx="4" ry="7" fill="#e8e8e4"/>
<ellipse cx="2987.7" cy="1220" rx="4" ry="7" fill="#e8e8e4"/>
<ellipse cx="3006.6" cy="1220" rx="4" ry="7" fill="#e8e8e4"/>
<ellipse cx="3025.4" cy="1220" rx="4" ry="7" fill="#e8e8e4"/>
<ellipse cx="3044.2" cy="1220" rx="4" ry="7" fill="#e8e8e4"/>
<ellipse cx="3063.1" cy="1220" rx="4" ry="7" fill="#e8e8e4"/>
<circle cx="2950.0" cy="1180.5" r="2.6" fill="#8c8c86"/>
<circle cx="2968.8" cy="1180.5" r="2.6" fill="#8c8c86"/>
<circle cx="2987.7" cy="1180.5" r="2.6" fill="#8c8c86"/>
<circle cx="3006.6" cy="1180.5" r="2.6" fill="#8c8c86"/>
<circle cx="3025.4" cy="1180.5" r="2.6" fill="#8c8c86"/>
<circle cx="3044.2" cy="1180.5" r="2.6" fill="#8c8c86"/>
<circle cx="3063.1" cy="1180.5" r="2.6" fill="#8c8c86"/>
<circle cx="2950.0" cy="1201.5" r="2.6" fill="#8c8c86"/>
<circle cx="2968.8" cy="1201.5" r="2.6" fill="#8c8c86"/>
<circle cx="2987.7" cy="1201.5" r="2.6" fill="#8c8c86"/>
<circle cx="3006.6" cy="1201.5" r="2.6" fill="#8c8c86"/>
<circle cx="3025.4" cy="1201.5" r="2.6" fill="#8c8c86"/>
<circle cx="3044.2" cy="1201.5" r="2.6" fill="#8c8c86"/>
<circle cx="3063.1" cy="1201.5" r="2.6" fill="#8c8c86"/>
<rect x="3073.0" y="851.0" width="44.0" height="25.0" fill="#b4b4bc" rx="4"/>
<rect x="3084.0" y="855.0" width="22.0" height="17.0" fill="#30303a" rx="3"/>
<rect x="3073.0" y="916.0" width="44.0" height="27.0" fill="#b4b4bc" rx="4"/>
<circle cx="3095" cy="930" r="9" fill="#30303a"/>
<circle cx="3100" cy="830" r="4" fill="#a08a28"/>
<rect x="3092.0" y="1113.0" width="25.0" height="10.0" fill="#e4e0d0" rx="5"/>
<rect x="3092.0" y="1130.0" width="25.0" height="10.0" fill="#e4e0d0" rx="5"/>
<rect x="3092.0" y="1147.0" width="25.0" height="10.0" fill="#e4e0d0" rx="5"/>
<rect x="3092.0" y="1162.0" width="25.0" height="10.0" fill="#e4e0d0" rx="5"/>
<rect x="2683.0" y="1158.0" width="22.0" height="10.0" fill="#d8d0b8" rx="2"/>
<rect x="2756.0" y="1158.0" width="22.0" height="10.0" fill="#d0c860" rx="2"/>
<rect x="2830.0" y="1158.0" width="22.0" height="10.0" fill="#d8d060" rx="2"/>
<rect x="2902.0" y="1158.0" width="22.0" height="10.0" fill="#b8d060" rx="2"/>
<rect x="2568.0" y="983.0" width="22.0" height="10.0" fill="#e0dcd0" rx="2"/>
<text x="2626.5" y="1142" font-family='"Liberation Sans", sans-serif' font-size="31" fill="#eeeeee" transform="rotate(-90 2626.5 1142)" textLength="108" lengthAdjust="spacingAndGlyphs">HMR</text>
<path d="M2578 1016q12 10 0 26" stroke="#d8d8d8" stroke-width="3" fill="none"/>
</g>
<path d="M2474 311.5Q2545 321 2616 336" fill="none" stroke="#d2232b" stroke-width="6" stroke-dasharray="21 12"/>
<path d="M2474 668.6Q2570 654 2700 628T2855 599.5" fill="none" stroke="#d2232b" stroke-width="6" stroke-dasharray="21 12"/>
<path d="M2411 807L2801 939" fill="none" stroke="#d2232b" stroke-width="6" stroke-dasharray="21 12"/>
<path d="M2411 1224Q2600 1172 2801 1105" fill="none" stroke="#d2232b" stroke-width="6" stroke-dasharray="21 12"/>
<rect x="183.5" y="1362" width="830.5" height="677" fill="none" stroke="#2a2e33" stroke-width="4.4"/>
<line x1="183.5" y1="2039.0" x2="194.5" y2="2039.0" stroke="#2a2e33" stroke-width="3"/>
<line x1="183.5" y1="2010.1" x2="188.5" y2="2010.1" stroke="#2a2e33" stroke-width="1.8"/>
<line x1="183.5" y1="1993.2" x2="188.5" y2="1993.2" stroke="#2a2e33" stroke-width="1.8"/>
<line x1="183.5" y1="1981.2" x2="188.5" y2="1981.2" stroke="#2a2e33" stroke-width="1.8"/>
<line x1="183.5" y1="1971.9" x2="188.5" y2="1971.9" stroke="#2a2e33" stroke-width="1.8"/>
<line x1="183.5" y1="1964.3" x2="188.5" y2="1964.3" stroke="#2a2e33" stroke-width="1.8"/>
<line x1="183.5" y1="1957.9" x2="188.5" y2="1957.9" stroke="#2a2e33" stroke-width="1.8"/>
<line x1="183.5" y1="1952.3" x2="188.5" y2="1952.3" stroke="#2a2e33" stroke-width="1.8"/>
<line x1="183.5" y1="1947.4" x2="188.5" y2="1947.4" stroke="#2a2e33" stroke-width="1.8"/>
<line x1="183.5" y1="1943.0" x2="194.5" y2="1943.0" stroke="#2a2e33" stroke-width="3"/>
<line x1="183.5" y1="1914.1" x2="188.5" y2="1914.1" stroke="#2a2e33" stroke-width="1.8"/>
<line x1="183.5" y1="1897.2" x2="188.5" y2="1897.2" stroke="#2a2e33" stroke-width="1.8"/>
<line x1="183.5" y1="1885.2" x2="188.5" y2="1885.2" stroke="#2a2e33" stroke-width="1.8"/>
<line x1="183.5" y1="1875.9" x2="188.5" y2="1875.9" stroke="#2a2e33" stroke-width="1.8"/>
<line x1="183.5" y1="1868.3" x2="188.5" y2="1868.3" stroke="#2a2e33" stroke-width="1.8"/>
<line x1="183.5" y1="1861.9" x2="188.5" y2="1861.9" stroke="#2a2e33" stroke-width="1.8"/>
<line x1="183.5" y1="1856.3" x2="188.5" y2="1856.3" stroke="#2a2e33" stroke-width="1.8"/>
<line x1="183.5" y1="1851.4" x2="188.5" y2="1851.4" stroke="#2a2e33" stroke-width="1.8"/>
<line x1="183.5" y1="1847.0" x2="194.5" y2="1847.0" stroke="#2a2e33" stroke-width="3"/>
<line x1="183.5" y1="1818.1" x2="188.5" y2="1818.1" stroke="#2a2e33" stroke-width="1.8"/>
<line x1="183.5" y1="1801.2" x2="188.5" y2="1801.2" stroke="#2a2e33" stroke-width="1.8"/>
<line x1="183.5" y1="1789.2" x2="188.5" y2="1789.2" stroke="#2a2e33" stroke-width="1.8"/>
<line x1="183.5" y1="1779.9" x2="188.5" y2="1779.9" stroke="#2a2e33" stroke-width="1.8"/>
<line x1="183.5" y1="1772.3" x2="188.5" y2="1772.3" stroke="#2a2e33" stroke-width="1.8"/>
<line x1="183.5" y1="1765.9" x2="188.5" y2="1765.9" stroke="#2a2e33" stroke-width="1.8"/>
<line x1="183.5" y1="1760.3" x2="188.5" y2="1760.3" stroke="#2a2e33" stroke-width="1.8"/>
<line x1="183.5" y1="1755.4" x2="188.5" y2="1755.4" stroke="#2a2e33" stroke-width="1.8"/>
<line x1="183.5" y1="1751.0" x2="194.5" y2="1751.0" stroke="#2a2e33" stroke-width="3"/>
<line x1="183.5" y1="1722.1" x2="188.5" y2="1722.1" stroke="#2a2e33" stroke-width="1.8"/>
<line x1="183.5" y1="1705.2" x2="188.5" y2="1705.2" stroke="#2a2e33" stroke-width="1.8"/>
<line x1="183.5" y1="1693.2" x2="188.5" y2="1693.2" stroke="#2a2e33" stroke-width="1.8"/>
<line x1="183.5" y1="1683.9" x2="188.5" y2="1683.9" stroke="#2a2e33" stroke-width="1.8"/>
<line x1="183.5" y1="1676.3" x2="188.5" y2="1676.3" stroke="#2a2e33" stroke-width="1.8"/>
<line x1="183.5" y1="1669.9" x2="188.5" y2="1669.9" stroke="#2a2e33" stroke-width="1.8"/>
<line x1="183.5" y1="1664.3" x2="188.5" y2="1664.3" stroke="#2a2e33" stroke-width="1.8"/>
<line x1="183.5" y1="1659.4" x2="188.5" y2="1659.4" stroke="#2a2e33" stroke-width="1.8"/>
<line x1="183.5" y1="1655.0" x2="194.5" y2="1655.0" stroke="#2a2e33" stroke-width="3"/>
<line x1="183.5" y1="1626.1" x2="188.5" y2="1626.1" stroke="#2a2e33" stroke-width="1.8"/>
<line x1="183.5" y1="1609.2" x2="188.5" y2="1609.2" stroke="#2a2e33" stroke-width="1.8"/>
<line x1="183.5" y1="1597.2" x2="188.5" y2="1597.2" stroke="#2a2e33" stroke-width="1.8"/>
<line x1="183.5" y1="1587.9" x2="188.5" y2="1587.9" stroke="#2a2e33" stroke-width="1.8"/>
<line x1="183.5" y1="1580.3" x2="188.5" y2="1580.3" stroke="#2a2e33" stroke-width="1.8"/>
<line x1="183.5" y1="1573.9" x2="188.5" y2="1573.9" stroke="#2a2e33" stroke-width="1.8"/>
<line x1="183.5" y1="1568.3" x2="188.5" y2="1568.3" stroke="#2a2e33" stroke-width="1.8"/>
<line x1="183.5" y1="1563.4" x2="188.5" y2="1563.4" stroke="#2a2e33" stroke-width="1.8"/>
<line x1="183.5" y1="1559.0" x2="194.5" y2="1559.0" stroke="#2a2e33" stroke-width="3"/>
<line x1="183.5" y1="1530.1" x2="188.5" y2="1530.1" stroke="#2a2e33" stroke-width="1.8"/>
<line x1="183.5" y1="1513.2" x2="188.5" y2="1513.2" stroke="#2a2e33" stroke-width="1.8"/>
<line x1="183.5" y1="1501.2" x2="188.5" y2="1501.2" stroke="#2a2e33" stroke-width="1.8"/>
<line x1="183.5" y1="1491.9" x2="188.5" y2="1491.9" stroke="#2a2e33" stroke-width="1.8"/>
<line x1="183.5" y1="1484.3" x2="188.5" y2="1484.3" stroke="#2a2e33" stroke-width="1.8"/>
<line x1="183.5" y1="1477.9" x2="188.5" y2="1477.9" stroke="#2a2e33" stroke-width="1.8"/>
<line x1="183.5" y1="1472.3" x2="188.5" y2="1472.3" stroke="#2a2e33" stroke-width="1.8"/>
<line x1="183.5" y1="1467.4" x2="188.5" y2="1467.4" stroke="#2a2e33" stroke-width="1.8"/>
<line x1="183.5" y1="1463.0" x2="194.5" y2="1463.0" stroke="#2a2e33" stroke-width="3"/>
<line x1="183.5" y1="1434.1" x2="188.5" y2="1434.1" stroke="#2a2e33" stroke-width="1.8"/>
<line x1="183.5" y1="1417.2" x2="188.5" y2="1417.2" stroke="#2a2e33" stroke-width="1.8"/>
<line x1="183.5" y1="1405.2" x2="188.5" y2="1405.2" stroke="#2a2e33" stroke-width="1.8"/>
<line x1="183.5" y1="1395.9" x2="188.5" y2="1395.9" stroke="#2a2e33" stroke-width="1.8"/>
<line x1="183.5" y1="1388.3" x2="188.5" y2="1388.3" stroke="#2a2e33" stroke-width="1.8"/>
<line x1="183.5" y1="1381.9" x2="188.5" y2="1381.9" stroke="#2a2e33" stroke-width="1.8"/>
<line x1="183.5" y1="1376.3" x2="188.5" y2="1376.3" stroke="#2a2e33" stroke-width="1.8"/>
<line x1="183.5" y1="1371.4" x2="188.5" y2="1371.4" stroke="#2a2e33" stroke-width="1.8"/>
<line x1="183.5" y1="1367.0" x2="194.5" y2="1367.0" stroke="#2a2e33" stroke-width="3"/>
<line x1="183.5" y1="2039.0" x2="183.5" y2="2029.0" stroke="#2a2e33" stroke-width="2.5"/>
<line x1="232.6" y1="2039.0" x2="232.6" y2="2034.0" stroke="#2a2e33" stroke-width="2.5"/>
<line x1="281.7" y1="2039.0" x2="281.7" y2="2034.0" stroke="#2a2e33" stroke-width="2.5"/>
<line x1="330.8" y1="2039.0" x2="330.8" y2="2034.0" stroke="#2a2e33" stroke-width="2.5"/>
<line x1="379.9" y1="2039.0" x2="379.9" y2="2029.0" stroke="#2a2e33" stroke-width="2.5"/>
<line x1="429.0" y1="2039.0" x2="429.0" y2="2034.0" stroke="#2a2e33" stroke-width="2.5"/>
<line x1="478.1" y1="2039.0" x2="478.1" y2="2034.0" stroke="#2a2e33" stroke-width="2.5"/>
<line x1="527.2" y1="2039.0" x2="527.2" y2="2034.0" stroke="#2a2e33" stroke-width="2.5"/>
<line x1="576.3" y1="2039.0" x2="576.3" y2="2029.0" stroke="#2a2e33" stroke-width="2.5"/>
<line x1="625.4" y1="2039.0" x2="625.4" y2="2034.0" stroke="#2a2e33" stroke-width="2.5"/>
<line x1="674.5" y1="2039.0" x2="674.5" y2="2034.0" stroke="#2a2e33" stroke-width="2.5"/>
<line x1="723.6" y1="2039.0" x2="723.6" y2="2034.0" stroke="#2a2e33" stroke-width="2.5"/>
<line x1="772.7" y1="2039.0" x2="772.7" y2="2029.0" stroke="#2a2e33" stroke-width="2.5"/>
<line x1="821.8" y1="2039.0" x2="821.8" y2="2034.0" stroke="#2a2e33" stroke-width="2.5"/>
<line x1="870.9" y1="2039.0" x2="870.9" y2="2034.0" stroke="#2a2e33" stroke-width="2.5"/>
<line x1="920.0" y1="2039.0" x2="920.0" y2="2034.0" stroke="#2a2e33" stroke-width="2.5"/>
<line x1="969.1" y1="2039.0" x2="969.1" y2="2029.0" stroke="#2a2e33" stroke-width="2.5"/>
<text x="167.5" y="1478.5" font-size="50" font-weight="bold" text-anchor="end">10<tspan dx="2" dy="-18" font-size="35">14</tspan></text>
<text x="167.5" y="1672.0" font-size="50" font-weight="bold" text-anchor="end">10<tspan dx="2" dy="-18" font-size="35">12</tspan></text>
<text x="167.5" y="1865.5" font-size="50" font-weight="bold" text-anchor="end">10<tspan dx="2" dy="-18" font-size="35">10</tspan></text>
<text x="155.5" y="2054.5" font-size="50" font-weight="bold" text-anchor="end">10<tspan dx="2" dy="-18" font-size="35">8</tspan></text>
<text x="190.0" y="2087.8" font-size="54" font-weight="bold" text-anchor="middle">0</text>
<text x="369.6" y="2087.8" font-size="54" font-weight="bold" text-anchor="middle">400</text>
<text x="567.8" y="2087.8" font-size="54" font-weight="bold" text-anchor="middle">800</text>
<text x="768.0" y="2087.8" font-size="54" font-weight="bold" text-anchor="middle">1200</text>
<text x="965.0" y="2087.8" font-size="54" font-weight="bold" text-anchor="middle">1600</text>
<text x="599.0" y="2143.2" font-size="55" font-weight="bold" text-anchor="middle" textLength="416.0" lengthAdjust="spacingAndGlyphs">Number of Atoms</text>
<text x="66.0" y="1723.0" font-size="54" font-weight="bold" text-anchor="middle" textLength="400.0" lengthAdjust="spacingAndGlyphs" transform="rotate(-90 66.0 1723.0)">Operation Count</text>
<polyline points="275.4,1737 557.7,1555 931.3,1471" fill="none" stroke="#c8903e" stroke-width="4.3" stroke-dasharray="19 12"/>
<polyline points="275,1920.6 558,1863 934,1834" fill="none" stroke="#4c8cce" stroke-width="4.3" stroke-dasharray="19 12"/>
<polygon points="275.4,1714.5 281.0,1729.2 296.8,1730.0 284.5,1740.0 288.6,1755.2 275.4,1746.6 262.2,1755.2 266.3,1740.0 254.0,1730.0 269.8,1729.2" fill="#ee7b2e" stroke="#c8742c" stroke-width="1.2"/>
<polygon points="557.7,1532.5 563.3,1547.2 579.1,1548.0 566.8,1558.0 570.9,1573.2 557.7,1564.6 544.5,1573.2 548.6,1558.0 536.3,1548.0 552.1,1547.2" fill="#ee7b2e" stroke="#c8742c" stroke-width="1.2"/>
<polygon points="931.3,1448.5 936.9,1463.2 952.7,1464.0 940.4,1474.0 944.5,1489.2 931.3,1480.6 918.1,1489.2 922.2,1474.0 909.9,1464.0 925.7,1463.2" fill="#ee7b2e" stroke="#c8742c" stroke-width="1.2"/>
<circle cx="275" cy="1920.6" r="18.4" fill="url(#gBall)"/>
<circle cx="558" cy="1863" r="18.4" fill="url(#gBall)"/>
<circle cx="934" cy="1834" r="18.4" fill="url(#gBall)"/>
<line x1="561.0" y1="1634.7" x2="584.0" y2="1634.7" stroke="#c8903e" stroke-width="4.6"/>
<line x1="659.0" y1="1634.7" x2="683.5" y2="1634.7" stroke="#c8903e" stroke-width="4.6"/>
<polygon points="629.0,1612.2 634.6,1626.9 650.4,1627.7 638.1,1637.7 642.2,1652.9 629.0,1644.3 615.8,1652.9 619.9,1637.7 607.6,1627.7 623.4,1626.9" fill="#ee7b2e" stroke="#c8742c" stroke-width="1.2"/>
<line x1="561.0" y1="1687.0" x2="582.7" y2="1687.0" stroke="#4c8cce" stroke-width="4.6"/>
<line x1="658.3" y1="1687.0" x2="682.8" y2="1687.0" stroke="#4c8cce" stroke-width="4.6"/>
<circle cx="630" cy="1686.6" r="18.4" fill="url(#gBall)"/>
<text x="702.3" y="1651.3" font-size="55" font-weight="bold" textLength="149.0" lengthAdjust="spacingAndGlyphs">AIMD</text>
<text x="703.0" y="1703.0" font-size="54" font-weight="bold" textLength="228.0" lengthAdjust="spacingAndGlyphs">Co-design</text>
<text x="739.0" y="1425.6" font-size="52" font-weight="bold" textLength="221.0" lengthAdjust="spacingAndGlyphs">8.71×10<tspan dy="-19.8" font-size="35.4">13</tspan></text>
<text x="380.5" y="1495.0" font-size="52" font-weight="bold" textLength="221.5" lengthAdjust="spacingAndGlyphs">1.03×10<tspan dy="-19.8" font-size="35.4">13</tspan></text>
<text x="274.5" y="1813.0" font-size="52" font-weight="bold" textLength="224.0" lengthAdjust="spacingAndGlyphs">1.44×10<tspan dy="-19.8" font-size="35.4">11</tspan></text>
<text x="754.5" y="1796.0" font-size="52" font-weight="bold" textLength="226.0" lengthAdjust="spacingAndGlyphs">1.44×10<tspan dy="-19.8" font-size="35.4">10</tspan></text>
<text x="596.0" y="1940.0" font-size="52" font-weight="bold" textLength="202.0" lengthAdjust="spacingAndGlyphs">7.23×10<tspan dy="-19.8" font-size="35.4">9</tspan></text>
<text x="303.5" y="1988.0" font-size="52" font-weight="bold" textLength="200.0" lengthAdjust="spacingAndGlyphs">1.81×10<tspan dy="-19.8" font-size="35.4">9</tspan></text>
<rect x="1319.0" y="1448.0" width="91.0" height="590.0" fill="url(#gBlue)" stroke="#3a4652" stroke-width="2"/>
<rect x="1576.0" y="1589.0" width="89.0" height="449.0" fill="url(#gBlue)" stroke="#3a4652" stroke-width="2"/>
<rect x="1665.0" y="1589.0" width="92.0" height="449.0" fill="url(#gGreen)" stroke="#3a4652" stroke-width="2"/>
<rect x="1833.0" y="2004.0" width="91.5" height="34.0" fill="url(#gBlue)" stroke="#3a4652" stroke-width="2"/>
<rect x="1924.5" y="2004.0" width="90.5" height="34.0" fill="url(#gGreen)" stroke="#3a4652" stroke-width="2"/>
<rect x="1257.5" y="1366" width="821.0" height="672" fill="none" stroke="#2a2e33" stroke-width="4.4"/>
<line x1="1257.5" y1="2038.0" x2="1266.5" y2="2038.0" stroke="#2a2e33" stroke-width="2.5"/>
<line x1="1257.5" y1="1995.0" x2="1261.5" y2="1995.0" stroke="#2a2e33" stroke-width="1.3"/>
<line x1="1257.5" y1="1969.8" x2="1261.5" y2="1969.8" stroke="#2a2e33" stroke-width="1.3"/>
<line x1="1257.5" y1="1951.9" x2="1261.5" y2="1951.9" stroke="#2a2e33" stroke-width="1.3"/>
<line x1="1257.5" y1="1938.0" x2="1261.5" y2="1938.0" stroke="#2a2e33" stroke-width="1.3"/>
<line x1="1257.5" y1="1926.7" x2="1261.5" y2="1926.7" stroke="#2a2e33" stroke-width="1.3"/>
<line x1="1257.5" y1="1917.2" x2="1261.5" y2="1917.2" stroke="#2a2e33" stroke-width="1.3"/>
<line x1="1257.5" y1="1908.9" x2="1261.5" y2="1908.9" stroke="#2a2e33" stroke-width="1.3"/>
<line x1="1257.5" y1="1901.5" x2="1261.5" y2="1901.5" stroke="#2a2e33" stroke-width="1.3"/>
<text x="1222.5" y="2050.5" font-size="50" font-weight="bold" text-anchor="end">10<tspan dx="2" dy="-18" font-size="35">6</tspan></text>
<line x1="1257.5" y1="1895.0" x2="1266.5" y2="1895.0" stroke="#2a2e33" stroke-width="2.5"/>
<line x1="1257.5" y1="1852.0" x2="1261.5" y2="1852.0" stroke="#2a2e33" stroke-width="1.3"/>
<line x1="1257.5" y1="1826.8" x2="1261.5" y2="1826.8" stroke="#2a2e33" stroke-width="1.3"/>
<line x1="1257.5" y1="1808.9" x2="1261.5" y2="1808.9" stroke="#2a2e33" stroke-width="1.3"/>
<line x1="1257.5" y1="1795.0" x2="1261.5" y2="1795.0" stroke="#2a2e33" stroke-width="1.3"/>
<line x1="1257.5" y1="1783.7" x2="1261.5" y2="1783.7" stroke="#2a2e33" stroke-width="1.3"/>
<line x1="1257.5" y1="1774.2" x2="1261.5" y2="1774.2" stroke="#2a2e33" stroke-width="1.3"/>
<line x1="1257.5" y1="1765.9" x2="1261.5" y2="1765.9" stroke="#2a2e33" stroke-width="1.3"/>
<line x1="1257.5" y1="1758.5" x2="1261.5" y2="1758.5" stroke="#2a2e33" stroke-width="1.3"/>
<text x="1222.5" y="1907.5" font-size="50" font-weight="bold" text-anchor="end">10<tspan dx="2" dy="-18" font-size="35">7</tspan></text>
<line x1="1257.5" y1="1752.0" x2="1266.5" y2="1752.0" stroke="#2a2e33" stroke-width="2.5"/>
<line x1="1257.5" y1="1709.0" x2="1261.5" y2="1709.0" stroke="#2a2e33" stroke-width="1.3"/>
<line x1="1257.5" y1="1683.8" x2="1261.5" y2="1683.8" stroke="#2a2e33" stroke-width="1.3"/>
<line x1="1257.5" y1="1665.9" x2="1261.5" y2="1665.9" stroke="#2a2e33" stroke-width="1.3"/>
<line x1="1257.5" y1="1652.0" x2="1261.5" y2="1652.0" stroke="#2a2e33" stroke-width="1.3"/>
<line x1="1257.5" y1="1640.7" x2="1261.5" y2="1640.7" stroke="#2a2e33" stroke-width="1.3"/>
<line x1="1257.5" y1="1631.2" x2="1261.5" y2="1631.2" stroke="#2a2e33" stroke-width="1.3"/>
<line x1="1257.5" y1="1622.9" x2="1261.5" y2="1622.9" stroke="#2a2e33" stroke-width="1.3"/>
<line x1="1257.5" y1="1615.5" x2="1261.5" y2="1615.5" stroke="#2a2e33" stroke-width="1.3"/>
<text x="1222.5" y="1764.5" font-size="50" font-weight="bold" text-anchor="end">10<tspan dx="2" dy="-18" font-size="35">8</tspan></text>
<line x1="1257.5" y1="1609.0" x2="1266.5" y2="1609.0" stroke="#2a2e33" stroke-width="2.5"/>
<line x1="1257.5" y1="1566.0" x2="1261.5" y2="1566.0" stroke="#2a2e33" stroke-width="1.3"/>
<line x1="1257.5" y1="1540.8" x2="1261.5" y2="1540.8" stroke="#2a2e33" stroke-width="1.3"/>
<line x1="1257.5" y1="1522.9" x2="1261.5" y2="1522.9" stroke="#2a2e33" stroke-width="1.3"/>
<line x1="1257.5" y1="1509.0" x2="1261.5" y2="1509.0" stroke="#2a2e33" stroke-width="1.3"/>
<line x1="1257.5" y1="1497.7" x2="1261.5" y2="1497.7" stroke="#2a2e33" stroke-width="1.3"/>
<line x1="1257.5" y1="1488.2" x2="1261.5" y2="1488.2" stroke="#2a2e33" stroke-width="1.3"/>
<line x1="1257.5" y1="1479.9" x2="1261.5" y2="1479.9" stroke="#2a2e33" stroke-width="1.3"/>
<line x1="1257.5" y1="1472.5" x2="1261.5" y2="1472.5" stroke="#2a2e33" stroke-width="1.3"/>
<text x="1222.5" y="1621.5" font-size="50" font-weight="bold" text-anchor="end">10<tspan dx="2" dy="-18" font-size="35">9</tspan></text>
<line x1="1257.5" y1="1466.0" x2="1266.5" y2="1466.0" stroke="#2a2e33" stroke-width="2.5"/>
<line x1="1257.5" y1="1423.0" x2="1261.5" y2="1423.0" stroke="#2a2e33" stroke-width="1.3"/>
<line x1="1257.5" y1="1397.8" x2="1261.5" y2="1397.8" stroke="#2a2e33" stroke-width="1.3"/>
<line x1="1257.5" y1="1379.9" x2="1261.5" y2="1379.9" stroke="#2a2e33" stroke-width="1.3"/>
<text x="1246.5" y="1478.5" font-size="50" font-weight="bold" text-anchor="end">10<tspan dx="2" dy="-18" font-size="35">10</tspan></text>
<text x="1126.5" y="1709.0" font-size="60" font-weight="bold" text-anchor="middle" textLength="481.0" lengthAdjust="spacingAndGlyphs" transform="rotate(-90 1126.5 1709.0)">Training Cost (OPs)</text>
<text x="1276.5" y="1430.5" font-size="52" font-weight="bold" textLength="197.0" lengthAdjust="spacingAndGlyphs">1.3×10<tspan dy="-19.8" font-size="35.4">10</tspan></text>
<text x="1567.0" y="1573.0" font-size="52" font-weight="bold" textLength="176.5" lengthAdjust="spacingAndGlyphs">1.3×10<tspan dy="-19.8" font-size="35.4">9</tspan></text>
<text x="1837.5" y="1984.0" font-size="52" font-weight="bold" textLength="178.5" lengthAdjust="spacingAndGlyphs">1.8×10<tspan dy="-19.8" font-size="35.4">6</tspan></text>
<rect x="1770.0" y="1421.0" width="97.0" height="45.0" fill="url(#gBlue)" stroke="#4a5866" stroke-width="2"/>
<rect x="1770.0" y="1477.5" width="97.0" height="46.5" fill="url(#gGreen)" stroke="#4a5866" stroke-width="2"/>
<text x="1881.0" y="1455.0" font-size="54" font-weight="bold" textLength="118.0" lengthAdjust="spacingAndGlyphs">GNN</text>
<text x="1881.0" y="1514.0" font-size="54" font-weight="bold" textLength="154.0" lengthAdjust="spacingAndGlyphs">RGNN</text>
<text x="1256.8" y="2119.5" font-size="57" font-weight="bold" textLength="250.0" lengthAdjust="spacingAndGlyphs">MP Layers</text>
<text x="1666.3" y="2095.3" font-size="57" font-weight="bold" text-anchor="middle" textLength="263.0" lengthAdjust="spacingAndGlyphs">Embedding</text>
<text x="1667.2" y="2151.0" font-size="57" font-weight="bold" text-anchor="middle" textLength="157.0" lengthAdjust="spacingAndGlyphs">Layers</text>
<text x="1928.4" y="2095.0" font-size="57" font-weight="bold" text-anchor="middle" textLength="168.0" lengthAdjust="spacingAndGlyphs">Output</text>
<text x="1929.4" y="2151.0" font-size="57" font-weight="bold" text-anchor="middle" textLength="158.5" lengthAdjust="spacingAndGlyphs">Layers</text>
<rect x="2375.0" y="1995.7" width="103.0" height="42.3" fill="#eaec7c" stroke="#4a5a4a" stroke-width="2"/>
<rect x="2478.0" y="1652.5" width="102.0" height="385.5" fill="#e8a9dd" stroke="#4a5a4a" stroke-width="2"/>
<rect x="2580.0" y="1687.5" width="101.5" height="350.5" fill="#a4ae7a" stroke="#4a5a4a" stroke-width="2"/>
<rect x="2919.7" y="1478.7" width="104.3" height="559.3" fill="#a4ae7a" stroke="#4a5a4a" stroke-width="2"/>
<rect x="2289" y="1366" width="822.5" height="672" fill="none" stroke="#2a2e33" stroke-width="4.4"/>
<line x1="2289.0" y1="2029.6" x2="2298.0" y2="2029.6" stroke="#2a2e33" stroke-width="2.5"/>
<line x1="2289.0" y1="1976.0" x2="2293.0" y2="1976.0" stroke="#2a2e33" stroke-width="1.3"/>
<line x1="2289.0" y1="1944.7" x2="2293.0" y2="1944.7" stroke="#2a2e33" stroke-width="1.3"/>
<line x1="2289.0" y1="1922.4" x2="2293.0" y2="1922.4" stroke="#2a2e33" stroke-width="1.3"/>
<line x1="2289.0" y1="1905.2" x2="2293.0" y2="1905.2" stroke="#2a2e33" stroke-width="1.3"/>
<line x1="2289.0" y1="1891.1" x2="2293.0" y2="1891.1" stroke="#2a2e33" stroke-width="1.3"/>
<line x1="2289.0" y1="1879.2" x2="2293.0" y2="1879.2" stroke="#2a2e33" stroke-width="1.3"/>
<line x1="2289.0" y1="1868.8" x2="2293.0" y2="1868.8" stroke="#2a2e33" stroke-width="1.3"/>
<line x1="2289.0" y1="1859.7" x2="2293.0" y2="1859.7" stroke="#2a2e33" stroke-width="1.3"/>
<text x="2281" y="2046.6" font-size="50" font-weight="bold" text-anchor="end">10<tspan dx="2" dy="-17.5" font-size="35">-10</tspan></text>
<line x1="2289.0" y1="1851.6" x2="2298.0" y2="1851.6" stroke="#2a2e33" stroke-width="2.5"/>
<line x1="2289.0" y1="1798.0" x2="2293.0" y2="1798.0" stroke="#2a2e33" stroke-width="1.3"/>
<line x1="2289.0" y1="1766.7" x2="2293.0" y2="1766.7" stroke="#2a2e33" stroke-width="1.3"/>
<line x1="2289.0" y1="1744.4" x2="2293.0" y2="1744.4" stroke="#2a2e33" stroke-width="1.3"/>
<line x1="2289.0" y1="1727.2" x2="2293.0" y2="1727.2" stroke="#2a2e33" stroke-width="1.3"/>
<line x1="2289.0" y1="1713.1" x2="2293.0" y2="1713.1" stroke="#2a2e33" stroke-width="1.3"/>
<line x1="2289.0" y1="1701.2" x2="2293.0" y2="1701.2" stroke="#2a2e33" stroke-width="1.3"/>
<line x1="2289.0" y1="1690.8" x2="2293.0" y2="1690.8" stroke="#2a2e33" stroke-width="1.3"/>
<line x1="2289.0" y1="1681.7" x2="2293.0" y2="1681.7" stroke="#2a2e33" stroke-width="1.3"/>
<text x="2273" y="1868.6" font-size="50" font-weight="bold" text-anchor="end">10<tspan dx="2" dy="-17.5" font-size="35">-9</tspan></text>
<line x1="2289.0" y1="1673.6" x2="2298.0" y2="1673.6" stroke="#2a2e33" stroke-width="2.5"/>
<line x1="2289.0" y1="1620.0" x2="2293.0" y2="1620.0" stroke="#2a2e33" stroke-width="1.3"/>
<line x1="2289.0" y1="1588.7" x2="2293.0" y2="1588.7" stroke="#2a2e33" stroke-width="1.3"/>
<line x1="2289.0" y1="1566.4" x2="2293.0" y2="1566.4" stroke="#2a2e33" stroke-width="1.3"/>
<line x1="2289.0" y1="1549.2" x2="2293.0" y2="1549.2" stroke="#2a2e33" stroke-width="1.3"/>
<line x1="2289.0" y1="1535.1" x2="2293.0" y2="1535.1" stroke="#2a2e33" stroke-width="1.3"/>
<line x1="2289.0" y1="1523.2" x2="2293.0" y2="1523.2" stroke="#2a2e33" stroke-width="1.3"/>
<line x1="2289.0" y1="1512.8" x2="2293.0" y2="1512.8" stroke="#2a2e33" stroke-width="1.3"/>
<line x1="2289.0" y1="1503.7" x2="2293.0" y2="1503.7" stroke="#2a2e33" stroke-width="1.3"/>
<text x="2273" y="1690.6" font-size="50" font-weight="bold" text-anchor="end">10<tspan dx="2" dy="-17.5" font-size="35">-8</tspan></text>
<line x1="2289.0" y1="1495.6" x2="2298.0" y2="1495.6" stroke="#2a2e33" stroke-width="2.5"/>
<line x1="2289.0" y1="1442.0" x2="2293.0" y2="1442.0" stroke="#2a2e33" stroke-width="1.3"/>
<line x1="2289.0" y1="1410.7" x2="2293.0" y2="1410.7" stroke="#2a2e33" stroke-width="1.3"/>
<line x1="2289.0" y1="1388.4" x2="2293.0" y2="1388.4" stroke="#2a2e33" stroke-width="1.3"/>
<line x1="2289.0" y1="1371.2" x2="2293.0" y2="1371.2" stroke="#2a2e33" stroke-width="1.3"/>
<text x="2272" y="1512.6" font-size="50" font-weight="bold" text-anchor="end">10<tspan dx="2" dy="-17.5" font-size="35">-7</tspan></text>
<line x1="2870.0" y1="2038.0" x2="2870.0" y2="2030.0" stroke="#2a2e33" stroke-width="2.5"/>
<text x="2171.0" y="1729.0" font-size="64" font-weight="bold" text-anchor="middle" textLength="508.0" lengthAdjust="spacingAndGlyphs" transform="rotate(-90 2171.0 1729.0)">Inference Energy (J)</text>
<rect x="2341.0" y="1380.0" width="101.3" height="50.0" fill="#eaec7c" stroke="#6a7a4a" stroke-width="2.4"/>
<rect x="2341.0" y="1441.0" width="101.3" height="51.5" fill="#e8a9dd" stroke="#9a78b0" stroke-width="2.4"/>
<rect x="2341.0" y="1501.0" width="101.3" height="50.0" fill="#a4ae7a" stroke="#5a6a5a" stroke-width="2.4"/>
<text x="2459.0" y="1418.0" font-size="56.5" font-weight="bold" textLength="428.0" lengthAdjust="spacingAndGlyphs">Resistive Memory</text>
<text x="2459.0" y="1485.0" font-size="56.5" font-weight="bold" textLength="237.0" lengthAdjust="spacingAndGlyphs">Periphery</text>
<text x="2459.0" y="1551.0" font-size="56.5" font-weight="bold" textLength="161.0" lengthAdjust="spacingAndGlyphs">Digital</text>
<text x="2876.0" y="1460.6" font-size="52" font-weight="bold" textLength="197.0" lengthAdjust="spacingAndGlyphs">1.2×10<tspan dy="-19.8" font-size="35.4">-7</tspan></text>
<text x="2440.5" y="1623.7" font-size="52" font-weight="bold" textLength="189.0" lengthAdjust="spacingAndGlyphs">1.3×10<tspan dy="-19.8" font-size="35.4">-8</tspan></text>
<text x="2597.0" y="1685.0" font-size="52" font-weight="bold" textLength="183.5" lengthAdjust="spacingAndGlyphs">8.2×10<tspan dy="-19.8" font-size="35.4">-9</tspan></text>
<text x="2291.0" y="1979.0" font-size="52" font-weight="normal" stroke="#111" stroke-width="0.9" textLength="194.0" lengthAdjust="spacingAndGlyphs">1.6×10<tspan dy="-19.8" font-size="35.4">-10</tspan></text>
<text x="2323.7" y="2100.4" font-size="56" font-weight="bold" textLength="409.5" lengthAdjust="spacingAndGlyphs">Hybrid Analogue</text>
<text x="2359.0" y="2166.0" font-size="56" font-weight="bold" textLength="339.6" lengthAdjust="spacingAndGlyphs">Digital System</text>
<text x="2920.6" y="2115.0" font-size="56" font-weight="bold" textLength="108.2" lengthAdjust="spacingAndGlyphs">GPU</text>
</svg>
</body></html>
